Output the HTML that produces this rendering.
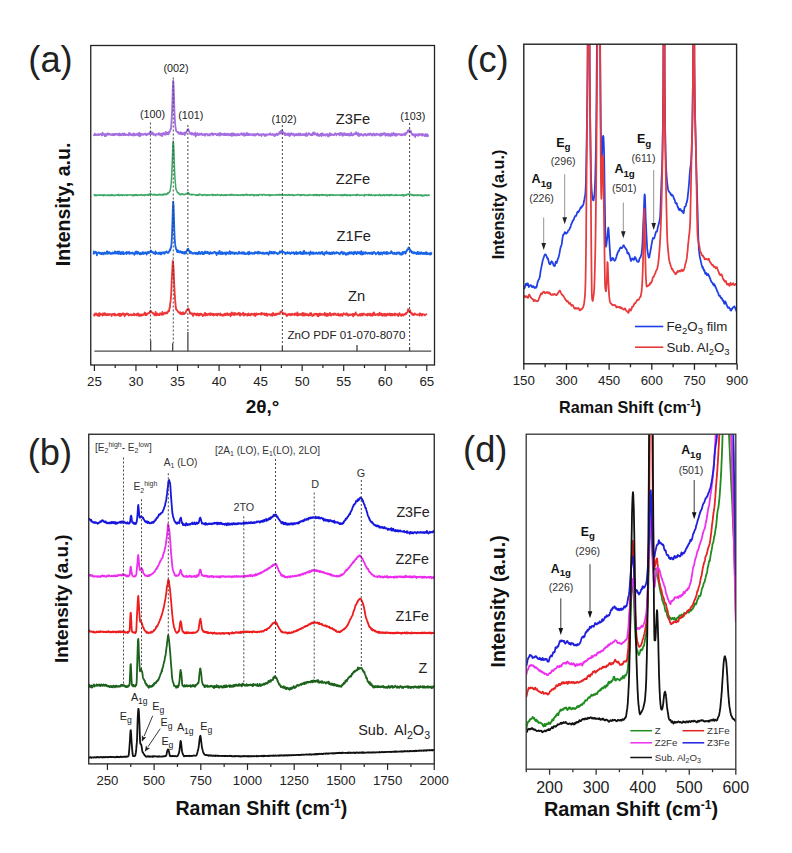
<!DOCTYPE html><html><head><meta charset="utf-8"><style>html,body{margin:0;padding:0;background:#fff;}svg{display:block;}text{font-family:"Liberation Sans", sans-serif;}</style></head><body>
<svg width="792" height="853" viewBox="0 0 792 853">
<rect width="792" height="853" fill="#fff"/>
<defs><clipPath id="ca"><rect x="90.75" y="45.5" width="343.75" height="319.5"/></clipPath></defs>
<line x1="94.40" y1="351.20" x2="431.25" y2="351.20" stroke="#4a4a4a" stroke-width="1.2" />
<line x1="150.66" y1="351.20" x2="150.66" y2="340.30" stroke="#444" stroke-width="1.3" />
<line x1="172.68" y1="351.20" x2="172.68" y2="343.30" stroke="#444" stroke-width="1.3" />
<line x1="187.89" y1="351.20" x2="187.89" y2="332.00" stroke="#444" stroke-width="1.3" />
<line x1="282.37" y1="351.20" x2="282.37" y2="345.80" stroke="#444" stroke-width="1.3" />
<line x1="357.00" y1="351.20" x2="357.00" y2="345.00" stroke="#444" stroke-width="1.3" />
<line x1="409.60" y1="351.20" x2="409.60" y2="347.00" stroke="#444" stroke-width="1.3" />
<path d="M93.6,134.8 L93.9,135.2 L94.3,134.8 L94.7,133.7 L95.1,135.2 L95.4,134.9 L95.8,134.2 L96.2,135.0 L96.6,134.8 L96.9,134.8 L97.3,134.6 L97.7,135.0 L98.1,134.1 L98.4,134.5 L98.8,134.2 L99.2,135.0 L99.6,134.6 L99.9,134.4 L100.3,134.0 L100.7,134.4 L101.0,134.6 L101.4,134.4 L101.8,135.5 L102.2,135.3 L102.5,132.7 L102.9,133.3 L103.3,134.5 L103.7,134.3 L104.0,134.7 L104.4,134.7 L104.8,136.1 L105.2,133.8 L105.5,134.3 L105.9,136.0 L106.3,135.0 L106.7,135.0 L107.0,134.2 L107.4,133.4 L107.8,134.7 L108.2,134.6 L108.5,133.7 L108.9,134.1 L109.3,134.5 L109.6,133.9 L110.0,134.5 L110.4,134.6 L110.8,134.6 L111.1,134.2 L111.5,135.0 L111.9,135.2 L112.3,134.8 L112.6,134.0 L113.0,135.1 L113.4,134.2 L113.8,135.2 L114.1,133.8 L114.5,135.2 L114.9,134.5 L115.3,133.7 L115.6,134.3 L116.0,134.6 L116.4,134.7 L116.8,133.9 L117.1,133.8 L117.5,134.7 L117.9,134.2 L118.2,134.7 L118.6,135.1 L119.0,133.4 L119.4,134.7 L119.7,135.4 L120.1,134.3 L120.5,134.0 L120.9,135.1 L121.2,134.7 L121.6,135.2 L122.0,134.3 L122.4,133.5 L122.7,134.5 L123.1,134.2 L123.5,135.1 L123.9,134.7 L124.2,133.4 L124.6,133.7 L125.0,135.2 L125.4,135.0 L125.7,134.1 L126.1,134.5 L126.5,134.8 L126.9,134.9 L127.2,135.1 L127.6,134.7 L128.0,134.5 L128.3,134.3 L128.7,135.3 L129.1,132.9 L129.5,134.4 L129.8,134.5 L130.2,133.5 L130.6,134.8 L131.0,134.1 L131.3,135.1 L131.7,134.4 L132.1,135.0 L132.5,135.4 L132.8,134.8 L133.2,133.9 L133.6,133.5 L134.0,135.7 L134.3,134.4 L134.7,134.0 L135.1,134.6 L135.5,134.4 L135.8,135.1 L136.2,134.5 L136.6,134.5 L136.9,134.0 L137.3,134.8 L137.7,133.8 L138.1,135.0 L138.4,135.6 L138.8,133.4 L139.2,132.8 L139.6,134.9 L139.9,136.3 L140.3,133.8 L140.7,133.6 L141.1,134.9 L141.4,133.9 L141.8,134.1 L142.2,134.2 L142.6,134.8 L142.9,134.2 L143.3,134.7 L143.7,134.3 L144.1,133.9 L144.4,134.2 L144.8,133.8 L145.2,134.4 L145.5,133.6 L145.9,133.7 L146.3,135.4 L146.7,134.3 L147.0,134.3 L147.4,134.7 L147.8,134.0 L148.2,134.0 L148.5,134.4 L148.9,134.1 L149.3,132.8 L149.7,133.8 L150.0,132.4 L150.4,131.8 L150.8,131.8 L151.2,132.4 L151.5,134.2 L151.9,132.6 L152.3,133.9 L152.7,132.5 L153.0,134.1 L153.4,134.9 L153.8,134.1 L154.1,133.9 L154.5,134.5 L154.9,134.8 L155.3,134.8 L155.6,135.7 L156.0,134.5 L156.4,133.9 L156.8,134.3 L157.1,134.3 L157.5,134.4 L157.9,134.3 L158.3,134.4 L158.6,133.2 L159.0,134.9 L159.4,133.9 L159.8,133.5 L160.1,134.7 L160.5,135.2 L160.9,134.6 L161.3,134.4 L161.6,133.6 L162.0,136.2 L162.4,134.8 L162.7,133.4 L163.1,133.6 L163.5,134.2 L163.9,133.0 L164.2,134.2 L164.6,133.7 L165.0,134.8 L165.4,134.6 L165.7,132.0 L166.1,133.8 L166.5,132.6 L166.9,134.4 L167.2,133.6 L167.6,133.8 L168.0,132.5 L168.4,134.3 L168.7,134.2 L169.1,131.7 L169.5,132.3 L169.9,131.1 L170.2,130.8 L170.6,128.7 L171.0,129.0 L171.4,123.6 L171.7,118.4 L172.1,110.4 L172.5,98.3 L172.8,87.0 L173.2,80.7 L173.6,85.0 L174.0,95.3 L174.3,107.4 L174.7,116.8 L175.1,123.0 L175.5,127.1 L175.8,129.1 L176.2,131.1 L176.6,131.2 L177.0,131.8 L177.3,131.9 L177.7,132.3 L178.1,132.0 L178.5,133.5 L178.8,132.5 L179.2,132.9 L179.6,133.8 L180.0,133.9 L180.3,133.4 L180.7,132.3 L181.1,134.1 L181.4,134.0 L181.8,132.9 L182.2,134.5 L182.6,133.4 L182.9,133.2 L183.3,134.0 L183.7,133.8 L184.1,134.1 L184.4,132.7 L184.8,135.0 L185.2,133.2 L185.6,132.3 L185.9,133.4 L186.3,132.1 L186.7,131.7 L187.1,130.4 L187.4,129.7 L187.8,129.5 L188.2,129.0 L188.6,130.7 L188.9,130.8 L189.3,131.4 L189.7,132.8 L190.0,133.6 L190.4,133.5 L190.8,133.3 L191.2,134.4 L191.5,132.9 L191.9,133.4 L192.3,134.2 L192.7,133.3 L193.0,134.3 L193.4,134.2 L193.8,134.9 L194.2,133.7 L194.5,133.9 L194.9,134.6 L195.3,132.6 L195.7,136.5 L196.0,133.9 L196.4,133.9 L196.8,135.0 L197.2,134.4 L197.5,133.1 L197.9,134.8 L198.3,135.0 L198.6,134.1 L199.0,134.2 L199.4,134.8 L199.8,133.8 L200.1,134.7 L200.5,134.6 L200.9,134.0 L201.3,133.5 L201.6,134.3 L202.0,133.8 L202.4,135.1 L202.8,134.5 L203.1,135.0 L203.5,134.5 L203.9,134.6 L204.3,133.9 L204.6,134.9 L205.0,135.7 L205.4,134.2 L205.8,134.0 L206.1,134.3 L206.5,134.1 L206.9,134.0 L207.2,134.6 L207.6,134.3 L208.0,135.5 L208.4,134.5 L208.7,134.7 L209.1,135.1 L209.5,134.3 L209.9,135.5 L210.2,134.0 L210.6,133.9 L211.0,134.2 L211.4,134.4 L211.7,133.5 L212.1,134.4 L212.5,133.3 L212.9,135.4 L213.2,134.4 L213.6,134.0 L214.0,133.8 L214.4,134.2 L214.7,134.3 L215.1,133.7 L215.5,133.8 L215.9,134.3 L216.2,134.1 L216.6,135.1 L217.0,135.3 L217.3,134.5 L217.7,134.8 L218.1,133.5 L218.5,134.9 L218.8,134.5 L219.2,134.8 L219.6,135.6 L220.0,132.9 L220.3,134.7 L220.7,133.7 L221.1,134.9 L221.5,133.6 L221.8,134.1 L222.2,134.6 L222.6,134.9 L223.0,134.5 L223.3,133.9 L223.7,134.1 L224.1,135.1 L224.5,134.5 L224.8,133.3 L225.2,135.1 L225.6,134.8 L225.9,135.1 L226.3,134.2 L226.7,135.1 L227.1,133.7 L227.4,134.9 L227.8,134.1 L228.2,135.0 L228.6,135.2 L228.9,134.0 L229.3,134.4 L229.7,134.5 L230.1,135.3 L230.4,135.0 L230.8,133.6 L231.2,134.8 L231.6,135.0 L231.9,136.0 L232.3,133.3 L232.7,134.1 L233.1,135.4 L233.4,133.5 L233.8,133.6 L234.2,134.8 L234.5,135.2 L234.9,134.0 L235.3,134.9 L235.7,134.6 L236.0,135.5 L236.4,134.5 L236.8,135.2 L237.2,133.9 L237.5,134.4 L237.9,134.4 L238.3,135.3 L238.7,134.9 L239.0,134.0 L239.4,135.0 L239.8,135.0 L240.2,134.4 L240.5,134.3 L240.9,134.4 L241.3,133.3 L241.7,134.6 L242.0,134.7 L242.4,133.9 L242.8,135.0 L243.1,133.5 L243.5,134.1 L243.9,134.2 L244.3,135.9 L244.6,133.4 L245.0,134.9 L245.4,135.1 L245.8,134.8 L246.1,135.3 L246.5,133.8 L246.9,132.9 L247.3,135.0 L247.6,133.7 L248.0,134.3 L248.4,133.7 L248.8,135.2 L249.1,135.1 L249.5,134.0 L249.9,135.1 L250.3,134.6 L250.6,134.4 L251.0,134.5 L251.4,134.3 L251.7,134.9 L252.1,134.7 L252.5,134.2 L252.9,135.2 L253.2,134.1 L253.6,134.7 L254.0,134.8 L254.4,135.5 L254.7,134.1 L255.1,135.7 L255.5,134.6 L255.9,134.4 L256.2,134.0 L256.6,134.9 L257.0,134.5 L257.4,133.7 L257.7,133.7 L258.1,134.1 L258.5,134.0 L258.9,135.2 L259.2,135.4 L259.6,135.1 L260.0,134.7 L260.4,134.2 L260.7,134.5 L261.1,135.1 L261.5,136.0 L261.8,135.1 L262.2,134.3 L262.6,134.5 L263.0,134.1 L263.3,133.9 L263.7,134.4 L264.1,134.6 L264.5,135.8 L264.8,134.5 L265.2,135.4 L265.6,135.7 L266.0,134.5 L266.3,135.6 L266.7,135.0 L267.1,134.2 L267.5,134.7 L267.8,134.5 L268.2,134.3 L268.6,134.3 L269.0,134.6 L269.3,134.8 L269.7,133.8 L270.1,134.5 L270.4,133.4 L270.8,134.6 L271.2,134.9 L271.6,134.6 L271.9,134.7 L272.3,134.9 L272.7,134.0 L273.1,134.3 L273.4,134.8 L273.8,135.1 L274.2,134.7 L274.6,136.2 L274.9,134.3 L275.3,135.1 L275.7,135.3 L276.1,134.3 L276.4,133.8 L276.8,133.5 L277.2,134.4 L277.6,135.0 L277.9,134.4 L278.3,134.3 L278.7,133.7 L279.0,134.2 L279.4,132.1 L279.8,133.4 L280.2,132.9 L280.5,131.5 L280.9,133.5 L281.3,130.7 L281.7,130.7 L282.0,130.8 L282.4,132.7 L282.8,131.7 L283.2,133.2 L283.5,133.6 L283.9,133.7 L284.3,132.9 L284.7,133.5 L285.0,135.3 L285.4,133.3 L285.8,133.7 L286.2,134.2 L286.5,134.9 L286.9,134.5 L287.3,134.9 L287.6,133.6 L288.0,135.1 L288.4,134.8 L288.8,133.3 L289.1,135.5 L289.5,136.0 L289.9,133.9 L290.3,134.5 L290.6,135.4 L291.0,133.4 L291.4,133.1 L291.8,133.6 L292.1,134.1 L292.5,134.1 L292.9,134.9 L293.3,134.7 L293.6,133.6 L294.0,134.9 L294.4,135.8 L294.8,135.3 L295.1,135.2 L295.5,134.5 L295.9,135.2 L296.2,133.8 L296.6,135.0 L297.0,134.4 L297.4,135.3 L297.7,134.8 L298.1,133.7 L298.5,134.6 L298.9,135.4 L299.2,133.7 L299.6,134.1 L300.0,134.0 L300.4,133.5 L300.7,135.2 L301.1,135.4 L301.5,135.1 L301.9,134.7 L302.2,134.5 L302.6,134.7 L303.0,134.0 L303.4,135.1 L303.7,135.2 L304.1,135.2 L304.5,134.1 L304.9,134.6 L305.2,134.4 L305.6,135.8 L306.0,134.6 L306.3,133.2 L306.7,134.8 L307.1,135.8 L307.5,135.0 L307.8,135.1 L308.2,134.5 L308.6,133.1 L309.0,133.3 L309.3,133.6 L309.7,134.4 L310.1,134.7 L310.5,135.0 L310.8,134.3 L311.2,135.2 L311.6,134.3 L312.0,134.0 L312.3,135.1 L312.7,133.9 L313.1,132.6 L313.5,133.8 L313.8,134.6 L314.2,132.4 L314.6,134.3 L314.9,134.3 L315.3,133.5 L315.7,133.5 L316.1,134.2 L316.4,134.1 L316.8,135.4 L317.2,134.8 L317.6,133.4 L317.9,133.9 L318.3,135.0 L318.7,135.9 L319.1,134.8 L319.4,134.8 L319.8,135.8 L320.2,134.5 L320.6,134.3 L320.9,133.6 L321.3,134.2 L321.7,136.1 L322.1,133.5 L322.4,134.5 L322.8,133.6 L323.2,134.6 L323.5,135.2 L323.9,134.4 L324.3,135.1 L324.7,135.0 L325.0,134.9 L325.4,135.7 L325.8,135.1 L326.2,134.3 L326.5,134.1 L326.9,134.0 L327.3,134.9 L327.7,134.3 L328.0,136.5 L328.4,135.8 L328.8,134.4 L329.2,134.3 L329.5,135.7 L329.9,133.2 L330.3,134.2 L330.7,135.2 L331.0,133.9 L331.4,134.2 L331.8,134.3 L332.1,135.0 L332.5,134.7 L332.9,134.8 L333.3,135.0 L333.6,134.6 L334.0,135.3 L334.4,134.1 L334.8,133.6 L335.1,133.3 L335.5,133.4 L335.9,134.2 L336.3,135.3 L336.6,134.7 L337.0,134.1 L337.4,133.8 L337.8,134.2 L338.1,134.3 L338.5,134.2 L338.9,133.6 L339.3,134.2 L339.6,135.3 L340.0,133.0 L340.4,134.4 L340.7,133.1 L341.1,134.7 L341.5,134.1 L341.9,133.1 L342.2,134.6 L342.6,135.8 L343.0,134.7 L343.4,135.4 L343.7,134.5 L344.1,133.1 L344.5,134.9 L344.9,134.3 L345.2,133.6 L345.6,135.1 L346.0,134.8 L346.4,134.2 L346.7,135.2 L347.1,134.0 L347.5,135.0 L347.9,133.9 L348.2,135.0 L348.6,133.8 L349.0,135.6 L349.4,134.8 L349.7,135.6 L350.1,134.0 L350.5,134.3 L350.8,135.2 L351.2,132.7 L351.6,133.8 L352.0,135.3 L352.3,134.9 L352.7,135.3 L353.1,134.4 L353.5,135.0 L353.8,134.1 L354.2,133.6 L354.6,133.4 L355.0,134.2 L355.3,134.2 L355.7,134.2 L356.1,132.1 L356.5,133.2 L356.8,134.2 L357.2,134.8 L357.6,134.2 L358.0,134.0 L358.3,133.0 L358.7,136.0 L359.1,133.8 L359.4,135.8 L359.8,135.7 L360.2,134.8 L360.6,134.2 L360.9,134.7 L361.3,133.8 L361.7,134.8 L362.1,134.6 L362.4,135.0 L362.8,135.3 L363.2,135.8 L363.6,134.3 L363.9,135.3 L364.3,134.1 L364.7,134.0 L365.1,134.2 L365.4,133.9 L365.8,135.3 L366.2,135.3 L366.6,135.5 L366.9,134.6 L367.3,134.8 L367.7,134.2 L368.0,133.8 L368.4,134.9 L368.8,134.8 L369.2,133.9 L369.5,135.0 L369.9,133.4 L370.3,134.5 L370.7,134.2 L371.0,134.3 L371.4,133.9 L371.8,135.3 L372.2,135.0 L372.5,135.5 L372.9,134.7 L373.3,133.7 L373.7,134.4 L374.0,133.8 L374.4,135.0 L374.8,135.5 L375.2,134.9 L375.5,134.2 L375.9,134.4 L376.3,134.8 L376.6,133.6 L377.0,134.7 L377.4,134.8 L377.8,134.3 L378.1,134.3 L378.5,134.8 L378.9,134.1 L379.3,134.1 L379.6,135.2 L380.0,134.8 L380.4,135.8 L380.8,133.9 L381.1,133.4 L381.5,135.3 L381.9,135.3 L382.3,134.1 L382.6,133.6 L383.0,134.6 L383.4,133.4 L383.8,134.4 L384.1,133.1 L384.5,134.5 L384.9,133.2 L385.3,134.5 L385.6,135.7 L386.0,134.4 L386.4,135.2 L386.7,134.2 L387.1,134.0 L387.5,133.6 L387.9,135.4 L388.2,134.6 L388.6,135.8 L389.0,133.8 L389.4,134.5 L389.7,134.7 L390.1,135.6 L390.5,135.9 L390.9,134.2 L391.2,133.8 L391.6,133.4 L392.0,135.6 L392.4,134.6 L392.7,134.2 L393.1,134.6 L393.5,132.8 L393.9,133.4 L394.2,135.3 L394.6,134.9 L395.0,134.7 L395.3,133.9 L395.7,135.0 L396.1,135.9 L396.5,133.8 L396.8,134.6 L397.2,134.3 L397.6,134.9 L398.0,134.6 L398.3,134.5 L398.7,134.0 L399.1,134.6 L399.5,134.2 L399.8,134.5 L400.2,134.5 L400.6,135.0 L401.0,134.2 L401.3,134.3 L401.7,135.3 L402.1,134.4 L402.5,134.3 L402.8,135.1 L403.2,134.7 L403.6,134.5 L403.9,134.6 L404.3,133.5 L404.7,134.7 L405.1,135.2 L405.4,134.5 L405.8,132.9 L406.2,133.9 L406.6,132.7 L406.9,132.7 L407.3,132.4 L407.7,130.7 L408.1,131.8 L408.4,130.1 L408.8,130.3 L409.2,130.2 L409.6,131.1 L409.9,131.6 L410.3,130.5 L410.7,132.2 L411.1,131.3 L411.4,133.0 L411.8,134.2 L412.2,134.6 L412.5,135.1 L412.9,134.0 L413.3,134.6 L413.7,134.5 L414.0,135.4 L414.4,135.6 L414.8,134.3 L415.2,137.2 L415.5,134.6 L415.9,134.3 L416.3,135.0 L416.7,135.2 L417.0,135.0 L417.4,134.2 L417.8,135.7 L418.2,134.7 L418.5,135.7 L418.9,135.6 L419.3,133.8 L419.7,134.0 L420.0,134.0 L420.4,134.9 L420.8,134.7 L421.1,134.9 L421.5,134.1 L421.9,135.0 L422.3,135.7 L422.6,133.8 L423.0,134.6 L423.4,134.9 L423.8,134.6 L424.1,134.6 L424.5,136.0 L424.9,135.6 L425.3,135.3 L425.6,134.2 L426.0,136.3 L426.4,135.0 L426.8,134.3 L427.1,134.5 L427.5,134.4 L427.9,136.2 L428.3,134.9" fill="none" stroke="#a46ee0" stroke-width="1.8" stroke-linejoin="round" clip-path="url(#ca)"/>
<path d="M93.6,195.2 L93.9,195.0 L94.3,195.1 L94.7,194.5 L95.1,195.7 L95.4,195.5 L95.8,195.1 L96.2,195.4 L96.6,195.3 L96.9,195.0 L97.3,195.5 L97.7,195.1 L98.1,195.1 L98.4,194.9 L98.8,195.3 L99.2,195.1 L99.6,195.3 L99.9,195.0 L100.3,195.2 L100.7,194.9 L101.0,195.4 L101.4,195.2 L101.8,195.3 L102.2,195.3 L102.5,194.9 L102.9,195.4 L103.3,195.8 L103.7,194.7 L104.0,194.6 L104.4,194.7 L104.8,195.4 L105.2,195.2 L105.5,195.5 L105.9,195.4 L106.3,195.2 L106.7,195.2 L107.0,195.1 L107.4,195.4 L107.8,194.8 L108.2,195.0 L108.5,195.2 L108.9,195.7 L109.3,194.9 L109.6,194.8 L110.0,195.0 L110.4,195.4 L110.8,195.1 L111.1,195.5 L111.5,194.6 L111.9,195.5 L112.3,195.5 L112.6,194.7 L113.0,195.2 L113.4,195.5 L113.8,195.2 L114.1,195.4 L114.5,195.8 L114.9,195.2 L115.3,195.0 L115.6,194.9 L116.0,195.3 L116.4,195.1 L116.8,195.1 L117.1,195.1 L117.5,195.3 L117.9,194.8 L118.2,194.7 L118.6,194.4 L119.0,195.5 L119.4,195.1 L119.7,195.6 L120.1,195.1 L120.5,194.9 L120.9,195.3 L121.2,195.1 L121.6,194.7 L122.0,194.8 L122.4,195.6 L122.7,195.2 L123.1,195.2 L123.5,195.0 L123.9,194.9 L124.2,195.4 L124.6,195.1 L125.0,194.9 L125.4,195.1 L125.7,194.8 L126.1,195.2 L126.5,195.4 L126.9,194.8 L127.2,195.5 L127.6,194.9 L128.0,195.1 L128.3,194.8 L128.7,195.0 L129.1,195.1 L129.5,195.0 L129.8,194.9 L130.2,194.9 L130.6,194.8 L131.0,194.6 L131.3,195.0 L131.7,195.2 L132.1,195.4 L132.5,195.3 L132.8,195.8 L133.2,195.2 L133.6,194.9 L134.0,195.6 L134.3,194.8 L134.7,195.4 L135.1,194.8 L135.5,195.2 L135.8,194.5 L136.2,195.3 L136.6,195.0 L136.9,194.8 L137.3,195.6 L137.7,195.3 L138.1,195.1 L138.4,194.8 L138.8,195.0 L139.2,195.0 L139.6,195.3 L139.9,195.3 L140.3,194.8 L140.7,194.9 L141.1,194.9 L141.4,194.6 L141.8,194.9 L142.2,195.0 L142.6,195.2 L142.9,195.4 L143.3,194.8 L143.7,195.2 L144.1,194.9 L144.4,195.6 L144.8,195.0 L145.2,195.2 L145.5,194.7 L145.9,194.7 L146.3,195.0 L146.7,194.9 L147.0,195.1 L147.4,194.5 L147.8,195.1 L148.2,194.6 L148.5,195.3 L148.9,194.6 L149.3,194.9 L149.7,193.9 L150.0,194.3 L150.4,193.7 L150.8,193.8 L151.2,194.1 L151.5,194.2 L151.9,194.5 L152.3,194.8 L152.7,194.9 L153.0,194.8 L153.4,194.4 L153.8,194.6 L154.1,194.8 L154.5,194.2 L154.9,195.1 L155.3,194.8 L155.6,194.8 L156.0,195.2 L156.4,195.1 L156.8,194.9 L157.1,194.6 L157.5,194.9 L157.9,194.9 L158.3,194.6 L158.6,195.1 L159.0,195.0 L159.4,194.2 L159.8,194.8 L160.1,194.4 L160.5,195.1 L160.9,195.0 L161.3,194.4 L161.6,194.4 L162.0,194.7 L162.4,194.6 L162.7,195.1 L163.1,194.8 L163.5,194.4 L163.9,194.7 L164.2,193.8 L164.6,194.5 L165.0,194.6 L165.4,194.2 L165.7,194.0 L166.1,194.3 L166.5,194.6 L166.9,193.9 L167.2,193.4 L167.6,194.0 L168.0,192.8 L168.4,193.2 L168.7,192.6 L169.1,192.6 L169.5,191.6 L169.9,191.5 L170.2,190.1 L170.6,187.8 L171.0,184.9 L171.4,181.0 L171.7,175.1 L172.1,166.0 L172.5,155.6 L172.8,145.8 L173.2,141.3 L173.6,144.3 L174.0,153.3 L174.3,163.4 L174.7,173.3 L175.1,180.3 L175.5,184.3 L175.8,188.5 L176.2,189.9 L176.6,190.7 L177.0,191.1 L177.3,192.4 L177.7,192.8 L178.1,192.8 L178.5,192.7 L178.8,193.8 L179.2,193.5 L179.6,193.7 L180.0,194.8 L180.3,194.7 L180.7,194.4 L181.1,194.1 L181.4,194.5 L181.8,193.6 L182.2,194.4 L182.6,194.2 L182.9,194.1 L183.3,194.0 L183.7,194.7 L184.1,194.5 L184.4,194.6 L184.8,194.8 L185.2,194.2 L185.6,194.0 L185.9,193.7 L186.3,193.9 L186.7,193.9 L187.1,193.3 L187.4,193.2 L187.8,192.4 L188.2,192.8 L188.6,193.0 L188.9,193.2 L189.3,194.5 L189.7,194.5 L190.0,194.3 L190.4,194.4 L190.8,194.7 L191.2,194.3 L191.5,194.9 L191.9,194.4 L192.3,194.7 L192.7,194.5 L193.0,194.7 L193.4,194.5 L193.8,194.4 L194.2,194.6 L194.5,194.7 L194.9,194.8 L195.3,194.9 L195.7,195.4 L196.0,195.1 L196.4,194.8 L196.8,195.1 L197.2,194.7 L197.5,195.4 L197.9,195.1 L198.3,194.5 L198.6,195.2 L199.0,195.2 L199.4,194.1 L199.8,194.7 L200.1,194.8 L200.5,194.4 L200.9,194.6 L201.3,194.7 L201.6,195.1 L202.0,195.0 L202.4,195.7 L202.8,194.8 L203.1,195.3 L203.5,195.0 L203.9,195.0 L204.3,194.6 L204.6,194.4 L205.0,194.7 L205.4,195.2 L205.8,195.4 L206.1,195.1 L206.5,195.1 L206.9,194.7 L207.2,195.4 L207.6,195.4 L208.0,194.8 L208.4,195.0 L208.7,194.7 L209.1,195.4 L209.5,195.1 L209.9,194.9 L210.2,195.1 L210.6,195.1 L211.0,194.9 L211.4,194.6 L211.7,194.6 L212.1,194.5 L212.5,195.1 L212.9,195.6 L213.2,194.5 L213.6,195.0 L214.0,195.1 L214.4,194.7 L214.7,195.0 L215.1,194.7 L215.5,195.3 L215.9,194.8 L216.2,195.0 L216.6,195.2 L217.0,194.9 L217.3,194.4 L217.7,194.8 L218.1,195.2 L218.5,195.0 L218.8,195.1 L219.2,194.7 L219.6,195.0 L220.0,195.2 L220.3,195.0 L220.7,195.6 L221.1,194.9 L221.5,194.7 L221.8,194.5 L222.2,195.3 L222.6,195.0 L223.0,195.3 L223.3,195.1 L223.7,195.5 L224.1,195.4 L224.5,194.9 L224.8,195.1 L225.2,195.3 L225.6,194.6 L225.9,195.4 L226.3,195.4 L226.7,195.3 L227.1,194.9 L227.4,195.1 L227.8,194.7 L228.2,195.0 L228.6,194.8 L228.9,195.0 L229.3,194.8 L229.7,195.1 L230.1,195.3 L230.4,194.6 L230.8,195.3 L231.2,194.4 L231.6,194.3 L231.9,195.0 L232.3,195.0 L232.7,195.1 L233.1,194.5 L233.4,195.0 L233.8,195.0 L234.2,195.4 L234.5,195.0 L234.9,195.1 L235.3,194.7 L235.7,194.9 L236.0,194.9 L236.4,195.2 L236.8,194.7 L237.2,194.7 L237.5,195.2 L237.9,195.5 L238.3,195.1 L238.7,195.1 L239.0,194.9 L239.4,195.3 L239.8,195.2 L240.2,195.5 L240.5,195.1 L240.9,194.7 L241.3,194.8 L241.7,194.7 L242.0,194.6 L242.4,195.4 L242.8,195.2 L243.1,194.6 L243.5,195.5 L243.9,195.1 L244.3,194.7 L244.6,195.1 L245.0,195.0 L245.4,194.8 L245.8,194.4 L246.1,195.0 L246.5,195.1 L246.9,194.2 L247.3,195.2 L247.6,195.2 L248.0,194.9 L248.4,195.0 L248.8,194.9 L249.1,194.7 L249.5,194.9 L249.9,195.4 L250.3,194.6 L250.6,195.1 L251.0,195.0 L251.4,194.8 L251.7,194.9 L252.1,194.6 L252.5,194.7 L252.9,195.0 L253.2,195.1 L253.6,194.7 L254.0,195.9 L254.4,194.8 L254.7,195.0 L255.1,194.9 L255.5,194.9 L255.9,195.4 L256.2,194.8 L256.6,195.4 L257.0,195.3 L257.4,194.7 L257.7,195.3 L258.1,194.8 L258.5,195.8 L258.9,194.9 L259.2,194.7 L259.6,194.4 L260.0,194.6 L260.4,194.8 L260.7,194.7 L261.1,194.6 L261.5,194.8 L261.8,194.9 L262.2,195.4 L262.6,194.5 L263.0,194.8 L263.3,194.7 L263.7,194.5 L264.1,194.6 L264.5,194.7 L264.8,195.2 L265.2,194.9 L265.6,194.8 L266.0,195.2 L266.3,195.1 L266.7,194.9 L267.1,195.1 L267.5,194.7 L267.8,195.2 L268.2,195.1 L268.6,194.9 L269.0,194.6 L269.3,195.5 L269.7,195.0 L270.1,195.9 L270.4,194.8 L270.8,195.3 L271.2,194.9 L271.6,195.1 L271.9,195.2 L272.3,194.8 L272.7,195.0 L273.1,195.0 L273.4,195.0 L273.8,195.2 L274.2,195.3 L274.6,195.2 L274.9,195.1 L275.3,194.9 L275.7,194.7 L276.1,194.8 L276.4,194.8 L276.8,195.2 L277.2,194.9 L277.6,194.6 L277.9,195.2 L278.3,194.8 L278.7,194.8 L279.0,194.9 L279.4,195.1 L279.8,194.3 L280.2,194.7 L280.5,195.1 L280.9,194.9 L281.3,194.7 L281.7,194.8 L282.0,195.4 L282.4,194.9 L282.8,195.2 L283.2,195.2 L283.5,194.9 L283.9,195.1 L284.3,194.9 L284.7,194.8 L285.0,194.7 L285.4,195.3 L285.8,194.9 L286.2,194.8 L286.5,194.7 L286.9,195.5 L287.3,195.2 L287.6,195.0 L288.0,194.8 L288.4,194.5 L288.8,195.1 L289.1,195.1 L289.5,194.6 L289.9,195.4 L290.3,195.2 L290.6,194.7 L291.0,194.8 L291.4,194.9 L291.8,195.1 L292.1,195.0 L292.5,194.5 L292.9,195.5 L293.3,195.1 L293.6,195.4 L294.0,195.4 L294.4,194.9 L294.8,195.1 L295.1,195.2 L295.5,195.2 L295.9,195.0 L296.2,194.8 L296.6,195.0 L297.0,194.8 L297.4,194.8 L297.7,194.4 L298.1,195.0 L298.5,194.7 L298.9,194.8 L299.2,195.0 L299.6,195.1 L300.0,195.6 L300.4,195.1 L300.7,194.6 L301.1,195.1 L301.5,194.8 L301.9,195.1 L302.2,194.8 L302.6,194.8 L303.0,194.9 L303.4,194.8 L303.7,194.5 L304.1,194.8 L304.5,195.0 L304.9,195.4 L305.2,194.9 L305.6,194.9 L306.0,195.2 L306.3,195.2 L306.7,195.5 L307.1,195.2 L307.5,195.0 L307.8,195.4 L308.2,195.5 L308.6,194.9 L309.0,195.1 L309.3,194.5 L309.7,194.9 L310.1,194.8 L310.5,195.0 L310.8,194.9 L311.2,195.0 L311.6,195.0 L312.0,195.2 L312.3,195.1 L312.7,194.9 L313.1,194.6 L313.5,195.4 L313.8,195.5 L314.2,194.9 L314.6,195.2 L314.9,194.6 L315.3,194.6 L315.7,195.0 L316.1,195.5 L316.4,194.7 L316.8,194.8 L317.2,195.5 L317.6,194.5 L317.9,195.2 L318.3,195.2 L318.7,195.0 L319.1,195.1 L319.4,195.8 L319.8,194.7 L320.2,194.9 L320.6,195.0 L320.9,194.8 L321.3,194.6 L321.7,195.5 L322.1,195.1 L322.4,194.5 L322.8,194.8 L323.2,195.2 L323.5,195.2 L323.9,194.6 L324.3,195.0 L324.7,195.1 L325.0,195.2 L325.4,195.2 L325.8,194.5 L326.2,195.6 L326.5,195.1 L326.9,195.6 L327.3,195.9 L327.7,195.0 L328.0,194.7 L328.4,195.3 L328.8,195.0 L329.2,194.9 L329.5,194.7 L329.9,195.6 L330.3,194.9 L330.7,194.6 L331.0,194.9 L331.4,194.7 L331.8,195.1 L332.1,194.9 L332.5,194.7 L332.9,195.2 L333.3,194.9 L333.6,195.3 L334.0,195.4 L334.4,194.9 L334.8,194.9 L335.1,195.1 L335.5,195.3 L335.9,195.1 L336.3,195.1 L336.6,195.1 L337.0,195.2 L337.4,195.3 L337.8,194.9 L338.1,194.9 L338.5,195.1 L338.9,194.9 L339.3,195.1 L339.6,195.2 L340.0,195.1 L340.4,194.9 L340.7,194.8 L341.1,195.6 L341.5,195.3 L341.9,194.7 L342.2,194.8 L342.6,195.6 L343.0,195.5 L343.4,195.1 L343.7,195.4 L344.1,194.6 L344.5,195.1 L344.9,195.3 L345.2,194.5 L345.6,194.8 L346.0,195.3 L346.4,195.4 L346.7,194.9 L347.1,195.2 L347.5,195.6 L347.9,195.0 L348.2,194.7 L348.6,195.1 L349.0,195.0 L349.4,195.5 L349.7,195.1 L350.1,194.8 L350.5,195.8 L350.8,194.9 L351.2,195.2 L351.6,195.3 L352.0,195.3 L352.3,195.1 L352.7,195.3 L353.1,195.1 L353.5,194.7 L353.8,195.0 L354.2,195.0 L354.6,195.0 L355.0,195.1 L355.3,194.9 L355.7,195.5 L356.1,195.6 L356.5,194.4 L356.8,195.1 L357.2,194.9 L357.6,194.3 L358.0,195.2 L358.3,194.9 L358.7,195.0 L359.1,194.9 L359.4,195.4 L359.8,195.5 L360.2,195.2 L360.6,195.3 L360.9,195.1 L361.3,195.2 L361.7,194.9 L362.1,195.1 L362.4,194.9 L362.8,195.2 L363.2,195.4 L363.6,195.2 L363.9,195.5 L364.3,195.9 L364.7,194.5 L365.1,195.1 L365.4,194.9 L365.8,195.0 L366.2,194.7 L366.6,195.1 L366.9,195.0 L367.3,194.9 L367.7,195.0 L368.0,194.9 L368.4,194.4 L368.8,195.4 L369.2,195.0 L369.5,194.8 L369.9,195.2 L370.3,194.9 L370.7,194.5 L371.0,195.4 L371.4,194.6 L371.8,195.1 L372.2,195.2 L372.5,195.5 L372.9,195.5 L373.3,195.2 L373.7,194.9 L374.0,195.0 L374.4,195.5 L374.8,195.7 L375.2,195.3 L375.5,194.9 L375.9,195.4 L376.3,195.0 L376.6,195.0 L377.0,195.1 L377.4,195.3 L377.8,195.2 L378.1,195.4 L378.5,195.5 L378.9,195.3 L379.3,194.4 L379.6,194.6 L380.0,195.2 L380.4,195.1 L380.8,195.8 L381.1,195.1 L381.5,195.1 L381.9,195.4 L382.3,195.5 L382.6,195.1 L383.0,195.3 L383.4,194.8 L383.8,194.9 L384.1,195.5 L384.5,194.7 L384.9,195.4 L385.3,195.4 L385.6,195.4 L386.0,195.4 L386.4,195.3 L386.7,194.5 L387.1,194.9 L387.5,195.0 L387.9,195.4 L388.2,194.8 L388.6,195.0 L389.0,195.1 L389.4,195.6 L389.7,194.7 L390.1,194.8 L390.5,195.4 L390.9,194.5 L391.2,195.3 L391.6,195.0 L392.0,194.7 L392.4,195.1 L392.7,194.9 L393.1,195.2 L393.5,195.3 L393.9,195.6 L394.2,195.2 L394.6,195.2 L395.0,195.0 L395.3,195.2 L395.7,195.5 L396.1,194.6 L396.5,195.4 L396.8,195.0 L397.2,195.2 L397.6,195.3 L398.0,195.4 L398.3,195.3 L398.7,195.1 L399.1,195.3 L399.5,195.2 L399.8,195.1 L400.2,195.2 L400.6,195.4 L401.0,195.2 L401.3,195.2 L401.7,194.8 L402.1,195.1 L402.5,194.6 L402.8,195.4 L403.2,194.9 L403.6,195.6 L403.9,196.1 L404.3,195.0 L404.7,195.5 L405.1,195.2 L405.4,194.9 L405.8,194.8 L406.2,195.2 L406.6,195.3 L406.9,194.9 L407.3,194.2 L407.7,194.2 L408.1,194.2 L408.4,194.5 L408.8,194.1 L409.2,194.1 L409.6,194.5 L409.9,194.2 L410.3,194.4 L410.7,194.6 L411.1,194.2 L411.4,195.0 L411.8,195.1 L412.2,195.4 L412.5,194.7 L412.9,194.9 L413.3,195.4 L413.7,195.3 L414.0,195.6 L414.4,194.9 L414.8,195.3 L415.2,195.0 L415.5,195.3 L415.9,195.1 L416.3,195.4 L416.7,195.5 L417.0,195.4 L417.4,194.7 L417.8,195.5 L418.2,195.4 L418.5,194.9 L418.9,195.0 L419.3,195.2 L419.7,195.4 L420.0,195.1 L420.4,194.8 L420.8,195.3 L421.1,195.3 L421.5,196.0 L421.9,194.9 L422.3,196.0 L422.6,195.8 L423.0,195.4 L423.4,195.8 L423.8,195.3 L424.1,195.6 L424.5,195.0 L424.9,195.3 L425.3,195.0 L425.6,194.8 L426.0,195.2 L426.4,195.1 L426.8,195.4 L427.1,195.7 L427.5,195.2 L427.9,195.3 L428.3,195.3 L428.6,194.8 L429.0,195.4 L429.4,195.3 L429.8,195.3" fill="none" stroke="#3ca866" stroke-width="1.5" stroke-linejoin="round" clip-path="url(#ca)"/>
<path d="M93.6,254.5 L93.9,251.3 L94.3,253.4 L94.7,252.7 L95.1,252.8 L95.4,252.9 L95.8,251.7 L96.2,252.9 L96.6,252.5 L96.9,255.4 L97.3,253.2 L97.7,252.8 L98.1,252.9 L98.4,252.6 L98.8,252.3 L99.2,252.8 L99.6,253.4 L99.9,252.9 L100.3,253.8 L100.7,252.9 L101.0,253.1 L101.4,254.2 L101.8,253.5 L102.2,252.7 L102.5,252.9 L102.9,253.5 L103.3,254.4 L103.7,252.9 L104.0,252.9 L104.4,253.8 L104.8,252.5 L105.2,252.9 L105.5,253.7 L105.9,253.5 L106.3,253.1 L106.7,253.5 L107.0,251.1 L107.4,253.8 L107.8,252.4 L108.2,251.9 L108.5,253.3 L108.9,253.6 L109.3,252.8 L109.6,252.3 L110.0,253.1 L110.4,253.0 L110.8,254.0 L111.1,253.6 L111.5,253.2 L111.9,253.8 L112.3,252.9 L112.6,252.4 L113.0,253.5 L113.4,253.5 L113.8,252.9 L114.1,252.5 L114.5,253.2 L114.9,251.3 L115.3,253.5 L115.6,253.4 L116.0,251.9 L116.4,253.1 L116.8,252.4 L117.1,253.6 L117.5,251.6 L117.9,252.4 L118.2,253.5 L118.6,253.9 L119.0,251.5 L119.4,252.7 L119.7,253.3 L120.1,252.6 L120.5,254.2 L120.9,252.2 L121.2,253.3 L121.6,252.3 L122.0,254.0 L122.4,253.0 L122.7,252.8 L123.1,251.8 L123.5,254.2 L123.9,253.6 L124.2,253.6 L124.6,253.8 L125.0,253.3 L125.4,252.6 L125.7,252.5 L126.1,252.5 L126.5,254.0 L126.9,252.0 L127.2,252.6 L127.6,252.8 L128.0,253.2 L128.3,253.4 L128.7,252.2 L129.1,251.8 L129.5,253.0 L129.8,253.9 L130.2,253.6 L130.6,253.2 L131.0,252.8 L131.3,253.2 L131.7,252.9 L132.1,253.6 L132.5,252.5 L132.8,253.1 L133.2,252.9 L133.6,253.4 L134.0,253.2 L134.3,254.8 L134.7,254.1 L135.1,254.1 L135.5,251.6 L135.8,252.8 L136.2,252.6 L136.6,253.4 L136.9,251.4 L137.3,253.8 L137.7,253.8 L138.1,252.1 L138.4,252.3 L138.8,252.4 L139.2,253.0 L139.6,253.4 L139.9,254.4 L140.3,252.9 L140.7,253.5 L141.1,253.1 L141.4,254.2 L141.8,253.5 L142.2,253.9 L142.6,252.2 L142.9,252.8 L143.3,252.4 L143.7,254.0 L144.1,253.4 L144.4,252.8 L144.8,252.6 L145.2,253.3 L145.5,252.5 L145.9,252.3 L146.3,253.3 L146.7,254.6 L147.0,252.7 L147.4,252.5 L147.8,252.0 L148.2,251.8 L148.5,253.1 L148.9,253.1 L149.3,252.3 L149.7,252.3 L150.0,251.8 L150.4,251.6 L150.8,250.4 L151.2,251.3 L151.5,252.0 L151.9,251.7 L152.3,252.1 L152.7,252.0 L153.0,252.5 L153.4,253.4 L153.8,252.5 L154.1,252.7 L154.5,253.4 L154.9,253.3 L155.3,254.1 L155.6,251.4 L156.0,253.5 L156.4,252.5 L156.8,253.0 L157.1,253.5 L157.5,253.6 L157.9,253.6 L158.3,253.0 L158.6,254.0 L159.0,252.7 L159.4,252.7 L159.8,253.4 L160.1,252.4 L160.5,254.3 L160.9,253.5 L161.3,254.3 L161.6,252.8 L162.0,252.5 L162.4,252.9 L162.7,253.2 L163.1,252.3 L163.5,253.0 L163.9,252.7 L164.2,253.8 L164.6,252.1 L165.0,253.3 L165.4,252.1 L165.7,251.8 L166.1,251.9 L166.5,251.5 L166.9,252.4 L167.2,252.9 L167.6,252.2 L168.0,252.4 L168.4,252.9 L168.7,251.8 L169.1,251.5 L169.5,250.8 L169.9,249.5 L170.2,250.5 L170.6,247.9 L171.0,248.0 L171.4,244.8 L171.7,240.8 L172.1,232.1 L172.5,220.4 L172.8,209.1 L173.2,201.7 L173.6,206.4 L174.0,218.2 L174.3,229.8 L174.7,238.4 L175.1,243.4 L175.5,247.0 L175.8,247.3 L176.2,249.7 L176.6,249.6 L177.0,251.7 L177.3,252.1 L177.7,250.1 L178.1,251.8 L178.5,251.8 L178.8,251.3 L179.2,252.5 L179.6,251.9 L180.0,251.1 L180.3,252.2 L180.7,252.3 L181.1,252.5 L181.4,251.6 L181.8,252.9 L182.2,253.1 L182.6,251.8 L182.9,252.1 L183.3,252.5 L183.7,252.2 L184.1,253.8 L184.4,252.7 L184.8,251.8 L185.2,251.8 L185.6,252.1 L185.9,253.5 L186.3,251.3 L186.7,250.8 L187.1,250.4 L187.4,249.2 L187.8,250.5 L188.2,248.7 L188.6,250.2 L188.9,250.6 L189.3,251.6 L189.7,250.9 L190.0,253.4 L190.4,252.3 L190.8,252.6 L191.2,252.0 L191.5,252.2 L191.9,253.1 L192.3,253.5 L192.7,253.3 L193.0,253.7 L193.4,253.3 L193.8,252.9 L194.2,253.4 L194.5,253.3 L194.9,252.8 L195.3,253.4 L195.7,253.8 L196.0,253.1 L196.4,252.7 L196.8,253.4 L197.2,254.2 L197.5,252.8 L197.9,252.9 L198.3,252.8 L198.6,253.8 L199.0,251.6 L199.4,253.2 L199.8,253.8 L200.1,252.4 L200.5,254.0 L200.9,253.3 L201.3,252.6 L201.6,253.1 L202.0,251.9 L202.4,252.6 L202.8,254.2 L203.1,252.3 L203.5,254.2 L203.9,252.9 L204.3,253.7 L204.6,253.0 L205.0,251.4 L205.4,252.6 L205.8,253.1 L206.1,252.2 L206.5,252.0 L206.9,253.2 L207.2,252.5 L207.6,251.8 L208.0,252.5 L208.4,253.6 L208.7,252.6 L209.1,253.6 L209.5,254.0 L209.9,253.0 L210.2,252.2 L210.6,252.1 L211.0,253.0 L211.4,253.6 L211.7,253.2 L212.1,253.4 L212.5,252.7 L212.9,253.2 L213.2,252.6 L213.6,252.7 L214.0,252.1 L214.4,251.9 L214.7,252.6 L215.1,252.2 L215.5,252.3 L215.9,253.4 L216.2,252.9 L216.6,255.0 L217.0,253.6 L217.3,252.5 L217.7,253.5 L218.1,253.2 L218.5,252.5 L218.8,253.8 L219.2,252.4 L219.6,250.8 L220.0,253.5 L220.3,252.6 L220.7,254.0 L221.1,252.5 L221.5,252.2 L221.8,254.1 L222.2,252.2 L222.6,253.1 L223.0,254.0 L223.3,253.1 L223.7,252.9 L224.1,253.1 L224.5,253.6 L224.8,252.4 L225.2,253.4 L225.6,253.4 L225.9,254.6 L226.3,252.8 L226.7,252.3 L227.1,253.5 L227.4,252.7 L227.8,253.2 L228.2,253.1 L228.6,253.8 L228.9,252.5 L229.3,252.9 L229.7,251.2 L230.1,252.4 L230.4,254.1 L230.8,252.5 L231.2,252.5 L231.6,252.1 L231.9,253.4 L232.3,253.1 L232.7,252.2 L233.1,253.5 L233.4,253.2 L233.8,253.5 L234.2,252.5 L234.5,254.2 L234.9,253.3 L235.3,252.9 L235.7,252.6 L236.0,252.8 L236.4,253.6 L236.8,252.8 L237.2,253.7 L237.5,253.4 L237.9,253.9 L238.3,253.6 L238.7,252.9 L239.0,251.7 L239.4,253.2 L239.8,253.5 L240.2,253.1 L240.5,253.4 L240.9,252.7 L241.3,252.7 L241.7,252.3 L242.0,253.9 L242.4,253.1 L242.8,252.6 L243.1,252.1 L243.5,252.9 L243.9,254.0 L244.3,253.3 L244.6,252.5 L245.0,254.0 L245.4,254.0 L245.8,253.7 L246.1,253.5 L246.5,253.8 L246.9,253.4 L247.3,253.5 L247.6,252.4 L248.0,254.0 L248.4,253.2 L248.8,254.4 L249.1,251.6 L249.5,253.5 L249.9,253.7 L250.3,252.8 L250.6,253.3 L251.0,253.5 L251.4,253.4 L251.7,252.6 L252.1,252.9 L252.5,253.7 L252.9,253.9 L253.2,253.1 L253.6,253.0 L254.0,253.1 L254.4,253.7 L254.7,252.3 L255.1,252.1 L255.5,253.1 L255.9,252.2 L256.2,252.6 L256.6,253.1 L257.0,253.3 L257.4,252.2 L257.7,253.6 L258.1,251.7 L258.5,253.4 L258.9,251.9 L259.2,252.1 L259.6,253.4 L260.0,252.7 L260.4,252.4 L260.7,252.7 L261.1,253.3 L261.5,253.0 L261.8,253.0 L262.2,253.7 L262.6,252.5 L263.0,252.7 L263.3,252.6 L263.7,253.8 L264.1,253.7 L264.5,253.9 L264.8,253.0 L265.2,252.9 L265.6,253.6 L266.0,252.7 L266.3,253.6 L266.7,253.5 L267.1,252.5 L267.5,252.9 L267.8,252.9 L268.2,254.2 L268.6,254.8 L269.0,252.9 L269.3,253.0 L269.7,251.4 L270.1,253.1 L270.4,253.0 L270.8,252.2 L271.2,253.5 L271.6,251.9 L271.9,252.8 L272.3,253.1 L272.7,252.1 L273.1,253.6 L273.4,253.7 L273.8,252.0 L274.2,252.0 L274.6,253.4 L274.9,252.9 L275.3,252.1 L275.7,252.7 L276.1,252.8 L276.4,252.8 L276.8,253.5 L277.2,253.1 L277.6,254.1 L277.9,253.8 L278.3,253.2 L278.7,253.4 L279.0,253.5 L279.4,252.9 L279.8,251.3 L280.2,252.5 L280.5,251.7 L280.9,252.5 L281.3,251.2 L281.7,251.4 L282.0,251.3 L282.4,252.5 L282.8,251.7 L283.2,251.7 L283.5,252.3 L283.9,252.0 L284.3,252.6 L284.7,252.6 L285.0,252.9 L285.4,254.2 L285.8,252.6 L286.2,252.9 L286.5,252.8 L286.9,253.4 L287.3,252.1 L287.6,252.5 L288.0,252.9 L288.4,253.3 L288.8,252.9 L289.1,252.6 L289.5,252.4 L289.9,253.3 L290.3,254.0 L290.6,253.2 L291.0,253.1 L291.4,253.3 L291.8,252.3 L292.1,252.8 L292.5,252.8 L292.9,253.2 L293.3,253.0 L293.6,252.1 L294.0,253.8 L294.4,254.2 L294.8,252.8 L295.1,253.3 L295.5,253.2 L295.9,253.6 L296.2,252.0 L296.6,254.1 L297.0,252.7 L297.4,253.9 L297.7,253.1 L298.1,252.7 L298.5,252.9 L298.9,253.6 L299.2,252.4 L299.6,252.8 L300.0,252.7 L300.4,251.8 L300.7,253.9 L301.1,253.4 L301.5,253.0 L301.9,253.8 L302.2,252.4 L302.6,253.0 L303.0,254.2 L303.4,253.7 L303.7,251.5 L304.1,250.7 L304.5,252.3 L304.9,253.8 L305.2,252.7 L305.6,252.9 L306.0,253.5 L306.3,252.4 L306.7,253.2 L307.1,253.6 L307.5,253.4 L307.8,253.3 L308.2,252.6 L308.6,253.4 L309.0,252.7 L309.3,253.9 L309.7,254.8 L310.1,252.5 L310.5,251.5 L310.8,252.7 L311.2,253.3 L311.6,253.8 L312.0,253.8 L312.3,252.5 L312.7,252.5 L313.1,253.9 L313.5,252.3 L313.8,253.8 L314.2,252.9 L314.6,253.6 L314.9,253.5 L315.3,253.6 L315.7,253.6 L316.1,252.4 L316.4,253.3 L316.8,253.1 L317.2,253.3 L317.6,253.9 L317.9,252.9 L318.3,252.6 L318.7,252.5 L319.1,252.8 L319.4,253.6 L319.8,252.5 L320.2,253.9 L320.6,253.3 L320.9,252.9 L321.3,252.1 L321.7,253.2 L322.1,253.5 L322.4,251.8 L322.8,253.9 L323.2,254.2 L323.5,253.3 L323.9,253.4 L324.3,254.8 L324.7,253.9 L325.0,252.4 L325.4,253.1 L325.8,253.0 L326.2,253.0 L326.5,251.4 L326.9,253.6 L327.3,252.6 L327.7,253.2 L328.0,253.0 L328.4,253.7 L328.8,252.9 L329.2,252.5 L329.5,253.4 L329.9,254.1 L330.3,252.9 L330.7,254.0 L331.0,253.3 L331.4,252.7 L331.8,254.1 L332.1,252.5 L332.5,253.8 L332.9,252.7 L333.3,253.4 L333.6,252.2 L334.0,252.5 L334.4,253.8 L334.8,253.2 L335.1,253.1 L335.5,252.8 L335.9,253.4 L336.3,252.1 L336.6,252.3 L337.0,253.0 L337.4,252.5 L337.8,252.6 L338.1,253.0 L338.5,253.0 L338.9,252.9 L339.3,254.3 L339.6,253.8 L340.0,254.0 L340.4,253.1 L340.7,252.7 L341.1,252.1 L341.5,252.9 L341.9,251.6 L342.2,252.7 L342.6,253.6 L343.0,254.2 L343.4,253.8 L343.7,252.5 L344.1,253.5 L344.5,252.6 L344.9,253.7 L345.2,253.0 L345.6,253.7 L346.0,254.9 L346.4,253.8 L346.7,254.7 L347.1,253.2 L347.5,252.9 L347.9,254.1 L348.2,254.3 L348.6,252.7 L349.0,253.2 L349.4,252.1 L349.7,253.0 L350.1,253.7 L350.5,253.1 L350.8,252.7 L351.2,252.1 L351.6,253.4 L352.0,253.7 L352.3,253.5 L352.7,253.3 L353.1,252.2 L353.5,254.4 L353.8,253.1 L354.2,253.0 L354.6,253.6 L355.0,251.6 L355.3,253.1 L355.7,253.0 L356.1,253.4 L356.5,254.1 L356.8,253.5 L357.2,251.9 L357.6,252.9 L358.0,253.3 L358.3,253.2 L358.7,252.3 L359.1,252.0 L359.4,253.5 L359.8,253.4 L360.2,253.1 L360.6,251.9 L360.9,254.4 L361.3,251.1 L361.7,252.9 L362.1,254.6 L362.4,253.0 L362.8,253.3 L363.2,252.3 L363.6,254.1 L363.9,252.3 L364.3,253.3 L364.7,253.3 L365.1,252.4 L365.4,253.8 L365.8,252.2 L366.2,252.7 L366.6,253.1 L366.9,252.9 L367.3,253.5 L367.7,253.8 L368.0,253.0 L368.4,252.8 L368.8,252.8 L369.2,252.9 L369.5,253.7 L369.9,253.0 L370.3,253.5 L370.7,253.1 L371.0,252.6 L371.4,253.8 L371.8,252.5 L372.2,253.2 L372.5,254.2 L372.9,252.4 L373.3,253.1 L373.7,252.1 L374.0,252.8 L374.4,252.1 L374.8,252.9 L375.2,252.8 L375.5,253.3 L375.9,254.3 L376.3,253.4 L376.6,253.7 L377.0,253.2 L377.4,253.0 L377.8,252.6 L378.1,251.9 L378.5,253.3 L378.9,254.3 L379.3,253.5 L379.6,252.8 L380.0,254.4 L380.4,252.9 L380.8,252.8 L381.1,252.4 L381.5,252.5 L381.9,253.0 L382.3,254.6 L382.6,253.1 L383.0,252.5 L383.4,252.8 L383.8,253.1 L384.1,252.0 L384.5,253.3 L384.9,253.7 L385.3,253.4 L385.6,253.6 L386.0,252.3 L386.4,252.0 L386.7,254.1 L387.1,254.0 L387.5,252.1 L387.9,253.4 L388.2,253.2 L388.6,253.6 L389.0,253.4 L389.4,252.9 L389.7,253.4 L390.1,253.3 L390.5,253.2 L390.9,251.9 L391.2,251.1 L391.6,252.7 L392.0,252.1 L392.4,253.4 L392.7,253.7 L393.1,253.4 L393.5,253.0 L393.9,253.3 L394.2,254.0 L394.6,252.7 L395.0,253.9 L395.3,253.7 L395.7,253.4 L396.1,254.2 L396.5,252.7 L396.8,253.9 L397.2,252.6 L397.6,252.7 L398.0,252.5 L398.3,253.5 L398.7,252.6 L399.1,253.2 L399.5,252.4 L399.8,253.9 L400.2,254.5 L400.6,253.3 L401.0,254.3 L401.3,253.6 L401.7,254.7 L402.1,253.2 L402.5,252.0 L402.8,254.2 L403.2,253.0 L403.6,252.3 L403.9,252.6 L404.3,251.8 L404.7,252.8 L405.1,252.1 L405.4,253.7 L405.8,253.0 L406.2,251.1 L406.6,250.8 L406.9,250.9 L407.3,249.3 L407.7,249.8 L408.1,249.0 L408.4,247.8 L408.8,247.5 L409.2,248.2 L409.6,249.3 L409.9,250.0 L410.3,249.8 L410.7,251.2 L411.1,250.7 L411.4,252.1 L411.8,251.5 L412.2,253.0 L412.5,251.8 L412.9,252.2 L413.3,252.9 L413.7,253.4 L414.0,252.1 L414.4,252.7 L414.8,253.2 L415.2,253.3 L415.5,252.6 L415.9,253.3 L416.3,253.0 L416.7,254.2 L417.0,253.6 L417.4,252.3 L417.8,251.7 L418.2,253.3 L418.5,254.1 L418.9,253.4 L419.3,253.9 L419.7,252.9 L420.0,252.3 L420.4,253.8 L420.8,253.4 L421.1,253.8 L421.5,252.3 L421.9,253.4 L422.3,252.9 L422.6,253.9 L423.0,252.9 L423.4,252.9 L423.8,252.9 L424.1,254.2 L424.5,253.4 L424.9,252.8 L425.3,252.6 L425.6,252.6 L426.0,254.4 L426.4,252.1 L426.8,252.8 L427.1,253.8 L427.5,254.2 L427.9,253.3 L428.3,253.9 L428.6,253.9 L429.0,254.1 L429.4,253.4 L429.8,254.5 L430.1,253.5 L430.5,254.5 L430.9,252.6 L431.2,254.1 L431.6,252.5" fill="none" stroke="#1a64e8" stroke-width="1.8" stroke-linejoin="round" clip-path="url(#ca)"/>
<path d="M93.6,314.1 L93.9,314.5 L94.3,315.7 L94.7,315.0 L95.1,313.4 L95.4,314.6 L95.8,314.1 L96.2,314.7 L96.6,313.5 L96.9,314.7 L97.3,314.7 L97.7,315.7 L98.1,314.8 L98.4,314.9 L98.8,313.5 L99.2,316.2 L99.6,313.2 L99.9,315.3 L100.3,314.3 L100.7,314.0 L101.0,314.1 L101.4,314.1 L101.8,314.8 L102.2,314.5 L102.5,315.6 L102.9,313.3 L103.3,314.6 L103.7,313.9 L104.0,315.1 L104.4,313.1 L104.8,314.3 L105.2,314.7 L105.5,313.5 L105.9,315.2 L106.3,314.7 L106.7,315.3 L107.0,315.2 L107.4,313.9 L107.8,314.0 L108.2,314.4 L108.5,315.1 L108.9,315.1 L109.3,314.1 L109.6,314.1 L110.0,314.0 L110.4,314.1 L110.8,314.4 L111.1,314.5 L111.5,316.0 L111.9,314.2 L112.3,314.3 L112.6,314.9 L113.0,313.9 L113.4,314.3 L113.8,314.6 L114.1,315.1 L114.5,313.6 L114.9,315.5 L115.3,314.3 L115.6,314.7 L116.0,315.1 L116.4,315.0 L116.8,315.3 L117.1,314.7 L117.5,314.5 L117.9,314.8 L118.2,313.8 L118.6,315.4 L119.0,314.0 L119.4,313.6 L119.7,316.0 L120.1,314.4 L120.5,313.7 L120.9,315.8 L121.2,314.3 L121.6,315.3 L122.0,313.9 L122.4,314.3 L122.7,313.3 L123.1,313.2 L123.5,313.8 L123.9,314.5 L124.2,315.1 L124.6,316.2 L125.0,313.8 L125.4,315.2 L125.7,314.1 L126.1,314.4 L126.5,313.5 L126.9,313.5 L127.2,314.0 L127.6,313.7 L128.0,314.5 L128.3,314.0 L128.7,315.4 L129.1,314.6 L129.5,314.6 L129.8,315.3 L130.2,314.9 L130.6,314.5 L131.0,314.4 L131.3,314.4 L131.7,315.2 L132.1,315.0 L132.5,314.7 L132.8,315.0 L133.2,314.1 L133.6,314.8 L134.0,313.5 L134.3,315.4 L134.7,314.5 L135.1,314.6 L135.5,314.9 L135.8,314.5 L136.2,314.3 L136.6,315.3 L136.9,314.5 L137.3,313.8 L137.7,314.8 L138.1,313.3 L138.4,315.6 L138.8,314.3 L139.2,314.5 L139.6,316.0 L139.9,315.9 L140.3,314.5 L140.7,314.9 L141.1,315.2 L141.4,315.6 L141.8,314.3 L142.2,314.5 L142.6,315.3 L142.9,314.6 L143.3,314.9 L143.7,314.8 L144.1,313.6 L144.4,313.7 L144.8,312.5 L145.2,314.1 L145.5,315.2 L145.9,313.5 L146.3,315.1 L146.7,314.9 L147.0,314.1 L147.4,314.0 L147.8,313.9 L148.2,313.0 L148.5,313.2 L148.9,313.0 L149.3,313.0 L149.7,312.7 L150.0,311.2 L150.4,312.0 L150.8,310.8 L151.2,311.5 L151.5,312.2 L151.9,312.4 L152.3,312.7 L152.7,313.4 L153.0,313.1 L153.4,313.2 L153.8,313.7 L154.1,314.6 L154.5,314.0 L154.9,315.4 L155.3,314.3 L155.6,312.0 L156.0,313.8 L156.4,315.3 L156.8,314.1 L157.1,313.8 L157.5,313.5 L157.9,315.1 L158.3,314.8 L158.6,314.6 L159.0,314.4 L159.4,315.1 L159.8,314.6 L160.1,313.2 L160.5,314.5 L160.9,314.1 L161.3,313.9 L161.6,314.5 L162.0,313.9 L162.4,311.8 L162.7,314.9 L163.1,314.5 L163.5,313.6 L163.9,313.4 L164.2,313.7 L164.6,312.6 L165.0,313.6 L165.4,313.1 L165.7,312.9 L166.1,312.4 L166.5,312.4 L166.9,313.4 L167.2,313.3 L167.6,312.5 L168.0,311.7 L168.4,310.7 L168.7,311.3 L169.1,311.1 L169.5,307.7 L169.9,308.0 L170.2,303.2 L170.6,300.9 L171.0,296.3 L171.4,288.5 L171.7,280.3 L172.1,272.8 L172.5,265.7 L172.8,260.8 L173.2,263.6 L173.6,268.5 L174.0,278.7 L174.3,286.0 L174.7,293.4 L175.1,299.4 L175.5,303.5 L175.8,307.5 L176.2,309.7 L176.6,309.9 L177.0,310.3 L177.3,310.2 L177.7,311.0 L178.1,311.9 L178.5,312.2 L178.8,312.4 L179.2,312.7 L179.6,313.2 L180.0,312.0 L180.3,312.4 L180.7,314.0 L181.1,313.9 L181.4,313.0 L181.8,314.3 L182.2,313.0 L182.6,313.3 L182.9,312.2 L183.3,314.1 L183.7,313.4 L184.1,314.1 L184.4,313.8 L184.8,313.1 L185.2,312.8 L185.6,313.1 L185.9,311.6 L186.3,310.8 L186.7,310.1 L187.1,309.8 L187.4,309.2 L187.8,309.6 L188.2,308.3 L188.6,309.8 L188.9,309.3 L189.3,311.1 L189.7,311.6 L190.0,313.5 L190.4,313.2 L190.8,312.9 L191.2,313.9 L191.5,314.0 L191.9,313.6 L192.3,313.7 L192.7,313.4 L193.0,316.0 L193.4,314.2 L193.8,314.8 L194.2,313.4 L194.5,313.4 L194.9,314.1 L195.3,314.1 L195.7,314.8 L196.0,313.6 L196.4,314.7 L196.8,315.4 L197.2,313.7 L197.5,315.0 L197.9,313.7 L198.3,314.6 L198.6,314.6 L199.0,315.6 L199.4,313.9 L199.8,314.5 L200.1,315.1 L200.5,313.6 L200.9,314.4 L201.3,313.8 L201.6,313.9 L202.0,314.9 L202.4,314.9 L202.8,316.2 L203.1,315.4 L203.5,315.3 L203.9,314.3 L204.3,314.2 L204.6,314.5 L205.0,312.8 L205.4,315.6 L205.8,314.0 L206.1,313.7 L206.5,314.1 L206.9,315.1 L207.2,315.3 L207.6,314.2 L208.0,314.8 L208.4,314.4 L208.7,313.8 L209.1,314.6 L209.5,314.5 L209.9,313.4 L210.2,315.2 L210.6,313.4 L211.0,314.6 L211.4,313.7 L211.7,313.9 L212.1,314.0 L212.5,315.0 L212.9,313.6 L213.2,314.3 L213.6,315.5 L214.0,314.0 L214.4,314.4 L214.7,314.9 L215.1,314.1 L215.5,314.8 L215.9,314.0 L216.2,315.0 L216.6,314.5 L217.0,313.8 L217.3,315.5 L217.7,314.4 L218.1,314.3 L218.5,313.8 L218.8,314.1 L219.2,314.4 L219.6,314.6 L220.0,315.2 L220.3,313.5 L220.7,314.2 L221.1,315.3 L221.5,314.6 L221.8,314.8 L222.2,315.6 L222.6,314.7 L223.0,314.8 L223.3,314.4 L223.7,315.7 L224.1,315.2 L224.5,314.0 L224.8,314.9 L225.2,313.7 L225.6,315.2 L225.9,314.9 L226.3,314.4 L226.7,314.2 L227.1,313.2 L227.4,315.0 L227.8,314.4 L228.2,314.3 L228.6,315.0 L228.9,314.0 L229.3,314.1 L229.7,314.0 L230.1,313.5 L230.4,316.2 L230.8,314.3 L231.2,314.2 L231.6,315.1 L231.9,312.3 L232.3,314.5 L232.7,314.5 L233.1,313.8 L233.4,314.8 L233.8,313.1 L234.2,314.5 L234.5,315.1 L234.9,312.9 L235.3,313.4 L235.7,314.3 L236.0,314.4 L236.4,314.0 L236.8,314.7 L237.2,314.6 L237.5,313.5 L237.9,314.3 L238.3,313.5 L238.7,312.9 L239.0,312.7 L239.4,315.1 L239.8,314.3 L240.2,315.7 L240.5,313.3 L240.9,314.1 L241.3,314.6 L241.7,314.3 L242.0,314.7 L242.4,314.5 L242.8,313.9 L243.1,312.7 L243.5,313.7 L243.9,315.6 L244.3,314.9 L244.6,315.3 L245.0,314.0 L245.4,314.2 L245.8,313.8 L246.1,314.7 L246.5,314.4 L246.9,314.7 L247.3,315.6 L247.6,313.8 L248.0,314.9 L248.4,313.4 L248.8,315.2 L249.1,314.1 L249.5,314.3 L249.9,314.5 L250.3,315.5 L250.6,314.4 L251.0,314.0 L251.4,313.6 L251.7,314.6 L252.1,313.8 L252.5,314.0 L252.9,314.4 L253.2,314.9 L253.6,313.9 L254.0,314.9 L254.4,315.6 L254.7,313.4 L255.1,315.3 L255.5,315.9 L255.9,314.0 L256.2,314.8 L256.6,313.4 L257.0,314.6 L257.4,314.2 L257.7,314.6 L258.1,313.8 L258.5,313.8 L258.9,314.1 L259.2,313.9 L259.6,314.0 L260.0,314.2 L260.4,313.6 L260.7,314.3 L261.1,314.7 L261.5,312.8 L261.8,314.5 L262.2,313.9 L262.6,313.6 L263.0,313.4 L263.3,313.8 L263.7,313.8 L264.1,314.6 L264.5,313.5 L264.8,315.1 L265.2,313.8 L265.6,314.8 L266.0,315.1 L266.3,313.5 L266.7,315.1 L267.1,315.9 L267.5,314.1 L267.8,314.8 L268.2,314.3 L268.6,314.5 L269.0,314.3 L269.3,314.1 L269.7,314.9 L270.1,315.0 L270.4,314.4 L270.8,315.5 L271.2,315.2 L271.6,314.9 L271.9,313.9 L272.3,315.8 L272.7,315.3 L273.1,312.9 L273.4,313.6 L273.8,314.1 L274.2,315.1 L274.6,315.3 L274.9,314.2 L275.3,314.6 L275.7,314.9 L276.1,313.5 L276.4,314.8 L276.8,314.1 L277.2,314.4 L277.6,314.2 L277.9,313.4 L278.3,313.4 L278.7,314.0 L279.0,313.9 L279.4,313.4 L279.8,314.0 L280.2,312.6 L280.5,311.6 L280.9,311.7 L281.3,311.5 L281.7,311.4 L282.0,312.4 L282.4,312.3 L282.8,313.1 L283.2,313.2 L283.5,313.1 L283.9,314.2 L284.3,313.6 L284.7,314.1 L285.0,313.4 L285.4,314.3 L285.8,314.0 L286.2,314.6 L286.5,315.6 L286.9,316.0 L287.3,315.1 L287.6,314.4 L288.0,315.0 L288.4,314.6 L288.8,314.0 L289.1,314.4 L289.5,314.3 L289.9,314.0 L290.3,315.4 L290.6,314.1 L291.0,314.1 L291.4,315.0 L291.8,314.0 L292.1,313.7 L292.5,313.9 L292.9,314.8 L293.3,314.7 L293.6,314.7 L294.0,314.2 L294.4,313.9 L294.8,315.1 L295.1,313.5 L295.5,314.3 L295.9,313.6 L296.2,314.2 L296.6,314.4 L297.0,315.4 L297.4,312.5 L297.7,315.5 L298.1,313.9 L298.5,314.7 L298.9,315.1 L299.2,314.0 L299.6,314.5 L300.0,314.9 L300.4,314.4 L300.7,314.0 L301.1,314.7 L301.5,314.6 L301.9,313.5 L302.2,315.5 L302.6,314.7 L303.0,312.8 L303.4,313.9 L303.7,315.7 L304.1,315.6 L304.5,314.7 L304.9,313.4 L305.2,314.4 L305.6,315.3 L306.0,314.8 L306.3,314.3 L306.7,314.0 L307.1,315.1 L307.5,314.4 L307.8,314.8 L308.2,314.9 L308.6,315.7 L309.0,314.7 L309.3,314.7 L309.7,313.3 L310.1,315.3 L310.5,315.2 L310.8,314.5 L311.2,313.0 L311.6,314.2 L312.0,314.6 L312.3,316.0 L312.7,315.0 L313.1,315.1 L313.5,315.1 L313.8,315.5 L314.2,313.8 L314.6,314.0 L314.9,313.7 L315.3,314.4 L315.7,314.3 L316.1,314.6 L316.4,313.8 L316.8,314.6 L317.2,314.0 L317.6,316.0 L317.9,314.2 L318.3,316.3 L318.7,315.7 L319.1,313.7 L319.4,315.2 L319.8,315.0 L320.2,313.5 L320.6,315.0 L320.9,314.5 L321.3,314.8 L321.7,314.0 L322.1,314.5 L322.4,314.8 L322.8,314.4 L323.2,314.1 L323.5,314.5 L323.9,313.9 L324.3,314.8 L324.7,312.8 L325.0,315.6 L325.4,314.6 L325.8,314.9 L326.2,315.2 L326.5,313.7 L326.9,316.2 L327.3,313.8 L327.7,314.9 L328.0,314.8 L328.4,315.5 L328.8,314.6 L329.2,313.6 L329.5,314.8 L329.9,312.8 L330.3,314.4 L330.7,314.2 L331.0,315.7 L331.4,314.4 L331.8,314.3 L332.1,314.0 L332.5,314.0 L332.9,314.2 L333.3,315.0 L333.6,313.6 L334.0,314.4 L334.4,313.5 L334.8,314.5 L335.1,314.7 L335.5,313.7 L335.9,314.2 L336.3,314.6 L336.6,315.1 L337.0,315.2 L337.4,314.5 L337.8,313.9 L338.1,313.4 L338.5,315.1 L338.9,315.5 L339.3,314.8 L339.6,315.7 L340.0,314.3 L340.4,314.3 L340.7,315.7 L341.1,313.9 L341.5,315.0 L341.9,314.8 L342.2,314.7 L342.6,315.8 L343.0,314.0 L343.4,314.3 L343.7,313.1 L344.1,313.8 L344.5,314.2 L344.9,314.3 L345.2,314.4 L345.6,314.8 L346.0,314.1 L346.4,313.2 L346.7,314.7 L347.1,314.9 L347.5,313.8 L347.9,314.0 L348.2,315.8 L348.6,315.3 L349.0,315.4 L349.4,315.1 L349.7,314.7 L350.1,314.2 L350.5,315.0 L350.8,314.4 L351.2,314.3 L351.6,314.6 L352.0,314.5 L352.3,315.2 L352.7,313.9 L353.1,316.3 L353.5,313.9 L353.8,314.3 L354.2,315.3 L354.6,314.0 L355.0,314.3 L355.3,314.6 L355.7,312.5 L356.1,314.2 L356.5,313.9 L356.8,314.4 L357.2,315.0 L357.6,315.1 L358.0,315.7 L358.3,315.6 L358.7,315.3 L359.1,314.6 L359.4,315.3 L359.8,313.9 L360.2,314.5 L360.6,315.6 L360.9,315.2 L361.3,313.6 L361.7,314.2 L362.1,315.3 L362.4,315.1 L362.8,315.4 L363.2,313.4 L363.6,313.7 L363.9,314.4 L364.3,313.9 L364.7,314.6 L365.1,314.6 L365.4,314.9 L365.8,314.5 L366.2,315.0 L366.6,315.2 L366.9,314.7 L367.3,313.8 L367.7,315.5 L368.0,314.8 L368.4,314.9 L368.8,314.8 L369.2,313.5 L369.5,315.1 L369.9,314.2 L370.3,313.8 L370.7,315.6 L371.0,314.4 L371.4,314.8 L371.8,315.3 L372.2,315.8 L372.5,313.4 L372.9,314.1 L373.3,315.1 L373.7,314.2 L374.0,312.4 L374.4,314.8 L374.8,314.8 L375.2,315.2 L375.5,314.8 L375.9,314.3 L376.3,314.8 L376.6,314.6 L377.0,314.3 L377.4,314.8 L377.8,314.9 L378.1,313.9 L378.5,315.4 L378.9,315.2 L379.3,315.2 L379.6,312.7 L380.0,314.7 L380.4,314.6 L380.8,314.0 L381.1,315.1 L381.5,313.6 L381.9,315.5 L382.3,314.9 L382.6,314.3 L383.0,315.7 L383.4,315.0 L383.8,314.9 L384.1,313.7 L384.5,315.0 L384.9,315.7 L385.3,315.4 L385.6,313.8 L386.0,315.6 L386.4,315.8 L386.7,315.3 L387.1,314.4 L387.5,313.6 L387.9,314.0 L388.2,314.3 L388.6,314.9 L389.0,315.1 L389.4,314.1 L389.7,313.5 L390.1,314.4 L390.5,313.7 L390.9,315.6 L391.2,313.8 L391.6,315.0 L392.0,315.2 L392.4,314.0 L392.7,315.4 L393.1,314.5 L393.5,314.1 L393.9,314.0 L394.2,314.7 L394.6,315.4 L395.0,313.3 L395.3,315.1 L395.7,314.5 L396.1,314.1 L396.5,314.5 L396.8,314.6 L397.2,314.6 L397.6,315.2 L398.0,314.0 L398.3,316.0 L398.7,315.2 L399.1,314.2 L399.5,313.2 L399.8,314.6 L400.2,314.3 L400.6,315.1 L401.0,315.1 L401.3,315.9 L401.7,314.5 L402.1,315.1 L402.5,314.2 L402.8,314.3 L403.2,315.6 L403.6,314.4 L403.9,314.4 L404.3,314.2 L404.7,314.6 L405.1,314.7 L405.4,314.1 L405.8,313.2 L406.2,314.0 L406.6,312.8 L406.9,312.7 L407.3,312.5 L407.7,311.8 L408.1,309.2 L408.4,311.4 L408.8,310.4 L409.2,311.1 L409.6,311.9 L409.9,310.1 L410.3,311.1 L410.7,312.4 L411.1,313.5 L411.4,313.0 L411.8,313.5 L412.2,314.7 L412.5,313.5 L412.9,314.4 L413.3,315.1 L413.7,314.2 L414.0,315.0 L414.4,314.4 L414.8,313.4 L415.2,314.2 L415.5,314.4 L415.9,314.3 L416.3,314.6 L416.7,314.9 L417.0,314.8 L417.4,314.7 L417.8,314.3 L418.2,314.5 L418.5,314.4 L418.9,314.2 L419.3,315.6 L419.7,313.3 L420.0,314.8 L420.4,313.5 L420.8,314.2 L421.1,315.2 L421.5,314.4 L421.9,315.6 L422.3,314.0 L422.6,314.4 L423.0,314.2 L423.4,314.6 L423.8,314.4 L424.1,314.4 L424.5,314.7 L424.9,315.4 L425.3,314.7 L425.6,314.7 L426.0,314.4 L426.4,314.1 L426.8,313.6" fill="none" stroke="#ee3636" stroke-width="1.8" stroke-linejoin="round" clip-path="url(#ca)"/>
<line x1="150.41" y1="122.50" x2="150.41" y2="340.30" stroke="#333" stroke-width="0.9" stroke-dasharray="2,2"/>
<line x1="173.26" y1="77.50" x2="173.26" y2="343.30" stroke="#333" stroke-width="0.9" stroke-dasharray="2,2"/>
<line x1="187.89" y1="125.00" x2="187.89" y2="332.00" stroke="#333" stroke-width="0.9" stroke-dasharray="2,2"/>
<line x1="282.37" y1="125.00" x2="282.37" y2="345.80" stroke="#333" stroke-width="0.9" stroke-dasharray="2,2"/>
<line x1="409.60" y1="123.00" x2="409.60" y2="347.00" stroke="#333" stroke-width="0.9" stroke-dasharray="2,2"/>
<rect x="90.75" y="45.50" width="343.75" height="319.50" fill="none" stroke="#222" stroke-width="1.3"/>
<line x1="94.40" y1="365.00" x2="94.40" y2="371.00" stroke="#222" stroke-width="1.2" />
<text x="94.40" y="386.00" font-size="13.3" text-anchor="middle" font-weight="normal" fill="#222" >25</text>
<line x1="135.95" y1="365.00" x2="135.95" y2="371.00" stroke="#222" stroke-width="1.2" />
<text x="135.95" y="386.00" font-size="13.3" text-anchor="middle" font-weight="normal" fill="#222" >30</text>
<line x1="177.50" y1="365.00" x2="177.50" y2="371.00" stroke="#222" stroke-width="1.2" />
<text x="177.50" y="386.00" font-size="13.3" text-anchor="middle" font-weight="normal" fill="#222" >35</text>
<line x1="219.05" y1="365.00" x2="219.05" y2="371.00" stroke="#222" stroke-width="1.2" />
<text x="219.05" y="386.00" font-size="13.3" text-anchor="middle" font-weight="normal" fill="#222" >40</text>
<line x1="260.60" y1="365.00" x2="260.60" y2="371.00" stroke="#222" stroke-width="1.2" />
<text x="260.60" y="386.00" font-size="13.3" text-anchor="middle" font-weight="normal" fill="#222" >45</text>
<line x1="302.15" y1="365.00" x2="302.15" y2="371.00" stroke="#222" stroke-width="1.2" />
<text x="302.15" y="386.00" font-size="13.3" text-anchor="middle" font-weight="normal" fill="#222" >50</text>
<line x1="343.70" y1="365.00" x2="343.70" y2="371.00" stroke="#222" stroke-width="1.2" />
<text x="343.70" y="386.00" font-size="13.3" text-anchor="middle" font-weight="normal" fill="#222" >55</text>
<line x1="385.25" y1="365.00" x2="385.25" y2="371.00" stroke="#222" stroke-width="1.2" />
<text x="385.25" y="386.00" font-size="13.3" text-anchor="middle" font-weight="normal" fill="#222" >60</text>
<line x1="426.80" y1="365.00" x2="426.80" y2="371.00" stroke="#222" stroke-width="1.2" />
<text x="426.80" y="386.00" font-size="13.3" text-anchor="middle" font-weight="normal" fill="#222" >65</text>
<line x1="115.18" y1="365.00" x2="115.18" y2="368.00" stroke="#222" stroke-width="1.2" />
<line x1="156.73" y1="365.00" x2="156.73" y2="368.00" stroke="#222" stroke-width="1.2" />
<line x1="198.28" y1="365.00" x2="198.28" y2="368.00" stroke="#222" stroke-width="1.2" />
<line x1="239.83" y1="365.00" x2="239.83" y2="368.00" stroke="#222" stroke-width="1.2" />
<line x1="281.38" y1="365.00" x2="281.38" y2="368.00" stroke="#222" stroke-width="1.2" />
<line x1="322.93" y1="365.00" x2="322.93" y2="368.00" stroke="#222" stroke-width="1.2" />
<line x1="364.48" y1="365.00" x2="364.48" y2="368.00" stroke="#222" stroke-width="1.2" />
<line x1="406.02" y1="365.00" x2="406.02" y2="368.00" stroke="#222" stroke-width="1.2" />
<text x="176.00" y="72.40" font-size="10.8" text-anchor="middle" font-weight="normal" fill="#222" >(002)</text>
<text x="152.50" y="118.40" font-size="10.8" text-anchor="middle" font-weight="normal" fill="#222" >(100)</text>
<text x="190.75" y="119.20" font-size="10.8" text-anchor="middle" font-weight="normal" fill="#222" >(101)</text>
<text x="284.00" y="123.00" font-size="10.8" text-anchor="middle" font-weight="normal" fill="#222" >(102)</text>
<text x="412.75" y="120.40" font-size="10.8" text-anchor="middle" font-weight="normal" fill="#222" >(103)</text>
<text x="353.00" y="124.10" font-size="14.7" text-anchor="middle" font-weight="normal" fill="#222" >Z3Fe</text>
<text x="353.00" y="184.10" font-size="14.7" text-anchor="middle" font-weight="normal" fill="#222" >Z2Fe</text>
<text x="353.75" y="240.60" font-size="14.7" text-anchor="middle" font-weight="normal" fill="#222" >Z1Fe</text>
<text x="356.50" y="300.80" font-size="14.7" text-anchor="middle" font-weight="normal" fill="#222" >Zn</text>
<text x="346.50" y="339.00" font-size="11.6" text-anchor="middle" font-weight="normal" fill="#222" >ZnO PDF 01-070-8070</text>
<text x="28.35" y="72.30" font-size="36.3" text-anchor="start" font-weight="normal" fill="#222" >(a)</text>
<text transform="translate(70,204.4) rotate(-90)" font-size="19.6" font-weight="bold" text-anchor="middle" fill="#111">Intensity, a.u.</text>
<text x="262.60" y="413.30" font-size="19" text-anchor="middle" font-weight="bold" fill="#111" >2θ,°</text>
<defs><clipPath id="cb"><rect x="88.75" y="434.25" width="345.5" height="329.65"/></clipPath></defs>
<path d="M88.5,518.3 L88.8,519.2 L89.1,519.4 L89.4,518.9 L89.7,519.3 L90.0,519.4 L90.3,520.2 L90.6,520.2 L90.9,520.8 L91.2,519.8 L91.5,521.6 L91.8,521.1 L92.1,521.7 L92.4,521.5 L92.7,521.6 L93.0,522.2 L93.3,522.6 L93.6,522.2 L93.9,522.4 L94.2,522.9 L94.5,522.3 L94.8,522.1 L95.1,523.0 L95.4,522.6 L95.7,522.2 L96.0,522.7 L96.3,522.9 L96.6,522.7 L96.9,522.6 L97.2,523.3 L97.5,523.7 L97.8,523.2 L98.1,522.9 L98.4,523.3 L98.7,523.2 L99.0,522.5 L99.3,522.7 L99.6,522.7 L99.9,522.0 L100.2,521.5 L100.5,521.9 L100.8,521.7 L101.1,521.9 L101.4,520.6 L101.7,520.8 L102.0,520.6 L102.3,520.1 L102.6,520.9 L102.9,521.1 L103.2,520.6 L103.5,521.7 L103.8,521.6 L104.1,521.7 L104.4,521.8 L104.7,522.3 L105.0,521.4 L105.3,522.4 L105.6,522.6 L105.9,521.6 L106.2,522.7 L106.5,522.6 L106.8,523.2 L107.1,522.7 L107.4,523.0 L107.7,523.2 L108.0,522.6 L108.3,523.2 L108.6,522.9 L108.9,523.1 L109.2,522.6 L109.5,523.3 L109.8,523.0 L110.1,522.6 L110.4,522.9 L110.7,523.2 L111.0,523.4 L111.3,521.8 L111.6,522.9 L111.9,522.7 L112.2,522.5 L112.5,522.1 L112.8,523.1 L113.1,522.0 L113.4,522.9 L113.7,523.2 L114.0,522.0 L114.3,522.6 L114.6,522.2 L114.9,522.9 L115.2,523.5 L115.5,523.8 L115.8,522.1 L116.1,522.7 L116.4,523.3 L116.7,523.7 L117.0,523.2 L117.3,522.6 L117.6,523.1 L117.9,522.9 L118.2,522.7 L118.5,522.4 L118.8,522.8 L119.1,522.7 L119.4,522.4 L119.7,522.3 L120.0,521.7 L120.3,522.0 L120.6,522.7 L120.9,522.0 L121.2,521.4 L121.5,522.6 L121.8,522.2 L122.1,522.8 L122.4,521.9 L122.7,521.6 L123.0,521.2 L123.3,522.4 L123.6,523.0 L123.9,521.6 L124.2,521.8 L124.5,522.5 L124.8,522.1 L125.1,522.5 L125.4,522.6 L125.7,523.0 L126.0,523.4 L126.3,523.0 L126.6,523.5 L126.9,522.9 L127.2,523.3 L127.5,522.2 L127.8,522.6 L128.1,523.6 L128.4,523.0 L128.7,523.6 L129.0,523.5 L129.3,523.6 L129.6,523.1 L129.9,522.7 L130.2,520.7 L130.5,518.3 L130.8,516.3 L131.1,515.6 L131.4,516.3 L131.7,518.7 L132.0,521.2 L132.3,522.6 L132.6,522.6 L132.9,522.1 L133.2,523.1 L133.5,523.4 L133.8,523.8 L134.1,523.6 L134.4,523.0 L134.7,522.9 L135.0,524.1 L135.3,523.5 L135.6,523.9 L135.9,524.0 L136.2,522.5 L136.5,522.5 L136.8,521.0 L137.1,518.8 L137.4,516.2 L137.7,511.7 L138.0,506.8 L138.3,504.9 L138.6,507.8 L138.9,510.7 L139.2,514.3 L139.5,517.0 L139.8,517.7 L140.1,517.6 L140.4,517.2 L140.7,516.9 L141.0,516.6 L141.3,516.3 L141.6,516.5 L141.9,516.6 L142.2,517.3 L142.5,517.4 L142.8,518.1 L143.1,517.6 L143.4,519.0 L143.7,518.9 L144.0,519.5 L144.3,520.3 L144.6,520.6 L144.9,521.3 L145.2,521.1 L145.5,521.1 L145.8,521.3 L146.1,522.4 L146.4,522.0 L146.7,521.5 L147.0,522.2 L147.3,521.6 L147.6,523.1 L147.9,521.7 L148.2,522.7 L148.5,522.8 L148.8,522.0 L149.1,522.8 L149.4,523.2 L149.7,523.0 L150.0,523.0 L150.3,523.3 L150.6,523.0 L150.9,523.0 L151.2,522.8 L151.5,523.1 L151.8,522.3 L152.1,523.0 L152.4,522.3 L152.7,521.9 L153.0,522.4 L153.3,522.9 L153.6,522.4 L153.9,521.5 L154.2,521.8 L154.5,521.1 L154.8,521.0 L155.1,520.8 L155.4,519.4 L155.7,520.2 L156.0,519.3 L156.3,519.0 L156.6,518.2 L156.9,517.7 L157.2,517.4 L157.5,517.7 L157.8,517.5 L158.1,516.3 L158.4,516.3 L158.7,515.3 L159.0,514.3 L159.3,514.9 L159.6,514.8 L159.9,514.2 L160.2,514.4 L160.5,514.3 L160.8,513.4 L161.1,512.9 L161.4,513.1 L161.7,512.8 L162.0,512.3 L162.3,512.4 L162.6,512.2 L162.9,510.6 L163.2,510.4 L163.5,509.8 L163.8,508.9 L164.1,508.3 L164.4,506.7 L164.7,506.3 L165.0,505.8 L165.3,504.0 L165.6,502.1 L165.9,501.3 L166.2,500.0 L166.5,497.9 L166.8,495.3 L167.1,493.9 L167.4,490.2 L167.7,488.5 L168.0,485.8 L168.3,482.2 L168.6,480.9 L168.9,480.2 L169.2,480.0 L169.5,481.6 L169.8,482.3 L170.1,483.0 L170.4,486.6 L170.7,491.3 L171.0,496.1 L171.3,499.9 L171.6,503.7 L171.9,507.7 L172.2,510.8 L172.5,513.8 L172.8,515.0 L173.1,516.6 L173.4,517.9 L173.7,518.2 L174.0,519.2 L174.3,520.9 L174.6,521.0 L174.9,521.2 L175.2,522.1 L175.5,522.1 L175.8,522.9 L176.1,522.7 L176.4,523.4 L176.7,522.6 L177.0,523.9 L177.3,523.0 L177.6,522.5 L177.9,523.0 L178.2,522.9 L178.5,523.0 L178.8,522.3 L179.1,522.6 L179.4,523.2 L179.7,520.0 L180.0,519.8 L180.3,518.6 L180.6,518.4 L180.9,517.7 L181.2,518.8 L181.5,520.7 L181.8,521.7 L182.1,523.4 L182.4,522.8 L182.7,523.6 L183.0,525.2 L183.3,523.8 L183.6,524.0 L183.9,524.5 L184.2,524.6 L184.5,525.0 L184.8,524.6 L185.1,524.2 L185.4,524.6 L185.7,525.7 L186.0,525.1 L186.3,523.2 L186.6,524.4 L186.9,524.0 L187.2,524.6 L187.5,524.2 L187.8,525.1 L188.1,524.7 L188.4,524.6 L188.7,524.2 L189.0,524.1 L189.3,524.2 L189.6,524.6 L189.9,524.3 L190.2,523.8 L190.5,524.5 L190.8,524.0 L191.1,523.9 L191.4,523.5 L191.7,523.6 L192.0,523.5 L192.3,522.5 L192.6,524.2 L192.9,524.0 L193.2,523.6 L193.5,524.1 L193.8,523.8 L194.1,523.8 L194.4,522.5 L194.7,523.4 L195.0,523.7 L195.3,524.2 L195.6,524.3 L195.9,524.1 L196.2,522.9 L196.5,522.4 L196.8,523.6 L197.1,523.3 L197.4,523.7 L197.7,523.1 L198.0,523.2 L198.3,522.4 L198.6,523.1 L198.9,522.0 L199.2,521.1 L199.5,519.7 L199.8,518.2 L200.1,517.7 L200.4,517.7 L200.7,518.8 L201.0,519.9 L201.3,520.7 L201.6,521.9 L201.9,523.7 L202.2,523.1 L202.5,523.7 L202.8,523.6 L203.1,523.3 L203.4,523.4 L203.7,523.9 L204.0,524.0 L204.3,524.2 L204.6,523.4 L204.9,523.7 L205.2,524.0 L205.5,524.7 L205.8,522.9 L206.1,524.2 L206.4,523.7 L206.7,524.2 L207.0,523.7 L207.3,524.1 L207.6,524.6 L207.9,524.1 L208.2,524.1 L208.5,524.0 L208.8,523.5 L209.1,524.1 L209.4,523.7 L209.7,523.4 L210.0,523.7 L210.3,523.6 L210.6,524.1 L210.9,523.7 L211.2,523.4 L211.5,524.3 L211.8,524.1 L212.1,524.2 L212.4,523.8 L212.7,523.5 L213.0,523.3 L213.3,523.4 L213.6,523.9 L213.9,523.5 L214.2,522.8 L214.5,523.4 L214.8,522.8 L215.1,523.5 L215.4,522.8 L215.7,522.8 L216.0,523.4 L216.3,523.3 L216.6,522.6 L216.9,523.6 L217.2,524.3 L217.5,522.6 L217.8,524.1 L218.1,523.0 L218.4,523.1 L218.7,523.3 L219.0,522.7 L219.3,524.0 L219.6,523.6 L219.9,523.1 L220.2,523.3 L220.5,522.8 L220.8,523.4 L221.1,524.0 L221.4,522.9 L221.7,523.5 L222.0,523.8 L222.3,524.2 L222.6,524.4 L222.9,523.6 L223.2,523.6 L223.5,524.1 L223.8,523.8 L224.1,523.9 L224.4,524.5 L224.7,524.8 L225.0,524.2 L225.3,524.1 L225.6,524.4 L225.9,523.3 L226.2,524.2 L226.5,523.7 L226.8,525.3 L227.1,524.5 L227.4,524.3 L227.7,524.1 L228.0,523.1 L228.3,524.5 L228.6,524.9 L228.9,523.8 L229.2,524.5 L229.5,524.5 L229.8,523.5 L230.1,524.6 L230.4,524.7 L230.7,524.2 L231.0,524.1 L231.3,524.4 L231.6,523.4 L231.9,524.1 L232.2,524.5 L232.5,523.5 L232.8,524.5 L233.1,523.8 L233.4,523.1 L233.7,523.9 L234.0,523.5 L234.3,524.1 L234.6,523.4 L234.9,524.4 L235.2,523.5 L235.5,524.0 L235.8,523.6 L236.1,523.7 L236.4,524.3 L236.7,523.9 L237.0,523.6 L237.3,523.2 L237.6,524.2 L237.9,524.0 L238.2,523.5 L238.5,523.8 L238.8,523.2 L239.1,523.1 L239.4,523.2 L239.7,523.7 L240.0,523.7 L240.3,523.2 L240.6,523.8 L240.9,523.8 L241.2,523.5 L241.5,523.9 L241.8,523.3 L242.1,523.3 L242.4,523.6 L242.7,523.3 L243.0,523.7 L243.3,522.7 L243.6,523.9 L243.9,522.9 L244.2,523.2 L244.5,522.6 L244.8,523.5 L245.1,523.7 L245.4,523.6 L245.7,523.5 L246.0,522.4 L246.3,522.7 L246.6,522.9 L246.9,522.6 L247.2,523.5 L247.5,523.1 L247.8,523.0 L248.1,523.2 L248.4,522.5 L248.7,522.5 L249.0,522.5 L249.3,523.1 L249.6,523.0 L249.9,523.1 L250.2,523.3 L250.5,522.2 L250.8,522.5 L251.1,522.8 L251.4,522.1 L251.7,522.4 L252.0,523.1 L252.3,523.1 L252.6,523.1 L252.9,522.6 L253.2,522.4 L253.5,523.0 L253.8,522.3 L254.1,522.6 L254.4,523.0 L254.7,522.2 L255.0,522.1 L255.3,522.3 L255.6,522.5 L255.9,522.5 L256.2,522.3 L256.5,522.4 L256.8,521.4 L257.1,521.7 L257.4,522.1 L257.7,521.6 L258.0,521.4 L258.3,521.4 L258.6,521.5 L258.9,521.8 L259.2,521.4 L259.5,521.9 L259.8,522.5 L260.1,521.6 L260.4,522.2 L260.7,521.7 L261.0,521.0 L261.3,521.4 L261.6,521.0 L261.9,521.7 L262.2,520.8 L262.5,521.8 L262.8,521.4 L263.1,520.1 L263.4,521.3 L263.7,521.6 L264.0,520.4 L264.3,521.2 L264.6,519.8 L264.9,520.6 L265.2,519.7 L265.5,520.6 L265.8,519.4 L266.1,518.9 L266.4,520.2 L266.7,520.9 L267.0,519.5 L267.3,520.0 L267.6,519.6 L267.9,519.2 L268.2,519.5 L268.5,519.8 L268.8,518.4 L269.1,519.0 L269.4,518.8 L269.7,517.8 L270.0,519.0 L270.3,519.0 L270.6,517.5 L270.9,518.4 L271.2,517.4 L271.5,517.1 L271.8,517.5 L272.1,516.7 L272.4,516.5 L272.7,516.9 L273.0,516.6 L273.3,516.2 L273.6,515.0 L273.9,514.8 L274.2,515.9 L274.5,514.8 L274.8,515.2 L275.1,514.6 L275.4,514.9 L275.7,514.5 L276.0,515.9 L276.3,515.1 L276.6,515.8 L276.9,516.3 L277.2,517.4 L277.5,516.7 L277.8,517.7 L278.1,518.0 L278.4,518.8 L278.7,519.1 L279.0,519.2 L279.3,519.9 L279.6,520.1 L279.9,520.9 L280.2,521.0 L280.5,521.2 L280.8,521.8 L281.1,522.3 L281.4,523.3 L281.7,522.3 L282.0,522.8 L282.3,523.4 L282.6,522.0 L282.9,522.2 L283.2,522.6 L283.5,523.2 L283.8,524.4 L284.1,523.6 L284.4,524.1 L284.7,523.5 L285.0,522.6 L285.3,522.8 L285.6,524.3 L285.9,524.0 L286.2,523.4 L286.5,524.6 L286.8,523.4 L287.1,524.6 L287.4,524.8 L287.7,523.8 L288.0,523.7 L288.3,524.6 L288.6,523.7 L288.9,524.6 L289.2,523.6 L289.5,524.5 L289.8,524.2 L290.1,523.9 L290.4,523.7 L290.7,524.2 L291.0,523.2 L291.3,523.9 L291.6,523.8 L291.9,524.2 L292.2,523.3 L292.5,524.6 L292.8,523.6 L293.1,523.2 L293.4,524.3 L293.7,524.4 L294.0,523.5 L294.3,523.1 L294.6,523.4 L294.9,523.1 L295.2,523.2 L295.5,523.9 L295.8,523.4 L296.1,523.2 L296.4,523.2 L296.7,523.0 L297.0,523.3 L297.3,523.3 L297.6,522.6 L297.9,522.7 L298.2,523.7 L298.5,522.7 L298.8,522.3 L299.1,523.2 L299.4,522.2 L299.7,521.6 L300.0,522.2 L300.3,521.4 L300.6,521.5 L300.9,521.7 L301.2,521.4 L301.5,520.9 L301.8,520.9 L302.1,520.7 L302.4,521.4 L302.7,520.4 L303.0,520.4 L303.3,521.4 L303.6,520.1 L303.9,520.9 L304.2,520.7 L304.5,519.9 L304.8,519.2 L305.1,519.9 L305.4,519.9 L305.7,520.0 L306.0,519.4 L306.3,519.9 L306.6,519.9 L306.9,518.7 L307.2,519.7 L307.5,519.0 L307.8,518.6 L308.1,518.6 L308.4,519.5 L308.7,519.0 L309.0,517.7 L309.3,518.5 L309.6,518.3 L309.9,518.2 L310.2,517.9 L310.5,517.4 L310.8,518.4 L311.1,517.5 L311.4,517.7 L311.7,517.5 L312.0,517.4 L312.3,518.0 L312.6,517.8 L312.9,517.3 L313.2,517.1 L313.5,517.3 L313.8,517.9 L314.1,517.6 L314.4,517.6 L314.7,517.4 L315.0,517.4 L315.3,517.6 L315.6,516.7 L315.9,518.3 L316.2,517.2 L316.5,517.3 L316.8,518.2 L317.1,517.7 L317.4,517.7 L317.7,517.4 L318.0,517.0 L318.3,517.9 L318.6,518.3 L318.9,517.4 L319.2,518.5 L319.5,517.4 L319.8,517.6 L320.1,518.2 L320.4,518.1 L320.7,518.5 L321.0,517.9 L321.3,517.9 L321.6,517.7 L321.9,518.1 L322.2,518.3 L322.5,518.3 L322.8,519.2 L323.1,519.0 L323.4,518.5 L323.7,520.7 L324.0,519.3 L324.3,519.2 L324.6,520.4 L324.9,520.5 L325.2,519.5 L325.5,519.4 L325.8,519.7 L326.1,520.7 L326.4,520.1 L326.7,519.9 L327.0,520.3 L327.3,520.9 L327.6,519.8 L327.9,520.3 L328.2,519.9 L328.5,521.5 L328.8,521.4 L329.1,521.1 L329.4,520.6 L329.7,521.0 L330.0,519.9 L330.3,521.0 L330.6,520.3 L330.9,520.4 L331.2,520.7 L331.5,521.0 L331.8,521.5 L332.1,521.6 L332.4,521.5 L332.7,521.0 L333.0,521.8 L333.3,521.5 L333.6,522.2 L333.9,521.3 L334.2,520.6 L334.5,521.7 L334.8,522.9 L335.1,522.2 L335.4,522.0 L335.7,522.5 L336.0,522.4 L336.3,522.5 L336.6,522.1 L336.9,522.5 L337.2,522.6 L337.5,522.3 L337.8,522.1 L338.1,522.8 L338.4,523.2 L338.7,523.1 L339.0,523.1 L339.3,523.2 L339.6,524.2 L339.9,523.2 L340.2,523.6 L340.5,524.0 L340.8,523.2 L341.1,523.3 L341.4,523.7 L341.7,524.0 L342.0,523.4 L342.3,523.5 L342.6,523.3 L342.9,522.7 L343.2,523.5 L343.5,522.6 L343.8,521.6 L344.1,521.9 L344.4,520.7 L344.7,520.6 L345.0,520.5 L345.3,519.6 L345.6,520.1 L345.9,518.5 L346.2,518.9 L346.5,518.6 L346.8,518.6 L347.1,518.0 L347.4,517.3 L347.7,516.8 L348.0,516.3 L348.3,516.4 L348.6,515.2 L348.9,515.3 L349.2,514.5 L349.5,514.2 L349.8,513.5 L350.1,514.1 L350.4,512.3 L350.7,512.1 L351.0,511.5 L351.3,511.0 L351.6,510.3 L351.9,509.6 L352.2,509.2 L352.5,507.4 L352.8,507.4 L353.1,506.2 L353.4,506.2 L353.7,504.9 L354.0,504.5 L354.3,504.3 L354.6,504.5 L354.9,503.7 L355.2,503.2 L355.5,503.3 L355.8,501.9 L356.1,501.0 L356.4,501.3 L356.7,501.0 L357.0,501.3 L357.3,501.4 L357.6,499.5 L357.9,500.9 L358.2,500.1 L358.5,499.5 L358.8,499.1 L359.1,499.8 L359.4,498.5 L359.7,498.1 L360.0,498.2 L360.3,497.5 L360.6,498.2 L360.9,498.0 L361.2,498.3 L361.5,498.6 L361.8,498.4 L362.1,499.9 L362.4,499.5 L362.7,501.0 L363.0,500.7 L363.3,502.4 L363.6,502.6 L363.9,503.9 L364.2,504.4 L364.5,504.5 L364.8,505.7 L365.1,507.0 L365.4,508.0 L365.7,507.8 L366.0,508.4 L366.3,509.9 L366.6,511.1 L366.9,511.8 L367.2,512.7 L367.5,514.4 L367.8,515.3 L368.1,516.1 L368.4,516.2 L368.7,517.4 L369.0,518.1 L369.3,518.2 L369.6,519.8 L369.9,519.9 L370.2,520.1 L370.5,521.3 L370.8,521.4 L371.1,521.8 L371.4,522.3 L371.7,522.4 L372.0,521.8 L372.3,522.5 L372.6,523.4 L372.9,522.9 L373.2,523.5 L373.5,524.0 L373.8,524.7 L374.1,524.8 L374.4,524.9 L374.7,524.6 L375.0,525.3 L375.3,525.3 L375.6,525.2 L375.9,526.0 L376.2,525.8 L376.5,525.4 L376.8,526.4 L377.1,525.9 L377.4,526.4 L377.7,525.5 L378.0,526.3 L378.3,526.0 L378.6,526.1 L378.9,525.8 L379.2,527.7 L379.5,526.8 L379.8,527.1 L380.1,527.6 L380.4,527.1 L380.7,527.5 L381.0,526.7 L381.3,527.5 L381.6,527.3 L381.9,527.8 L382.2,527.7 L382.5,527.1 L382.8,527.0 L383.1,527.4 L383.4,528.3 L383.7,528.2 L384.0,528.3 L384.3,527.2 L384.6,527.0 L384.9,528.0 L385.2,528.2 L385.5,528.1 L385.8,528.6 L386.1,528.5 L386.4,528.1 L386.7,528.3 L387.0,528.8 L387.3,528.9 L387.6,528.9 L387.9,530.0 L388.2,528.9 L388.5,529.1 L388.8,528.7 L389.1,529.0 L389.4,529.5 L389.7,529.6 L390.0,529.3 L390.3,529.6 L390.6,529.5 L390.9,528.7 L391.2,528.1 L391.5,530.7 L391.8,530.1 L392.1,529.7 L392.4,529.0 L392.7,529.3 L393.0,530.5 L393.3,528.7 L393.6,529.9 L393.9,530.5 L394.2,530.2 L394.5,530.5 L394.8,530.2 L395.1,531.4 L395.4,529.9 L395.7,529.8 L396.0,530.6 L396.3,531.1 L396.6,530.5 L396.9,531.1 L397.2,530.4 L397.5,530.1 L397.8,531.4 L398.1,531.5 L398.4,531.5 L398.7,530.7 L399.0,530.4 L399.3,530.4 L399.6,530.9 L399.9,531.3 L400.2,531.3 L400.5,530.5 L400.8,531.3 L401.1,531.3 L401.4,531.3 L401.7,531.3 L402.0,531.3 L402.3,531.7 L402.6,531.6 L402.9,531.7 L403.2,531.3 L403.5,531.8 L403.8,531.7 L404.1,530.8 L404.4,532.0 L404.7,531.7 L405.0,532.3 L405.3,531.9 L405.6,532.0 L405.9,532.1 L406.2,532.1 L406.5,531.9 L406.8,531.3 L407.1,533.0 L407.4,531.5 L407.7,532.1 L408.0,532.6 L408.3,532.5 L408.6,532.6 L408.9,532.7 L409.2,533.0 L409.5,532.6 L409.8,533.8 L410.1,532.0 L410.4,532.6 L410.7,532.3 L411.0,532.2 L411.3,532.6 L411.6,533.2 L411.9,532.2 L412.2,532.2 L412.5,532.8 L412.8,532.7 L413.1,533.4 L413.4,533.0 L413.7,532.6 L414.0,532.4 L414.3,532.6 L414.6,532.4 L414.9,531.9 L415.2,532.5 L415.5,532.4 L415.8,532.4 L416.1,532.3 L416.4,533.3 L416.7,532.8 L417.0,532.9 L417.3,532.2 L417.6,532.0 L417.9,532.4 L418.2,532.6 L418.5,532.3 L418.8,532.4 L419.1,532.9 L419.4,532.6 L419.7,532.1 L420.0,532.3 L420.3,532.2 L420.6,532.6 L420.9,532.0 L421.2,532.4 L421.5,532.8 L421.8,532.5 L422.1,532.1 L422.4,532.2 L422.7,532.6 L423.0,532.7 L423.3,532.9 L423.6,532.4 L423.9,531.9 L424.2,533.1 L424.5,532.6 L424.8,532.6 L425.1,532.6 L425.4,532.0 L425.7,532.3 L426.0,532.5 L426.3,532.9 L426.6,532.4 L426.9,531.0 L427.2,532.3 L427.5,532.5 L427.8,532.9 L428.1,532.7 L428.4,533.5 L428.7,533.0 L429.0,532.9 L429.3,532.7 L429.6,531.7 L429.9,532.6 L430.2,532.5 L430.5,532.0 L430.8,532.5 L431.1,532.4 L431.4,532.0 L431.7,532.1 L432.0,532.0 L432.3,532.2 L432.6,531.9 L432.9,532.3 L433.2,531.2 L433.5,531.9 L433.8,531.3 L434.1,531.8 L434.4,532.2" fill="none" stroke="#1616de" stroke-width="1.8" stroke-linejoin="round" clip-path="url(#cb)" />
<path d="M88.5,574.7 L88.8,575.2 L89.1,575.2 L89.4,575.3 L89.7,575.7 L90.0,574.8 L90.3,575.1 L90.6,574.9 L90.9,575.4 L91.2,575.9 L91.5,575.6 L91.8,575.9 L92.1,575.1 L92.4,575.9 L92.7,575.6 L93.0,576.6 L93.3,576.4 L93.6,576.5 L93.9,576.2 L94.2,576.5 L94.5,576.5 L94.8,576.2 L95.1,576.2 L95.4,576.4 L95.7,576.3 L96.0,576.4 L96.3,576.5 L96.6,576.4 L96.9,576.9 L97.2,576.1 L97.5,577.0 L97.8,576.5 L98.1,576.5 L98.4,576.2 L98.7,576.6 L99.0,576.5 L99.3,576.6 L99.6,576.3 L99.9,576.4 L100.2,577.0 L100.5,576.4 L100.8,576.0 L101.1,576.5 L101.4,576.1 L101.7,576.3 L102.0,576.3 L102.3,575.9 L102.6,575.3 L102.9,575.9 L103.2,576.2 L103.5,575.9 L103.8,576.2 L104.1,576.3 L104.4,575.8 L104.7,576.4 L105.0,576.6 L105.3,576.4 L105.6,576.4 L105.9,576.4 L106.2,576.8 L106.5,576.1 L106.8,576.0 L107.1,576.2 L107.4,575.7 L107.7,575.5 L108.0,575.7 L108.3,576.1 L108.6,576.2 L108.9,575.5 L109.2,575.3 L109.5,575.9 L109.8,575.9 L110.1,576.0 L110.4,576.2 L110.7,576.4 L111.0,576.1 L111.3,576.2 L111.6,575.6 L111.9,575.6 L112.2,576.1 L112.5,576.2 L112.8,576.3 L113.1,576.2 L113.4,576.3 L113.7,576.3 L114.0,575.4 L114.3,575.7 L114.6,576.2 L114.9,576.2 L115.2,575.5 L115.5,576.4 L115.8,575.8 L116.1,575.9 L116.4,576.0 L116.7,576.1 L117.0,575.3 L117.3,576.1 L117.6,575.7 L117.9,575.4 L118.2,575.5 L118.5,574.8 L118.8,575.2 L119.1,575.4 L119.4,575.1 L119.7,575.1 L120.0,575.1 L120.3,575.1 L120.6,575.4 L120.9,575.0 L121.2,574.8 L121.5,575.1 L121.8,575.6 L122.1,574.7 L122.4,574.9 L122.7,574.2 L123.0,575.2 L123.3,574.9 L123.6,575.2 L123.9,574.7 L124.2,574.4 L124.5,575.2 L124.8,575.3 L125.1,574.9 L125.4,574.8 L125.7,575.6 L126.0,575.4 L126.3,576.5 L126.6,575.5 L126.9,575.6 L127.2,575.9 L127.5,575.4 L127.8,575.8 L128.1,576.7 L128.4,576.1 L128.7,576.0 L129.0,575.6 L129.3,575.6 L129.6,574.9 L129.9,573.6 L130.2,570.2 L130.5,567.3 L130.8,566.6 L131.1,568.1 L131.4,571.4 L131.7,572.8 L132.0,574.1 L132.3,575.3 L132.6,575.9 L132.9,575.9 L133.2,576.4 L133.5,576.7 L133.8,576.4 L134.1,576.3 L134.4,576.4 L134.7,576.2 L135.0,575.6 L135.3,575.8 L135.6,576.2 L135.9,575.2 L136.2,575.0 L136.5,572.8 L136.8,569.7 L137.1,566.6 L137.4,563.8 L137.7,559.6 L138.0,556.2 L138.3,555.0 L138.6,557.9 L138.9,561.9 L139.2,565.6 L139.5,567.5 L139.8,569.2 L140.1,570.3 L140.4,570.2 L140.7,569.5 L141.0,569.5 L141.3,569.0 L141.6,568.2 L141.9,568.4 L142.2,570.2 L142.5,569.8 L142.8,570.3 L143.1,571.9 L143.4,573.3 L143.7,573.3 L144.0,574.0 L144.3,574.2 L144.6,574.7 L144.9,575.5 L145.2,575.6 L145.5,575.5 L145.8,575.9 L146.1,576.0 L146.4,575.6 L146.7,575.8 L147.0,575.9 L147.3,575.6 L147.6,576.2 L147.9,575.7 L148.2,575.5 L148.5,575.1 L148.8,575.2 L149.1,576.1 L149.4,575.0 L149.7,575.5 L150.0,575.0 L150.3,575.2 L150.6,575.1 L150.9,574.4 L151.2,574.4 L151.5,574.3 L151.8,574.2 L152.1,573.9 L152.4,573.6 L152.7,573.7 L153.0,573.7 L153.3,573.1 L153.6,572.4 L153.9,572.4 L154.2,571.9 L154.5,571.7 L154.8,571.8 L155.1,570.7 L155.4,570.3 L155.7,569.5 L156.0,569.3 L156.3,568.7 L156.6,569.0 L156.9,568.1 L157.2,567.3 L157.5,567.7 L157.8,566.1 L158.1,566.3 L158.4,565.8 L158.7,565.0 L159.0,564.0 L159.3,563.4 L159.6,562.7 L159.9,562.5 L160.2,560.8 L160.5,560.9 L160.8,560.6 L161.1,559.8 L161.4,558.8 L161.7,558.8 L162.0,558.1 L162.3,558.0 L162.6,557.4 L162.9,556.2 L163.2,554.5 L163.5,554.0 L163.8,552.6 L164.1,551.9 L164.4,551.0 L164.7,549.3 L165.0,548.7 L165.3,547.3 L165.6,545.7 L165.9,543.6 L166.2,542.0 L166.5,539.0 L166.8,537.1 L167.1,534.0 L167.4,531.5 L167.7,527.7 L168.0,524.2 L168.3,524.5 L168.6,525.6 L168.9,527.7 L169.2,529.0 L169.5,531.5 L169.8,535.5 L170.1,539.2 L170.4,543.3 L170.7,547.2 L171.0,552.6 L171.3,555.3 L171.6,558.7 L171.9,561.8 L172.2,564.8 L172.5,567.7 L172.8,569.5 L173.1,570.6 L173.4,571.3 L173.7,572.3 L174.0,572.8 L174.3,573.2 L174.6,575.1 L174.9,574.8 L175.2,575.7 L175.5,575.5 L175.8,575.8 L176.1,575.8 L176.4,575.3 L176.7,575.8 L177.0,575.9 L177.3,575.9 L177.6,575.7 L177.9,575.8 L178.2,575.4 L178.5,575.2 L178.8,574.3 L179.1,574.4 L179.4,574.2 L179.7,572.6 L180.0,571.8 L180.3,570.5 L180.6,569.8 L180.9,570.9 L181.2,571.1 L181.5,572.7 L181.8,573.7 L182.1,574.6 L182.4,574.6 L182.7,575.7 L183.0,575.3 L183.3,575.3 L183.6,576.6 L183.9,576.6 L184.2,576.6 L184.5,576.5 L184.8,576.5 L185.1,576.7 L185.4,576.6 L185.7,576.6 L186.0,576.8 L186.3,575.7 L186.6,576.8 L186.9,576.3 L187.2,576.8 L187.5,576.9 L187.8,576.2 L188.1,576.8 L188.4,576.8 L188.7,576.3 L189.0,576.3 L189.3,576.6 L189.6,575.7 L189.9,576.4 L190.2,576.6 L190.5,576.3 L190.8,575.9 L191.1,576.4 L191.4,577.0 L191.7,577.0 L192.0,576.5 L192.3,576.2 L192.6,576.5 L192.9,576.5 L193.2,576.3 L193.5,576.4 L193.8,576.7 L194.1,576.8 L194.4,575.6 L194.7,576.8 L195.0,576.5 L195.3,576.9 L195.6,576.5 L195.9,576.6 L196.2,577.0 L196.5,575.3 L196.8,576.8 L197.1,576.2 L197.4,575.4 L197.7,575.0 L198.0,575.9 L198.3,575.3 L198.6,575.7 L198.9,574.6 L199.2,573.2 L199.5,572.1 L199.8,570.4 L200.1,569.7 L200.4,569.6 L200.7,570.2 L201.0,571.7 L201.3,573.4 L201.6,574.1 L201.9,575.3 L202.2,575.5 L202.5,575.5 L202.8,575.2 L203.1,575.6 L203.4,576.0 L203.7,575.9 L204.0,576.4 L204.3,575.7 L204.6,575.8 L204.9,575.8 L205.2,575.9 L205.5,575.8 L205.8,575.4 L206.1,576.2 L206.4,576.5 L206.7,576.5 L207.0,575.8 L207.3,576.1 L207.6,576.9 L207.9,576.2 L208.2,576.4 L208.5,576.2 L208.8,576.7 L209.1,576.7 L209.4,577.2 L209.7,576.6 L210.0,576.6 L210.3,576.0 L210.6,576.3 L210.9,576.2 L211.2,576.4 L211.5,576.0 L211.8,576.9 L212.1,576.2 L212.4,576.7 L212.7,576.1 L213.0,576.7 L213.3,577.2 L213.6,576.3 L213.9,576.8 L214.2,576.6 L214.5,576.7 L214.8,576.8 L215.1,576.4 L215.4,576.6 L215.7,576.5 L216.0,576.4 L216.3,576.3 L216.6,577.0 L216.9,576.4 L217.2,576.9 L217.5,576.9 L217.8,576.4 L218.1,577.1 L218.4,576.4 L218.7,576.9 L219.0,577.2 L219.3,576.4 L219.6,576.4 L219.9,576.4 L220.2,577.5 L220.5,576.6 L220.8,576.2 L221.1,577.0 L221.4,576.6 L221.7,576.7 L222.0,576.3 L222.3,575.9 L222.6,576.4 L222.9,576.3 L223.2,576.1 L223.5,576.3 L223.8,576.3 L224.1,576.9 L224.4,576.9 L224.7,576.8 L225.0,576.5 L225.3,576.2 L225.6,576.7 L225.9,576.8 L226.2,577.0 L226.5,576.6 L226.8,576.6 L227.1,576.7 L227.4,576.3 L227.7,576.3 L228.0,576.8 L228.3,576.2 L228.6,576.6 L228.9,576.9 L229.2,576.7 L229.5,576.7 L229.8,576.2 L230.1,576.5 L230.4,576.5 L230.7,576.8 L231.0,576.7 L231.3,576.5 L231.6,577.2 L231.9,576.7 L232.2,576.4 L232.5,576.3 L232.8,576.5 L233.1,576.3 L233.4,577.1 L233.7,576.7 L234.0,576.4 L234.3,576.2 L234.6,576.1 L234.9,576.4 L235.2,576.9 L235.5,576.7 L235.8,576.4 L236.1,576.5 L236.4,575.8 L236.7,576.7 L237.0,576.3 L237.3,576.9 L237.6,576.3 L237.9,576.2 L238.2,576.4 L238.5,576.1 L238.8,576.8 L239.1,576.4 L239.4,576.5 L239.7,576.4 L240.0,576.2 L240.3,576.5 L240.6,576.4 L240.9,576.9 L241.2,576.3 L241.5,576.4 L241.8,576.1 L242.1,576.1 L242.4,576.1 L242.7,576.7 L243.0,576.2 L243.3,576.5 L243.6,576.1 L243.9,576.0 L244.2,575.5 L244.5,576.4 L244.8,576.8 L245.1,576.0 L245.4,576.6 L245.7,576.3 L246.0,575.8 L246.3,576.3 L246.6,575.7 L246.9,575.9 L247.2,576.4 L247.5,576.0 L247.8,575.5 L248.1,576.4 L248.4,575.4 L248.7,575.7 L249.0,575.7 L249.3,575.7 L249.6,575.4 L249.9,575.1 L250.2,576.3 L250.5,575.3 L250.8,575.3 L251.1,574.7 L251.4,575.5 L251.7,575.9 L252.0,575.9 L252.3,576.4 L252.6,575.9 L252.9,575.5 L253.2,575.3 L253.5,575.8 L253.8,575.2 L254.1,575.2 L254.4,574.8 L254.7,575.1 L255.0,575.7 L255.3,575.0 L255.6,575.1 L255.9,574.0 L256.2,575.3 L256.5,574.8 L256.8,575.1 L257.1,574.6 L257.4,574.1 L257.7,573.8 L258.0,574.4 L258.3,574.1 L258.6,573.6 L258.9,573.8 L259.2,573.5 L259.5,573.8 L259.8,573.3 L260.1,572.9 L260.4,573.1 L260.7,572.8 L261.0,573.4 L261.3,572.5 L261.6,572.1 L261.9,572.4 L262.2,572.2 L262.5,572.2 L262.8,572.0 L263.1,571.4 L263.4,571.6 L263.7,571.5 L264.0,570.9 L264.3,571.0 L264.6,571.1 L264.9,570.2 L265.2,570.2 L265.5,570.3 L265.8,570.2 L266.1,570.2 L266.4,569.4 L266.7,569.7 L267.0,569.7 L267.3,569.8 L267.6,568.9 L267.9,568.5 L268.2,568.1 L268.5,568.6 L268.8,568.7 L269.1,567.8 L269.4,568.0 L269.7,568.0 L270.0,567.8 L270.3,567.1 L270.6,567.3 L270.9,566.8 L271.2,566.3 L271.5,566.5 L271.8,566.3 L272.1,565.6 L272.4,565.9 L272.7,566.2 L273.0,564.7 L273.3,565.3 L273.6,565.2 L273.9,564.7 L274.2,564.6 L274.5,564.3 L274.8,564.8 L275.1,563.9 L275.4,564.2 L275.7,563.6 L276.0,564.6 L276.3,565.1 L276.6,564.9 L276.9,565.9 L277.2,567.1 L277.5,567.5 L277.8,568.1 L278.1,568.3 L278.4,569.9 L278.7,571.0 L279.0,570.7 L279.3,571.6 L279.6,572.1 L279.9,572.5 L280.2,573.1 L280.5,573.6 L280.8,573.7 L281.1,575.3 L281.4,575.7 L281.7,575.1 L282.0,575.8 L282.3,575.1 L282.6,575.5 L282.9,576.1 L283.2,575.5 L283.5,575.6 L283.8,576.3 L284.1,575.7 L284.4,577.1 L284.7,576.9 L285.0,576.8 L285.3,577.0 L285.6,576.6 L285.9,576.6 L286.2,577.3 L286.5,577.3 L286.8,577.0 L287.1,577.0 L287.4,576.8 L287.7,577.5 L288.0,576.4 L288.3,576.6 L288.6,576.7 L288.9,576.4 L289.2,576.4 L289.5,576.5 L289.8,577.2 L290.1,577.4 L290.4,576.9 L290.7,576.2 L291.0,576.5 L291.3,576.6 L291.6,576.5 L291.9,576.4 L292.2,576.7 L292.5,575.8 L292.8,576.2 L293.1,576.4 L293.4,576.5 L293.7,576.3 L294.0,576.2 L294.3,576.1 L294.6,575.8 L294.9,576.0 L295.2,575.9 L295.5,575.6 L295.8,576.3 L296.1,576.2 L296.4,575.6 L296.7,575.9 L297.0,576.0 L297.3,575.6 L297.6,575.5 L297.9,575.6 L298.2,574.8 L298.5,574.8 L298.8,575.4 L299.1,575.2 L299.4,575.5 L299.7,574.8 L300.0,575.3 L300.3,575.2 L300.6,575.4 L300.9,574.3 L301.2,574.4 L301.5,574.5 L301.8,574.4 L302.1,573.8 L302.4,573.8 L302.7,573.5 L303.0,574.6 L303.3,573.7 L303.6,573.6 L303.9,573.3 L304.2,573.4 L304.5,573.5 L304.8,573.0 L305.1,573.0 L305.4,573.7 L305.7,573.2 L306.0,572.8 L306.3,572.5 L306.6,572.5 L306.9,572.2 L307.2,572.5 L307.5,572.0 L307.8,571.9 L308.1,571.9 L308.4,571.6 L308.7,571.9 L309.0,572.6 L309.3,571.4 L309.6,570.9 L309.9,571.7 L310.2,571.3 L310.5,571.9 L310.8,571.2 L311.1,571.3 L311.4,570.7 L311.7,570.3 L312.0,570.7 L312.3,570.9 L312.6,570.3 L312.9,570.0 L313.2,570.3 L313.5,570.4 L313.8,570.4 L314.1,570.5 L314.4,571.3 L314.7,570.5 L315.0,570.3 L315.3,570.2 L315.6,570.8 L315.9,570.0 L316.2,571.1 L316.5,570.7 L316.8,570.2 L317.1,570.9 L317.4,570.8 L317.7,571.4 L318.0,570.5 L318.3,571.1 L318.6,571.1 L318.9,571.5 L319.2,570.9 L319.5,571.1 L319.8,572.2 L320.1,571.8 L320.4,571.1 L320.7,571.9 L321.0,571.6 L321.3,571.7 L321.6,571.6 L321.9,572.4 L322.2,572.0 L322.5,572.3 L322.8,572.4 L323.1,571.9 L323.4,572.2 L323.7,572.8 L324.0,572.1 L324.3,572.8 L324.6,572.8 L324.9,573.1 L325.2,573.2 L325.5,573.4 L325.8,573.2 L326.1,573.4 L326.4,573.1 L326.7,573.3 L327.0,573.9 L327.3,573.4 L327.6,574.1 L327.9,574.2 L328.2,573.7 L328.5,574.2 L328.8,573.8 L329.1,574.3 L329.4,574.0 L329.7,574.5 L330.0,574.5 L330.3,574.2 L330.6,575.4 L330.9,575.1 L331.2,574.3 L331.5,575.1 L331.8,574.9 L332.1,575.9 L332.4,575.3 L332.7,575.5 L333.0,575.4 L333.3,575.8 L333.6,575.5 L333.9,575.5 L334.2,575.7 L334.5,575.8 L334.8,576.3 L335.1,576.1 L335.4,576.0 L335.7,576.1 L336.0,575.9 L336.3,576.3 L336.6,575.6 L336.9,576.2 L337.2,576.7 L337.5,576.1 L337.8,576.0 L338.1,576.2 L338.4,575.8 L338.7,575.8 L339.0,576.2 L339.3,575.6 L339.6,576.5 L339.9,575.9 L340.2,575.5 L340.5,575.2 L340.8,575.3 L341.1,574.4 L341.4,575.2 L341.7,575.3 L342.0,575.0 L342.3,574.5 L342.6,574.7 L342.9,574.4 L343.2,573.9 L343.5,573.8 L343.8,573.7 L344.1,573.2 L344.4,572.5 L344.7,572.3 L345.0,572.0 L345.3,571.1 L345.6,571.3 L345.9,570.9 L346.2,569.8 L346.5,569.6 L346.8,570.5 L347.1,569.6 L347.4,569.7 L347.7,568.8 L348.0,569.1 L348.3,568.4 L348.6,567.6 L348.9,567.6 L349.2,567.7 L349.5,567.6 L349.8,566.6 L350.1,565.9 L350.4,565.4 L350.7,565.6 L351.0,565.4 L351.3,564.7 L351.6,564.2 L351.9,564.1 L352.2,563.6 L352.5,563.2 L352.8,562.1 L353.1,562.2 L353.4,562.5 L353.7,561.5 L354.0,562.0 L354.3,560.9 L354.6,560.3 L354.9,560.2 L355.2,560.0 L355.5,559.2 L355.8,559.2 L356.1,558.7 L356.4,559.0 L356.7,558.0 L357.0,557.8 L357.3,556.9 L357.6,556.7 L357.9,556.9 L358.2,556.3 L358.5,556.3 L358.8,556.3 L359.1,556.2 L359.4,555.4 L359.7,555.8 L360.0,556.0 L360.3,555.6 L360.6,555.6 L360.9,556.2 L361.2,557.4 L361.5,557.3 L361.8,558.4 L362.1,558.2 L362.4,559.3 L362.7,558.8 L363.0,559.8 L363.3,560.5 L363.6,561.7 L363.9,561.9 L364.2,562.7 L364.5,562.8 L364.8,563.5 L365.1,564.6 L365.4,565.3 L365.7,565.8 L366.0,566.4 L366.3,566.3 L366.6,567.8 L366.9,567.7 L367.2,568.6 L367.5,569.0 L367.8,568.6 L368.1,569.0 L368.4,569.6 L368.7,570.6 L369.0,571.4 L369.3,571.3 L369.6,572.1 L369.9,571.8 L370.2,572.4 L370.5,572.7 L370.8,573.3 L371.1,573.3 L371.4,573.9 L371.7,574.5 L372.0,574.3 L372.3,574.4 L372.6,574.8 L372.9,574.8 L373.2,575.1 L373.5,575.9 L373.8,576.0 L374.1,575.5 L374.4,576.0 L374.7,576.4 L375.0,576.6 L375.3,576.6 L375.6,576.7 L375.9,576.4 L376.2,576.4 L376.5,576.4 L376.8,576.9 L377.1,576.8 L377.4,577.2 L377.7,577.0 L378.0,576.3 L378.3,576.1 L378.6,576.2 L378.9,576.4 L379.2,576.9 L379.5,576.2 L379.8,576.0 L380.1,576.7 L380.4,577.1 L380.7,577.1 L381.0,577.4 L381.3,576.8 L381.6,576.6 L381.9,576.7 L382.2,576.4 L382.5,576.6 L382.8,577.3 L383.1,577.6 L383.4,577.4 L383.7,577.0 L384.0,576.8 L384.3,577.0 L384.6,576.3 L384.9,577.2 L385.2,577.2 L385.5,576.9 L385.8,577.0 L386.1,576.4 L386.4,577.3 L386.7,577.3 L387.0,576.0 L387.3,576.8 L387.6,577.1 L387.9,577.6 L388.2,576.7 L388.5,577.0 L388.8,577.5 L389.1,577.2 L389.4,576.9 L389.7,576.8 L390.0,577.0 L390.3,576.7 L390.6,577.3 L390.9,576.7 L391.2,577.2 L391.5,577.3 L391.8,577.4 L392.1,577.0 L392.4,577.0 L392.7,577.1 L393.0,577.0 L393.3,577.3 L393.6,576.9 L393.9,577.6 L394.2,577.9 L394.5,576.7 L394.8,577.1 L395.1,576.5 L395.4,577.2 L395.7,577.0 L396.0,576.8 L396.3,576.5 L396.6,576.9 L396.9,577.6 L397.2,577.4 L397.5,577.0 L397.8,576.6 L398.1,576.8 L398.4,576.5 L398.7,576.3 L399.0,576.5 L399.3,577.0 L399.6,576.9 L399.9,576.8 L400.2,576.4 L400.5,576.3 L400.8,577.1 L401.1,576.6 L401.4,577.2 L401.7,576.5 L402.0,577.1 L402.3,576.8 L402.6,576.6 L402.9,576.6 L403.2,577.4 L403.5,577.0 L403.8,576.6 L404.1,576.8 L404.4,576.2 L404.7,577.3 L405.0,577.2 L405.3,576.6 L405.6,576.9 L405.9,575.7 L406.2,577.1 L406.5,576.9 L406.8,576.8 L407.1,577.0 L407.4,576.8 L407.7,576.4 L408.0,576.5 L408.3,576.7 L408.6,577.0 L408.9,576.7 L409.2,576.5 L409.5,576.9 L409.8,576.3 L410.1,577.5 L410.4,576.8 L410.7,576.4 L411.0,576.8 L411.3,577.1 L411.6,576.9 L411.9,577.5 L412.2,576.3 L412.5,577.3 L412.8,576.8 L413.1,577.1 L413.4,577.4 L413.7,576.4 L414.0,576.3 L414.3,576.7 L414.6,576.2 L414.9,576.1 L415.2,576.9 L415.5,577.2 L415.8,576.7 L416.1,577.0 L416.4,578.1 L416.7,577.0 L417.0,576.8 L417.3,576.8 L417.6,577.0 L417.9,576.8 L418.2,577.1 L418.5,577.0 L418.8,577.2 L419.1,577.0 L419.4,576.9 L419.7,576.6 L420.0,576.5 L420.3,576.9 L420.6,576.9 L420.9,577.1 L421.2,577.0 L421.5,576.9 L421.8,577.8 L422.1,577.2 L422.4,577.5 L422.7,576.7 L423.0,577.4 L423.3,577.5 L423.6,577.3 L423.9,576.8 L424.2,577.6 L424.5,576.9 L424.8,576.6 L425.1,576.6 L425.4,577.2 L425.7,577.0 L426.0,577.5 L426.3,577.5 L426.6,577.7 L426.9,577.4 L427.2,577.3 L427.5,577.3 L427.8,577.0 L428.1,577.0 L428.4,577.1 L428.7,577.4 L429.0,577.1 L429.3,577.4 L429.6,577.8 L429.9,576.6 L430.2,577.1 L430.5,577.1 L430.8,577.5 L431.1,577.0 L431.4,577.3 L431.7,578.3 L432.0,577.1 L432.3,577.5 L432.6,577.6 L432.9,577.5 L433.2,577.2 L433.5,578.0 L433.8,577.0 L434.1,577.3 L434.4,577.6" fill="none" stroke="#ee2cee" stroke-width="1.8" stroke-linejoin="round" clip-path="url(#cb)" />
<path d="M88.5,631.3 L88.8,630.0 L89.1,631.3 L89.4,631.1 L89.7,631.5 L90.0,631.3 L90.3,631.8 L90.6,631.4 L90.9,631.3 L91.2,631.7 L91.5,631.7 L91.8,631.5 L92.1,631.6 L92.4,632.0 L92.7,632.0 L93.0,631.7 L93.3,631.8 L93.6,631.4 L93.9,632.5 L94.2,631.9 L94.5,632.4 L94.8,632.1 L95.1,632.6 L95.4,632.5 L95.7,632.1 L96.0,632.4 L96.3,631.7 L96.6,632.3 L96.9,631.5 L97.2,632.0 L97.5,632.2 L97.8,632.0 L98.1,631.8 L98.4,631.6 L98.7,631.8 L99.0,632.2 L99.3,632.1 L99.6,631.7 L99.9,631.4 L100.2,632.0 L100.5,631.3 L100.8,631.6 L101.1,631.5 L101.4,631.9 L101.7,631.8 L102.0,631.8 L102.3,631.8 L102.6,631.5 L102.9,631.9 L103.2,632.1 L103.5,631.7 L103.8,631.9 L104.1,631.7 L104.4,632.0 L104.7,631.9 L105.0,632.0 L105.3,631.9 L105.6,632.3 L105.9,631.7 L106.2,631.7 L106.5,631.6 L106.8,632.0 L107.1,631.7 L107.4,631.7 L107.7,632.1 L108.0,632.2 L108.3,632.1 L108.6,631.1 L108.9,631.6 L109.2,631.6 L109.5,631.6 L109.8,631.8 L110.1,632.5 L110.4,631.9 L110.7,631.8 L111.0,632.2 L111.3,632.0 L111.6,632.0 L111.9,631.8 L112.2,632.0 L112.5,632.1 L112.8,631.4 L113.1,631.5 L113.4,632.3 L113.7,632.2 L114.0,631.8 L114.3,631.7 L114.6,631.9 L114.9,631.6 L115.2,631.8 L115.5,632.4 L115.8,632.0 L116.1,632.3 L116.4,631.8 L116.7,632.0 L117.0,632.3 L117.3,631.5 L117.6,631.8 L117.9,631.8 L118.2,631.9 L118.5,632.3 L118.8,632.0 L119.1,631.3 L119.4,631.7 L119.7,631.5 L120.0,631.5 L120.3,632.4 L120.6,631.4 L120.9,631.8 L121.2,631.5 L121.5,632.0 L121.8,631.8 L122.1,631.8 L122.4,631.7 L122.7,632.0 L123.0,631.4 L123.3,631.5 L123.6,631.4 L123.9,632.1 L124.2,631.7 L124.5,631.5 L124.8,631.8 L125.1,632.8 L125.4,632.1 L125.7,632.5 L126.0,632.5 L126.3,632.4 L126.6,632.3 L126.9,632.4 L127.2,632.4 L127.5,631.8 L127.8,633.1 L128.1,632.5 L128.4,632.1 L128.7,631.8 L129.0,631.3 L129.3,631.5 L129.6,630.5 L129.9,625.9 L130.2,618.4 L130.5,613.2 L130.8,612.7 L131.1,616.5 L131.4,623.7 L131.7,629.3 L132.0,631.5 L132.3,632.0 L132.6,632.0 L132.9,632.1 L133.2,632.5 L133.5,632.5 L133.8,632.3 L134.1,632.6 L134.4,632.6 L134.7,632.1 L135.0,632.3 L135.3,633.1 L135.6,632.4 L135.9,632.1 L136.2,631.7 L136.5,626.2 L136.8,619.3 L137.1,613.2 L137.4,607.8 L137.7,602.2 L138.0,597.7 L138.3,595.9 L138.6,600.2 L138.9,604.9 L139.2,610.7 L139.5,614.8 L139.8,618.9 L140.1,621.5 L140.4,621.8 L140.7,621.5 L141.0,622.0 L141.3,622.2 L141.6,622.4 L141.9,623.6 L142.2,624.3 L142.5,625.5 L142.8,626.9 L143.1,627.3 L143.4,627.5 L143.7,627.8 L144.0,629.4 L144.3,629.7 L144.6,630.2 L144.9,630.3 L145.2,630.9 L145.5,631.7 L145.8,631.6 L146.1,631.5 L146.4,632.1 L146.7,632.9 L147.0,632.4 L147.3,632.1 L147.6,632.3 L147.9,632.6 L148.2,633.2 L148.5,633.0 L148.8,632.7 L149.1,632.5 L149.4,632.8 L149.7,632.7 L150.0,632.5 L150.3,632.5 L150.6,632.3 L150.9,632.9 L151.2,631.6 L151.5,632.2 L151.8,631.8 L152.1,632.2 L152.4,631.7 L152.7,631.7 L153.0,631.6 L153.3,631.2 L153.6,631.2 L153.9,630.1 L154.2,630.5 L154.5,629.8 L154.8,629.6 L155.1,629.5 L155.4,629.0 L155.7,628.8 L156.0,627.1 L156.3,627.0 L156.6,627.1 L156.9,626.0 L157.2,625.8 L157.5,625.8 L157.8,625.1 L158.1,624.0 L158.4,623.9 L158.7,623.3 L159.0,622.4 L159.3,621.7 L159.6,621.0 L159.9,619.8 L160.2,619.5 L160.5,618.4 L160.8,618.0 L161.1,617.1 L161.4,615.8 L161.7,615.3 L162.0,614.2 L162.3,613.1 L162.6,612.3 L162.9,610.9 L163.2,609.7 L163.5,608.6 L163.8,607.3 L164.1,606.3 L164.4,603.8 L164.7,602.9 L165.0,600.7 L165.3,599.4 L165.6,597.7 L165.9,595.7 L166.2,593.8 L166.5,591.1 L166.8,587.7 L167.1,585.9 L167.4,584.9 L167.7,583.2 L168.0,581.2 L168.3,579.7 L168.6,580.7 L168.9,580.5 L169.2,583.2 L169.5,585.4 L169.8,587.8 L170.1,590.1 L170.4,593.3 L170.7,597.0 L171.0,599.8 L171.3,603.0 L171.6,607.2 L171.9,610.8 L172.2,614.0 L172.5,616.5 L172.8,619.5 L173.1,621.8 L173.4,623.6 L173.7,625.8 L174.0,627.0 L174.3,628.0 L174.6,628.3 L174.9,629.4 L175.2,630.5 L175.5,631.3 L175.8,631.7 L176.1,632.1 L176.4,632.6 L176.7,632.8 L177.0,633.0 L177.3,632.6 L177.6,632.1 L177.9,632.3 L178.2,631.4 L178.5,631.8 L178.8,631.4 L179.1,630.6 L179.4,629.0 L179.7,626.6 L180.0,623.8 L180.3,622.3 L180.6,621.1 L180.9,621.6 L181.2,623.1 L181.5,624.8 L181.8,627.6 L182.1,629.8 L182.4,630.7 L182.7,631.5 L183.0,631.2 L183.3,631.9 L183.6,632.6 L183.9,632.0 L184.2,632.6 L184.5,632.6 L184.8,633.3 L185.1,633.3 L185.4,632.8 L185.7,633.0 L186.0,632.2 L186.3,633.2 L186.6,633.1 L186.9,633.4 L187.2,632.3 L187.5,633.1 L187.8,632.9 L188.1,632.2 L188.4,632.7 L188.7,632.9 L189.0,633.2 L189.3,633.0 L189.6,632.7 L189.9,633.0 L190.2,632.8 L190.5,632.7 L190.8,632.5 L191.1,632.9 L191.4,632.9 L191.7,633.3 L192.0,632.6 L192.3,633.2 L192.6,632.8 L192.9,633.1 L193.2,632.4 L193.5,632.4 L193.8,632.5 L194.1,632.9 L194.4,632.6 L194.7,632.8 L195.0,632.6 L195.3,632.8 L195.6,632.4 L195.9,632.1 L196.2,632.2 L196.5,631.9 L196.8,632.2 L197.1,631.4 L197.4,631.1 L197.7,630.7 L198.0,630.8 L198.3,630.3 L198.6,629.2 L198.9,626.9 L199.2,624.6 L199.5,622.8 L199.8,621.0 L200.1,619.9 L200.4,618.7 L200.7,620.2 L201.0,621.5 L201.3,624.0 L201.6,626.5 L201.9,628.8 L202.2,629.6 L202.5,630.0 L202.8,630.5 L203.1,631.3 L203.4,631.9 L203.7,631.0 L204.0,631.5 L204.3,631.6 L204.6,632.2 L204.9,632.1 L205.2,632.5 L205.5,631.8 L205.8,632.2 L206.1,632.1 L206.4,632.0 L206.7,632.3 L207.0,632.0 L207.3,633.1 L207.6,632.6 L207.9,632.2 L208.2,632.4 L208.5,633.2 L208.8,632.5 L209.1,632.9 L209.4,632.9 L209.7,633.1 L210.0,633.0 L210.3,632.8 L210.6,632.7 L210.9,632.4 L211.2,633.0 L211.5,633.0 L211.8,632.9 L212.1,633.0 L212.4,632.7 L212.7,633.8 L213.0,633.0 L213.3,632.8 L213.6,633.0 L213.9,633.1 L214.2,633.4 L214.5,632.5 L214.8,633.4 L215.1,633.1 L215.4,633.2 L215.7,633.6 L216.0,633.5 L216.3,633.1 L216.6,633.3 L216.9,633.9 L217.2,633.7 L217.5,633.6 L217.8,633.3 L218.1,633.6 L218.4,633.4 L218.7,633.1 L219.0,633.0 L219.3,633.5 L219.6,633.4 L219.9,633.7 L220.2,633.2 L220.5,633.7 L220.8,633.2 L221.1,633.7 L221.4,633.5 L221.7,633.1 L222.0,633.0 L222.3,633.3 L222.6,633.2 L222.9,633.6 L223.2,633.1 L223.5,632.9 L223.8,633.3 L224.1,633.9 L224.4,633.8 L224.7,633.1 L225.0,633.2 L225.3,633.4 L225.6,633.1 L225.9,633.2 L226.2,633.2 L226.5,633.0 L226.8,633.1 L227.1,633.2 L227.4,633.4 L227.7,632.9 L228.0,633.3 L228.3,633.0 L228.6,633.0 L228.9,632.9 L229.2,634.4 L229.5,633.6 L229.8,633.6 L230.1,633.4 L230.4,633.1 L230.7,633.2 L231.0,633.2 L231.3,633.2 L231.6,633.2 L231.9,633.5 L232.2,632.1 L232.5,632.8 L232.8,633.1 L233.1,632.8 L233.4,632.8 L233.7,633.3 L234.0,632.9 L234.3,633.3 L234.6,632.7 L234.9,632.8 L235.2,632.4 L235.5,632.1 L235.8,632.5 L236.1,632.6 L236.4,632.5 L236.7,632.1 L237.0,632.7 L237.3,632.5 L237.6,632.4 L237.9,632.2 L238.2,632.9 L238.5,632.8 L238.8,632.4 L239.1,632.2 L239.4,632.3 L239.7,632.7 L240.0,633.0 L240.3,632.2 L240.6,632.0 L240.9,631.6 L241.2,632.9 L241.5,631.8 L241.8,632.3 L242.1,632.2 L242.4,632.4 L242.7,631.8 L243.0,631.5 L243.3,632.0 L243.6,632.1 L243.9,632.3 L244.2,631.5 L244.5,631.8 L244.8,631.9 L245.1,631.5 L245.4,631.9 L245.7,632.2 L246.0,631.9 L246.3,631.5 L246.6,632.0 L246.9,632.2 L247.2,632.1 L247.5,632.2 L247.8,631.4 L248.1,632.0 L248.4,632.1 L248.7,631.8 L249.0,631.9 L249.3,631.7 L249.6,632.3 L249.9,631.8 L250.2,631.6 L250.5,631.9 L250.8,631.9 L251.1,632.1 L251.4,631.6 L251.7,631.7 L252.0,632.0 L252.3,632.5 L252.6,632.0 L252.9,631.4 L253.2,631.9 L253.5,631.6 L253.8,631.3 L254.1,631.6 L254.4,631.7 L254.7,632.0 L255.0,632.2 L255.3,632.2 L255.6,632.1 L255.9,631.7 L256.2,631.9 L256.5,631.8 L256.8,632.2 L257.1,631.6 L257.4,631.6 L257.7,632.2 L258.0,631.9 L258.3,631.6 L258.6,631.8 L258.9,631.8 L259.2,631.8 L259.5,632.0 L259.8,631.8 L260.1,631.6 L260.4,631.5 L260.7,631.1 L261.0,631.5 L261.3,631.9 L261.6,631.5 L261.9,631.2 L262.2,631.2 L262.5,631.0 L262.8,631.2 L263.1,631.6 L263.4,631.4 L263.7,631.1 L264.0,630.9 L264.3,630.4 L264.6,630.0 L264.9,630.2 L265.2,629.9 L265.5,630.1 L265.8,629.8 L266.1,629.4 L266.4,629.5 L266.7,630.1 L267.0,628.8 L267.3,629.2 L267.6,628.9 L267.9,628.5 L268.2,628.1 L268.5,628.2 L268.8,628.0 L269.1,628.0 L269.4,627.7 L269.7,627.3 L270.0,626.7 L270.3,626.6 L270.6,626.0 L270.9,625.5 L271.2,625.7 L271.5,624.9 L271.8,624.4 L272.1,624.4 L272.4,623.5 L272.7,623.7 L273.0,623.6 L273.3,623.0 L273.6,623.0 L273.9,623.3 L274.2,622.9 L274.5,622.5 L274.8,622.3 L275.1,621.9 L275.4,622.0 L275.7,622.0 L276.0,622.3 L276.3,622.7 L276.6,622.9 L276.9,624.2 L277.2,624.0 L277.5,625.1 L277.8,626.0 L278.1,626.3 L278.4,626.6 L278.7,627.3 L279.0,628.4 L279.3,628.6 L279.6,628.8 L279.9,629.6 L280.2,629.9 L280.5,629.9 L280.8,631.0 L281.1,631.6 L281.4,631.9 L281.7,631.7 L282.0,631.4 L282.3,632.3 L282.6,632.0 L282.9,632.3 L283.2,632.6 L283.5,632.4 L283.8,632.4 L284.1,632.3 L284.4,632.4 L284.7,632.6 L285.0,632.5 L285.3,632.8 L285.6,632.2 L285.9,632.5 L286.2,632.9 L286.5,632.7 L286.8,632.8 L287.1,632.6 L287.4,633.2 L287.7,633.5 L288.0,632.7 L288.3,633.3 L288.6,632.6 L288.9,633.0 L289.2,632.4 L289.5,633.1 L289.8,632.9 L290.1,632.9 L290.4,633.1 L290.7,632.9 L291.0,632.6 L291.3,632.3 L291.6,632.5 L291.9,632.2 L292.2,632.2 L292.5,632.7 L292.8,632.4 L293.1,632.1 L293.4,632.1 L293.7,631.4 L294.0,631.7 L294.3,631.1 L294.6,631.3 L294.9,631.5 L295.2,631.3 L295.5,631.3 L295.8,631.0 L296.1,630.9 L296.4,630.7 L296.7,631.0 L297.0,630.9 L297.3,629.9 L297.6,630.3 L297.9,630.5 L298.2,629.9 L298.5,630.0 L298.8,629.6 L299.1,629.3 L299.4,629.6 L299.7,629.3 L300.0,629.2 L300.3,628.7 L300.6,628.6 L300.9,628.8 L301.2,628.5 L301.5,628.7 L301.8,628.0 L302.1,628.4 L302.4,628.2 L302.7,627.9 L303.0,627.9 L303.3,627.5 L303.6,627.3 L303.9,627.2 L304.2,626.7 L304.5,626.9 L304.8,626.9 L305.1,626.1 L305.4,626.6 L305.7,626.0 L306.0,626.0 L306.3,626.0 L306.6,625.9 L306.9,626.1 L307.2,625.5 L307.5,625.9 L307.8,625.2 L308.1,625.2 L308.4,625.0 L308.7,624.5 L309.0,624.2 L309.3,624.4 L309.6,624.4 L309.9,624.2 L310.2,623.7 L310.5,624.2 L310.8,623.5 L311.1,623.1 L311.4,623.5 L311.7,623.4 L312.0,622.7 L312.3,623.1 L312.6,622.4 L312.9,622.7 L313.2,623.3 L313.5,622.9 L313.8,622.7 L314.1,622.7 L314.4,622.3 L314.7,622.6 L315.0,622.7 L315.3,622.3 L315.6,622.7 L315.9,622.8 L316.2,622.8 L316.5,622.9 L316.8,622.8 L317.1,622.6 L317.4,623.0 L317.7,622.5 L318.0,622.9 L318.3,623.6 L318.6,623.9 L318.9,623.6 L319.2,622.8 L319.5,624.0 L319.8,623.9 L320.1,623.8 L320.4,624.2 L320.7,624.2 L321.0,623.8 L321.3,623.9 L321.6,624.7 L321.9,623.8 L322.2,624.8 L322.5,624.8 L322.8,625.1 L323.1,625.5 L323.4,625.5 L323.7,625.6 L324.0,625.5 L324.3,625.5 L324.6,625.8 L324.9,625.6 L325.2,625.4 L325.5,625.8 L325.8,625.4 L326.1,625.9 L326.4,626.8 L326.7,626.4 L327.0,626.3 L327.3,626.3 L327.6,626.1 L327.9,626.6 L328.2,626.6 L328.5,627.0 L328.8,627.2 L329.1,627.2 L329.4,626.8 L329.7,628.0 L330.0,627.8 L330.3,627.8 L330.6,627.8 L330.9,628.2 L331.2,628.6 L331.5,628.5 L331.8,628.1 L332.1,628.3 L332.4,628.1 L332.7,629.0 L333.0,629.3 L333.3,629.6 L333.6,629.4 L333.9,629.8 L334.2,629.5 L334.5,630.1 L334.8,630.1 L335.1,630.2 L335.4,630.1 L335.7,631.2 L336.0,630.4 L336.3,631.4 L336.6,631.2 L336.9,631.8 L337.2,631.6 L337.5,632.1 L337.8,631.9 L338.1,631.7 L338.4,631.8 L338.7,631.5 L339.0,632.0 L339.3,632.2 L339.6,631.9 L339.9,631.7 L340.2,632.0 L340.5,631.1 L340.8,631.5 L341.1,631.2 L341.4,630.9 L341.7,631.0 L342.0,630.3 L342.3,630.4 L342.6,630.3 L342.9,629.6 L343.2,629.7 L343.5,629.7 L343.8,629.6 L344.1,628.8 L344.4,629.1 L344.7,628.5 L345.0,628.3 L345.3,627.9 L345.6,628.0 L345.9,627.2 L346.2,627.1 L346.5,626.7 L346.8,626.4 L347.1,625.4 L347.4,625.5 L347.7,624.8 L348.0,624.7 L348.3,623.6 L348.6,622.9 L348.9,622.5 L349.2,621.8 L349.5,621.3 L349.8,620.3 L350.1,619.5 L350.4,619.0 L350.7,618.7 L351.0,618.3 L351.3,617.5 L351.6,616.6 L351.9,616.2 L352.2,615.6 L352.5,615.6 L352.8,614.3 L353.1,613.1 L353.4,611.7 L353.7,611.2 L354.0,610.3 L354.3,609.6 L354.6,609.2 L354.9,607.6 L355.2,606.2 L355.5,605.9 L355.8,604.7 L356.1,604.7 L356.4,604.2 L356.7,603.4 L357.0,602.3 L357.3,602.2 L357.6,602.1 L357.9,600.9 L358.2,600.5 L358.5,600.3 L358.8,600.0 L359.1,599.5 L359.4,599.2 L359.7,599.0 L360.0,598.6 L360.3,598.7 L360.6,598.9 L360.9,598.8 L361.2,599.6 L361.5,600.2 L361.8,600.9 L362.1,601.7 L362.4,602.1 L362.7,602.8 L363.0,604.1 L363.3,604.9 L363.6,606.1 L363.9,607.1 L364.2,608.3 L364.5,610.3 L364.8,611.7 L365.1,613.5 L365.4,615.1 L365.7,616.6 L366.0,617.9 L366.3,618.5 L366.6,619.1 L366.9,620.3 L367.2,620.9 L367.5,621.6 L367.8,623.0 L368.1,623.0 L368.4,624.4 L368.7,625.1 L369.0,626.2 L369.3,626.3 L369.6,627.2 L369.9,626.9 L370.2,627.3 L370.5,628.3 L370.8,627.9 L371.1,629.0 L371.4,628.9 L371.7,628.6 L372.0,630.0 L372.3,629.3 L372.6,630.5 L372.9,629.5 L373.2,629.9 L373.5,630.4 L373.8,630.5 L374.1,630.2 L374.4,630.9 L374.7,631.0 L375.0,631.3 L375.3,630.8 L375.6,631.2 L375.9,631.5 L376.2,631.9 L376.5,631.8 L376.8,631.7 L377.1,631.8 L377.4,632.5 L377.7,631.9 L378.0,632.3 L378.3,631.6 L378.6,632.8 L378.9,632.5 L379.2,631.9 L379.5,632.6 L379.8,632.9 L380.1,632.7 L380.4,632.5 L380.7,632.8 L381.0,632.3 L381.3,632.5 L381.6,632.5 L381.9,632.6 L382.2,632.3 L382.5,633.1 L382.8,632.6 L383.1,632.3 L383.4,632.6 L383.7,632.8 L384.0,632.7 L384.3,633.1 L384.6,632.6 L384.9,632.5 L385.2,632.9 L385.5,633.2 L385.8,632.5 L386.1,632.3 L386.4,632.6 L386.7,632.8 L387.0,632.5 L387.3,632.9 L387.6,632.6 L387.9,633.1 L388.2,632.5 L388.5,632.6 L388.8,632.9 L389.1,633.1 L389.4,633.2 L389.7,632.7 L390.0,632.9 L390.3,633.1 L390.6,633.4 L390.9,632.7 L391.2,632.6 L391.5,633.1 L391.8,632.9 L392.1,633.4 L392.4,633.0 L392.7,633.1 L393.0,632.7 L393.3,633.1 L393.6,633.3 L393.9,632.9 L394.2,632.6 L394.5,633.3 L394.8,632.9 L395.1,633.0 L395.4,632.8 L395.7,633.3 L396.0,632.8 L396.3,632.8 L396.6,633.0 L396.9,632.9 L397.2,632.3 L397.5,633.1 L397.8,632.6 L398.1,633.1 L398.4,632.9 L398.7,633.0 L399.0,632.8 L399.3,632.7 L399.6,633.0 L399.9,633.1 L400.2,633.3 L400.5,633.2 L400.8,632.8 L401.1,633.3 L401.4,633.7 L401.7,633.2 L402.0,632.9 L402.3,632.7 L402.6,633.0 L402.9,632.6 L403.2,633.2 L403.5,632.9 L403.8,632.8 L404.1,633.1 L404.4,632.6 L404.7,632.5 L405.0,632.9 L405.3,633.4 L405.6,632.7 L405.9,633.3 L406.2,632.4 L406.5,633.0 L406.8,633.1 L407.1,633.5 L407.4,632.5 L407.7,633.0 L408.0,632.7 L408.3,633.1 L408.6,632.8 L408.9,633.0 L409.2,632.8 L409.5,632.8 L409.8,633.1 L410.1,633.4 L410.4,633.1 L410.7,633.0 L411.0,632.9 L411.3,633.5 L411.6,632.4 L411.9,632.4 L412.2,632.8 L412.5,633.1 L412.8,633.3 L413.1,633.2 L413.4,633.2 L413.7,633.0 L414.0,632.8 L414.3,632.7 L414.6,633.1 L414.9,632.7 L415.2,633.1 L415.5,633.2 L415.8,632.8 L416.1,632.9 L416.4,632.8 L416.7,633.2 L417.0,633.0 L417.3,632.8 L417.6,633.1 L417.9,633.4 L418.2,633.1 L418.5,633.0 L418.8,632.9 L419.1,632.7 L419.4,633.0 L419.7,633.0 L420.0,632.9 L420.3,633.3 L420.6,632.9 L420.9,632.9 L421.2,633.0 L421.5,633.1 L421.8,632.5 L422.1,633.1 L422.4,633.4 L422.7,632.7 L423.0,633.1 L423.3,632.8 L423.6,632.7 L423.9,633.1 L424.2,633.0 L424.5,632.4 L424.8,632.8 L425.1,633.2 L425.4,632.8 L425.7,632.8 L426.0,632.9 L426.3,632.9 L426.6,633.2 L426.9,632.7 L427.2,632.6 L427.5,633.1 L427.8,633.3 L428.1,633.2 L428.4,633.2 L428.7,632.8 L429.0,632.6 L429.3,632.8 L429.6,633.0 L429.9,632.5 L430.2,632.9 L430.5,633.2 L430.8,632.8 L431.1,633.6 L431.4,633.2 L431.7,632.6 L432.0,632.7 L432.3,632.8 L432.6,633.2 L432.9,633.1 L433.2,632.8 L433.5,633.0 L433.8,633.2 L434.1,633.1 L434.4,632.5" fill="none" stroke="#ee1c1c" stroke-width="1.8" stroke-linejoin="round" clip-path="url(#cb)" />
<path d="M88.5,687.1 L88.8,686.1 L89.1,685.7 L89.4,684.9 L89.7,686.2 L90.0,687.0 L90.3,686.3 L90.6,686.5 L90.9,686.7 L91.2,685.6 L91.5,687.5 L91.8,685.5 L92.1,686.1 L92.4,687.4 L92.7,685.7 L93.0,685.8 L93.3,685.4 L93.6,685.9 L93.9,684.5 L94.2,685.2 L94.5,686.5 L94.8,685.6 L95.1,685.4 L95.4,685.7 L95.7,685.7 L96.0,685.5 L96.3,685.7 L96.6,684.4 L96.9,685.6 L97.2,684.9 L97.5,685.7 L97.8,685.2 L98.1,684.7 L98.4,685.2 L98.7,684.6 L99.0,685.7 L99.3,685.1 L99.6,685.6 L99.9,684.5 L100.2,686.0 L100.5,684.9 L100.8,685.8 L101.1,685.5 L101.4,684.4 L101.7,685.2 L102.0,684.7 L102.3,685.2 L102.6,685.8 L102.9,685.4 L103.2,685.6 L103.5,684.4 L103.8,685.2 L104.1,685.3 L104.4,685.8 L104.7,684.9 L105.0,685.6 L105.3,685.6 L105.6,684.6 L105.9,685.0 L106.2,685.9 L106.5,685.1 L106.8,685.1 L107.1,686.4 L107.4,686.2 L107.7,685.9 L108.0,686.2 L108.3,686.0 L108.6,686.0 L108.9,686.1 L109.2,686.6 L109.5,687.2 L109.8,686.2 L110.1,686.5 L110.4,686.4 L110.7,685.9 L111.0,686.7 L111.3,687.1 L111.6,686.1 L111.9,687.1 L112.2,686.3 L112.5,687.3 L112.8,687.3 L113.1,686.5 L113.4,685.6 L113.7,686.5 L114.0,685.9 L114.3,686.0 L114.6,686.6 L114.9,687.4 L115.2,686.6 L115.5,686.6 L115.8,685.6 L116.1,686.3 L116.4,685.8 L116.7,686.8 L117.0,686.2 L117.3,686.4 L117.6,686.4 L117.9,686.2 L118.2,686.8 L118.5,686.5 L118.8,685.9 L119.1,686.1 L119.4,686.3 L119.7,686.6 L120.0,685.9 L120.3,686.5 L120.6,685.4 L120.9,685.5 L121.2,684.7 L121.5,685.9 L121.8,684.9 L122.1,684.8 L122.4,685.8 L122.7,685.0 L123.0,684.9 L123.3,685.8 L123.6,685.2 L123.9,685.8 L124.2,685.2 L124.5,685.9 L124.8,686.3 L125.1,685.9 L125.4,687.0 L125.7,685.9 L126.0,686.1 L126.3,686.4 L126.6,687.0 L126.9,686.3 L127.2,686.3 L127.5,686.6 L127.8,687.1 L128.1,686.0 L128.4,685.4 L128.7,685.8 L129.0,685.9 L129.3,684.9 L129.6,684.5 L129.9,678.1 L130.2,671.3 L130.5,664.9 L130.8,664.1 L131.1,669.0 L131.4,677.1 L131.7,682.7 L132.0,685.5 L132.3,684.5 L132.6,685.2 L132.9,686.4 L133.2,686.3 L133.5,684.9 L133.8,686.3 L134.1,685.8 L134.4,685.6 L134.7,686.1 L135.0,685.9 L135.3,686.5 L135.6,684.9 L135.9,685.2 L136.2,685.2 L136.5,684.0 L136.8,679.5 L137.1,667.9 L137.4,656.8 L137.7,647.8 L138.0,639.9 L138.3,638.9 L138.6,644.1 L138.9,653.5 L139.2,659.4 L139.5,665.8 L139.8,669.2 L140.1,671.3 L140.4,669.1 L140.7,669.9 L141.0,669.3 L141.3,669.9 L141.6,670.7 L141.9,671.1 L142.2,672.3 L142.5,673.8 L142.8,676.4 L143.1,678.0 L143.4,678.8 L143.7,679.1 L144.0,679.4 L144.3,680.4 L144.6,680.5 L144.9,681.1 L145.2,683.1 L145.5,682.8 L145.8,683.6 L146.1,683.7 L146.4,685.0 L146.7,685.5 L147.0,684.6 L147.3,685.2 L147.6,685.4 L147.9,686.8 L148.2,687.0 L148.5,686.3 L148.8,687.9 L149.1,686.7 L149.4,686.0 L149.7,685.6 L150.0,686.5 L150.3,686.7 L150.6,686.1 L150.9,686.5 L151.2,686.8 L151.5,686.0 L151.8,686.3 L152.1,686.5 L152.4,685.7 L152.7,684.9 L153.0,685.2 L153.3,685.0 L153.6,685.6 L153.9,684.0 L154.2,683.1 L154.5,683.9 L154.8,683.6 L155.1,683.0 L155.4,683.3 L155.7,682.8 L156.0,683.0 L156.3,681.6 L156.6,681.3 L156.9,681.3 L157.2,680.7 L157.5,681.2 L157.8,680.4 L158.1,679.6 L158.4,680.0 L158.7,678.9 L159.0,678.6 L159.3,677.9 L159.6,676.7 L159.9,676.0 L160.2,675.3 L160.5,673.9 L160.8,673.5 L161.1,673.2 L161.4,672.0 L161.7,670.4 L162.0,671.3 L162.3,668.5 L162.6,668.3 L162.9,667.3 L163.2,666.4 L163.5,664.0 L163.8,663.2 L164.1,661.8 L164.4,661.1 L164.7,659.2 L165.0,657.6 L165.3,655.9 L165.6,654.9 L165.9,652.3 L166.2,650.5 L166.5,647.5 L166.8,646.1 L167.1,642.2 L167.4,640.6 L167.7,637.8 L168.0,635.7 L168.3,635.3 L168.6,637.1 L168.9,639.5 L169.2,641.9 L169.5,644.9 L169.8,647.9 L170.1,651.3 L170.4,655.4 L170.7,659.5 L171.0,663.8 L171.3,667.2 L171.6,670.6 L171.9,675.6 L172.2,678.6 L172.5,679.9 L172.8,681.9 L173.1,682.2 L173.4,683.0 L173.7,683.8 L174.0,685.8 L174.3,685.4 L174.6,685.8 L174.9,685.9 L175.2,685.9 L175.5,686.6 L175.8,686.9 L176.1,687.7 L176.4,686.3 L176.7,687.6 L177.0,687.1 L177.3,685.7 L177.6,687.1 L177.9,687.3 L178.2,686.8 L178.5,686.0 L178.8,685.7 L179.1,683.2 L179.4,681.8 L179.7,678.3 L180.0,674.1 L180.3,671.9 L180.6,669.8 L180.9,671.8 L181.2,672.3 L181.5,676.0 L181.8,679.1 L182.1,683.3 L182.4,685.4 L182.7,685.6 L183.0,685.4 L183.3,686.3 L183.6,686.0 L183.9,686.6 L184.2,685.9 L184.5,685.1 L184.8,686.0 L185.1,685.5 L185.4,686.5 L185.7,685.7 L186.0,685.9 L186.3,686.0 L186.6,685.2 L186.9,685.8 L187.2,686.5 L187.5,685.7 L187.8,685.9 L188.1,686.1 L188.4,685.6 L188.7,685.8 L189.0,686.2 L189.3,685.7 L189.6,685.9 L189.9,685.8 L190.2,685.3 L190.5,685.2 L190.8,686.9 L191.1,686.6 L191.4,685.8 L191.7,686.3 L192.0,686.4 L192.3,686.3 L192.6,685.5 L192.9,684.9 L193.2,685.0 L193.5,685.5 L193.8,686.4 L194.1,686.5 L194.4,685.4 L194.7,685.4 L195.0,686.2 L195.3,686.6 L195.6,684.9 L195.9,685.5 L196.2,685.2 L196.5,684.8 L196.8,684.5 L197.1,684.3 L197.4,684.1 L197.7,683.0 L198.0,683.4 L198.3,683.4 L198.6,682.2 L198.9,679.8 L199.2,676.5 L199.5,673.3 L199.8,671.5 L200.1,668.6 L200.4,668.5 L200.7,670.4 L201.0,672.2 L201.3,674.5 L201.6,678.0 L201.9,680.7 L202.2,682.6 L202.5,683.2 L202.8,684.5 L203.1,684.8 L203.4,685.1 L203.7,685.0 L204.0,686.1 L204.3,686.3 L204.6,687.1 L204.9,685.7 L205.2,686.0 L205.5,686.8 L205.8,685.5 L206.1,686.3 L206.4,686.3 L206.7,686.3 L207.0,685.7 L207.3,686.3 L207.6,685.5 L207.9,687.0 L208.2,686.1 L208.5,686.5 L208.8,686.4 L209.1,686.5 L209.4,686.5 L209.7,686.7 L210.0,686.3 L210.3,686.5 L210.6,685.9 L210.9,686.0 L211.2,686.1 L211.5,686.0 L211.8,685.8 L212.1,686.3 L212.4,687.0 L212.7,686.9 L213.0,686.4 L213.3,686.8 L213.6,686.9 L213.9,688.1 L214.2,685.8 L214.5,686.8 L214.8,686.0 L215.1,687.4 L215.4,686.6 L215.7,686.9 L216.0,686.8 L216.3,687.1 L216.6,685.1 L216.9,686.1 L217.2,686.8 L217.5,686.0 L217.8,687.0 L218.1,687.4 L218.4,686.0 L218.7,686.5 L219.0,687.1 L219.3,687.7 L219.6,687.2 L219.9,687.1 L220.2,686.2 L220.5,686.7 L220.8,686.7 L221.1,686.3 L221.4,686.9 L221.7,686.4 L222.0,686.4 L222.3,687.7 L222.6,686.5 L222.9,687.6 L223.2,686.3 L223.5,686.5 L223.8,685.8 L224.1,686.2 L224.4,687.3 L224.7,686.4 L225.0,685.3 L225.3,687.2 L225.6,685.9 L225.9,686.1 L226.2,686.3 L226.5,685.3 L226.8,687.1 L227.1,687.0 L227.4,686.1 L227.7,686.4 L228.0,686.1 L228.3,685.9 L228.6,686.0 L228.9,685.4 L229.2,685.9 L229.5,685.8 L229.8,687.1 L230.1,685.2 L230.4,686.7 L230.7,686.4 L231.0,686.0 L231.3,685.6 L231.6,686.9 L231.9,686.7 L232.2,685.8 L232.5,685.7 L232.8,685.9 L233.1,686.7 L233.4,685.2 L233.7,685.7 L234.0,686.3 L234.3,684.8 L234.6,685.5 L234.9,686.2 L235.2,685.3 L235.5,685.4 L235.8,684.6 L236.1,685.6 L236.4,684.7 L236.7,685.2 L237.0,685.5 L237.3,685.0 L237.6,685.8 L237.9,685.6 L238.2,685.5 L238.5,685.7 L238.8,685.1 L239.1,684.0 L239.4,685.6 L239.7,685.5 L240.0,684.8 L240.3,684.6 L240.6,685.7 L240.9,684.8 L241.2,684.8 L241.5,684.8 L241.8,686.3 L242.1,684.6 L242.4,683.6 L242.7,684.9 L243.0,684.4 L243.3,684.0 L243.6,685.0 L243.9,684.7 L244.2,685.4 L244.5,684.8 L244.8,685.6 L245.1,685.5 L245.4,685.0 L245.7,685.4 L246.0,685.9 L246.3,685.3 L246.6,684.2 L246.9,685.0 L247.2,685.1 L247.5,685.7 L247.8,684.9 L248.1,685.6 L248.4,684.9 L248.7,685.0 L249.0,684.9 L249.3,685.0 L249.6,685.0 L249.9,685.2 L250.2,684.6 L250.5,684.5 L250.8,685.0 L251.1,685.1 L251.4,684.8 L251.7,685.3 L252.0,685.3 L252.3,686.0 L252.6,684.3 L252.9,686.2 L253.2,683.8 L253.5,684.1 L253.8,685.3 L254.1,684.6 L254.4,685.0 L254.7,684.9 L255.0,684.4 L255.3,684.4 L255.6,684.9 L255.9,685.3 L256.2,685.5 L256.5,685.2 L256.8,685.0 L257.1,685.8 L257.4,684.0 L257.7,685.2 L258.0,685.9 L258.3,686.1 L258.6,685.8 L258.9,685.9 L259.2,685.7 L259.5,685.3 L259.8,684.0 L260.1,684.9 L260.4,685.0 L260.7,686.0 L261.0,684.9 L261.3,684.9 L261.6,685.4 L261.9,684.5 L262.2,684.9 L262.5,685.1 L262.8,684.6 L263.1,684.6 L263.4,683.6 L263.7,683.8 L264.0,684.2 L264.3,684.8 L264.6,683.8 L264.9,683.5 L265.2,683.4 L265.5,684.1 L265.8,682.8 L266.1,683.5 L266.4,683.1 L266.7,683.2 L267.0,682.6 L267.3,682.9 L267.6,683.5 L267.9,682.4 L268.2,682.2 L268.5,680.9 L268.8,682.4 L269.1,681.6 L269.4,681.9 L269.7,681.6 L270.0,680.8 L270.3,680.6 L270.6,680.0 L270.9,681.5 L271.2,680.7 L271.5,680.3 L271.8,680.2 L272.1,680.1 L272.4,679.5 L272.7,679.4 L273.0,679.9 L273.3,677.4 L273.6,678.2 L273.9,677.6 L274.2,677.8 L274.5,676.3 L274.8,677.0 L275.1,677.9 L275.4,676.8 L275.7,677.8 L276.0,677.3 L276.3,678.1 L276.6,677.9 L276.9,679.1 L277.2,679.3 L277.5,681.2 L277.8,680.7 L278.1,682.4 L278.4,682.5 L278.7,683.2 L279.0,684.5 L279.3,684.0 L279.6,684.2 L279.9,685.0 L280.2,685.8 L280.5,685.4 L280.8,687.0 L281.1,686.4 L281.4,686.3 L281.7,686.3 L282.0,686.7 L282.3,687.2 L282.6,687.6 L282.9,687.2 L283.2,686.9 L283.5,687.3 L283.8,686.2 L284.1,688.1 L284.4,688.0 L284.7,687.5 L285.0,688.1 L285.3,687.2 L285.6,688.8 L285.9,687.9 L286.2,687.8 L286.5,689.2 L286.8,687.6 L287.1,688.4 L287.4,687.8 L287.7,688.0 L288.0,688.2 L288.3,688.1 L288.6,689.2 L288.9,689.0 L289.2,688.1 L289.5,689.8 L289.8,688.4 L290.1,688.4 L290.4,688.7 L290.7,687.8 L291.0,689.1 L291.3,687.8 L291.6,687.6 L291.9,688.8 L292.2,687.6 L292.5,687.9 L292.8,687.2 L293.1,687.5 L293.4,687.7 L293.7,686.2 L294.0,687.4 L294.3,686.8 L294.6,687.9 L294.9,688.1 L295.2,687.1 L295.5,687.0 L295.8,687.1 L296.1,687.0 L296.4,685.5 L296.7,685.4 L297.0,685.7 L297.3,685.1 L297.6,685.5 L297.9,685.6 L298.2,685.0 L298.5,685.5 L298.8,685.9 L299.1,685.1 L299.4,685.2 L299.7,684.8 L300.0,684.7 L300.3,684.4 L300.6,683.9 L300.9,684.8 L301.2,685.0 L301.5,684.2 L301.8,684.2 L302.1,683.3 L302.4,683.8 L302.7,684.0 L303.0,683.7 L303.3,683.7 L303.6,683.0 L303.9,682.8 L304.2,683.2 L304.5,684.1 L304.8,683.0 L305.1,682.3 L305.4,682.6 L305.7,682.8 L306.0,683.5 L306.3,683.3 L306.6,682.2 L306.9,682.0 L307.2,682.3 L307.5,682.4 L307.8,681.7 L308.1,682.7 L308.4,681.9 L308.7,682.2 L309.0,681.9 L309.3,682.2 L309.6,681.8 L309.9,681.9 L310.2,682.4 L310.5,681.8 L310.8,682.4 L311.1,680.9 L311.4,681.4 L311.7,680.9 L312.0,680.6 L312.3,681.4 L312.6,682.4 L312.9,681.5 L313.2,681.8 L313.5,680.3 L313.8,681.4 L314.1,680.6 L314.4,681.4 L314.7,681.8 L315.0,681.0 L315.3,681.9 L315.6,680.9 L315.9,681.4 L316.2,681.0 L316.5,681.4 L316.8,681.3 L317.1,680.2 L317.4,681.2 L317.7,681.2 L318.0,682.4 L318.3,680.2 L318.6,681.6 L318.9,682.0 L319.2,682.7 L319.5,682.4 L319.8,681.7 L320.1,682.5 L320.4,681.7 L320.7,681.8 L321.0,681.7 L321.3,681.8 L321.6,682.8 L321.9,681.2 L322.2,681.3 L322.5,682.7 L322.8,682.5 L323.1,682.7 L323.4,682.2 L323.7,682.7 L324.0,682.3 L324.3,682.2 L324.6,682.3 L324.9,682.7 L325.2,682.7 L325.5,682.5 L325.8,683.6 L326.1,683.0 L326.4,682.7 L326.7,682.2 L327.0,682.9 L327.3,682.1 L327.6,682.6 L327.9,682.5 L328.2,682.7 L328.5,683.4 L328.8,681.6 L329.1,684.2 L329.4,683.7 L329.7,683.3 L330.0,683.3 L330.3,684.1 L330.6,683.7 L330.9,684.8 L331.2,683.9 L331.5,683.6 L331.8,683.4 L332.1,684.2 L332.4,684.9 L332.7,683.8 L333.0,685.2 L333.3,685.1 L333.6,684.5 L333.9,685.5 L334.2,683.9 L334.5,683.8 L334.8,685.2 L335.1,685.4 L335.4,685.4 L335.7,685.3 L336.0,684.6 L336.3,685.7 L336.6,685.3 L336.9,686.1 L337.2,685.8 L337.5,685.1 L337.8,686.1 L338.1,686.3 L338.4,686.3 L338.7,685.5 L339.0,685.4 L339.3,686.4 L339.6,686.0 L339.9,686.0 L340.2,686.6 L340.5,686.6 L340.8,686.3 L341.1,685.9 L341.4,686.7 L341.7,685.2 L342.0,685.5 L342.3,685.4 L342.6,684.1 L342.9,684.1 L343.2,684.6 L343.5,683.7 L343.8,682.7 L344.1,683.8 L344.4,682.7 L344.7,682.3 L345.0,682.9 L345.3,680.8 L345.6,681.0 L345.9,680.4 L346.2,681.4 L346.5,679.9 L346.8,681.3 L347.1,680.0 L347.4,679.6 L347.7,679.6 L348.0,678.6 L348.3,677.9 L348.6,677.8 L348.9,677.8 L349.2,676.9 L349.5,677.2 L349.8,676.4 L350.1,676.3 L350.4,676.1 L350.7,676.6 L351.0,676.6 L351.3,676.0 L351.6,674.5 L351.9,673.8 L352.2,674.4 L352.5,674.1 L352.8,673.5 L353.1,672.3 L353.4,672.4 L353.7,671.8 L354.0,672.2 L354.3,671.8 L354.6,671.2 L354.9,670.6 L355.2,671.6 L355.5,670.6 L355.8,670.8 L356.1,670.5 L356.4,670.4 L356.7,670.5 L357.0,669.5 L357.3,669.3 L357.6,669.7 L357.9,667.4 L358.2,669.0 L358.5,668.7 L358.8,669.2 L359.1,668.9 L359.4,668.5 L359.7,667.9 L360.0,668.4 L360.3,668.2 L360.6,668.4 L360.9,668.5 L361.2,667.9 L361.5,668.6 L361.8,668.2 L362.1,669.0 L362.4,669.4 L362.7,670.4 L363.0,670.2 L363.3,671.6 L363.6,671.1 L363.9,671.4 L364.2,672.7 L364.5,672.3 L364.8,673.8 L365.1,674.6 L365.4,675.2 L365.7,676.2 L366.0,676.8 L366.3,678.2 L366.6,678.3 L366.9,678.0 L367.2,679.6 L367.5,680.9 L367.8,681.5 L368.1,681.8 L368.4,681.9 L368.7,681.7 L369.0,683.4 L369.3,682.5 L369.6,682.6 L369.9,682.2 L370.2,684.9 L370.5,684.1 L370.8,683.4 L371.1,685.1 L371.4,685.3 L371.7,684.3 L372.0,685.8 L372.3,685.6 L372.6,686.2 L372.9,686.8 L373.2,686.0 L373.5,687.5 L373.8,686.4 L374.1,686.2 L374.4,687.3 L374.7,686.3 L375.0,686.5 L375.3,687.2 L375.6,686.2 L375.9,686.0 L376.2,686.9 L376.5,686.7 L376.8,686.4 L377.1,687.3 L377.4,686.1 L377.7,687.2 L378.0,686.2 L378.3,687.0 L378.6,686.1 L378.9,687.1 L379.2,686.8 L379.5,686.6 L379.8,686.8 L380.1,686.7 L380.4,687.3 L380.7,686.5 L381.0,687.1 L381.3,686.7 L381.6,686.5 L381.9,686.6 L382.2,686.2 L382.5,687.0 L382.8,686.9 L383.1,687.0 L383.4,686.0 L383.7,686.6 L384.0,687.7 L384.3,687.5 L384.6,686.8 L384.9,686.9 L385.2,687.0 L385.5,687.5 L385.8,687.7 L386.1,687.1 L386.4,687.0 L386.7,686.9 L387.0,687.1 L387.3,687.9 L387.6,686.6 L387.9,687.3 L388.2,686.3 L388.5,686.3 L388.8,686.0 L389.1,686.6 L389.4,687.7 L389.7,687.8 L390.0,687.4 L390.3,686.9 L390.6,687.5 L390.9,686.3 L391.2,686.1 L391.5,686.4 L391.8,686.8 L392.1,685.9 L392.4,686.5 L392.7,687.8 L393.0,686.8 L393.3,686.7 L393.6,686.6 L393.9,687.3 L394.2,687.3 L394.5,687.0 L394.8,686.8 L395.1,685.7 L395.4,686.1 L395.7,686.7 L396.0,686.6 L396.3,686.7 L396.6,686.6 L396.9,687.9 L397.2,687.5 L397.5,686.3 L397.8,687.3 L398.1,687.1 L398.4,686.9 L398.7,686.7 L399.0,687.1 L399.3,687.9 L399.6,686.6 L399.9,686.8 L400.2,686.8 L400.5,686.0 L400.8,686.9 L401.1,686.4 L401.4,687.0 L401.7,687.1 L402.0,687.9 L402.3,686.8 L402.6,686.7 L402.9,687.3 L403.2,688.0 L403.5,687.0 L403.8,687.2 L404.1,687.2 L404.4,687.2 L404.7,686.6 L405.0,686.5 L405.3,686.6 L405.6,686.7 L405.9,687.1 L406.2,686.5 L406.5,686.5 L406.8,686.9 L407.1,686.8 L407.4,687.0 L407.7,686.2 L408.0,687.9 L408.3,686.8 L408.6,686.8 L408.9,686.5 L409.2,687.2 L409.5,687.5 L409.8,686.9 L410.1,686.9 L410.4,686.8 L410.7,688.1 L411.0,687.2 L411.3,686.7 L411.6,687.0 L411.9,687.5 L412.2,687.0 L412.5,687.1 L412.8,687.0 L413.1,686.8 L413.4,687.2 L413.7,687.8 L414.0,687.2 L414.3,686.8 L414.6,686.5 L414.9,686.9 L415.2,686.6 L415.5,686.5 L415.8,687.3 L416.1,687.1 L416.4,687.5 L416.7,687.2 L417.0,686.7 L417.3,687.4 L417.6,687.2 L417.9,687.7 L418.2,686.4 L418.5,686.8 L418.8,687.0 L419.1,687.8 L419.4,687.2 L419.7,686.4 L420.0,686.5 L420.3,687.2 L420.6,686.1 L420.9,686.6 L421.2,686.9 L421.5,686.8 L421.8,687.1 L422.1,687.4 L422.4,687.1 L422.7,686.3 L423.0,687.7 L423.3,687.5 L423.6,686.5 L423.9,686.8 L424.2,686.2 L424.5,687.7 L424.8,686.7 L425.1,687.2 L425.4,687.2 L425.7,687.6 L426.0,687.0 L426.3,686.8 L426.6,687.3 L426.9,687.5 L427.2,686.7 L427.5,686.9 L427.8,686.2 L428.1,687.7 L428.4,686.6 L428.7,687.5 L429.0,687.4 L429.3,687.4 L429.6,687.5 L429.9,686.6 L430.2,687.1 L430.5,686.6 L430.8,686.9 L431.1,686.6 L431.4,688.2 L431.7,687.1 L432.0,687.5 L432.3,686.6 L432.6,687.9 L432.9,687.0 L433.2,686.9 L433.5,686.9 L433.8,686.2 L434.1,685.9 L434.4,687.1" fill="none" stroke="#1c621c" stroke-width="1.8" stroke-linejoin="round" clip-path="url(#cb)" />
<path d="M88.5,757.3 L88.8,757.4 L89.1,757.5 L89.4,757.4 L89.7,757.6 L90.0,757.6 L90.3,757.2 L90.6,757.6 L90.9,757.4 L91.2,757.8 L91.5,757.5 L91.8,757.3 L92.1,757.4 L92.4,757.4 L92.7,757.5 L93.0,757.6 L93.3,757.5 L93.6,757.6 L93.9,757.5 L94.2,757.3 L94.5,757.1 L94.8,757.1 L95.1,757.4 L95.4,757.4 L95.7,757.6 L96.0,757.2 L96.3,757.3 L96.6,757.2 L96.9,757.2 L97.2,757.0 L97.5,757.4 L97.8,757.2 L98.1,757.3 L98.4,757.3 L98.7,757.3 L99.0,757.1 L99.3,757.5 L99.6,757.4 L99.9,757.3 L100.2,757.1 L100.5,757.0 L100.8,757.0 L101.1,757.2 L101.4,757.2 L101.7,757.1 L102.0,757.5 L102.3,757.2 L102.6,757.3 L102.9,757.3 L103.2,757.0 L103.5,757.3 L103.8,757.2 L104.1,757.0 L104.4,757.2 L104.7,757.3 L105.0,757.3 L105.3,757.3 L105.6,756.9 L105.9,757.1 L106.2,757.0 L106.5,757.1 L106.8,757.1 L107.1,757.3 L107.4,757.2 L107.7,756.9 L108.0,757.2 L108.3,757.3 L108.6,757.1 L108.9,756.8 L109.2,756.9 L109.5,757.0 L109.8,756.8 L110.1,757.0 L110.4,756.8 L110.7,757.1 L111.0,757.1 L111.3,757.0 L111.6,756.8 L111.9,757.0 L112.2,756.9 L112.5,756.9 L112.8,757.1 L113.1,756.8 L113.4,756.8 L113.7,757.1 L114.0,757.2 L114.3,757.2 L114.6,757.1 L114.9,757.3 L115.2,756.9 L115.5,757.3 L115.8,757.2 L116.1,756.9 L116.4,757.0 L116.7,756.7 L117.0,756.8 L117.3,757.0 L117.6,756.7 L117.9,756.9 L118.2,757.0 L118.5,756.9 L118.8,757.0 L119.1,757.2 L119.4,756.9 L119.7,757.0 L120.0,757.1 L120.3,756.8 L120.6,756.8 L120.9,756.5 L121.2,756.9 L121.5,757.0 L121.8,756.9 L122.1,757.2 L122.4,757.1 L122.7,756.9 L123.0,756.8 L123.3,756.7 L123.6,756.8 L123.9,756.9 L124.2,756.8 L124.5,756.7 L124.8,756.7 L125.1,756.8 L125.4,756.5 L125.7,756.7 L126.0,756.7 L126.3,756.8 L126.6,756.8 L126.9,756.6 L127.2,756.5 L127.5,756.3 L127.8,756.5 L128.1,756.3 L128.4,756.1 L128.7,755.2 L129.0,752.4 L129.3,749.0 L129.6,745.0 L129.9,740.5 L130.2,735.3 L130.5,730.7 L130.8,730.1 L131.1,733.6 L131.4,738.8 L131.7,743.6 L132.0,747.3 L132.3,750.9 L132.6,754.0 L132.9,755.9 L133.2,756.0 L133.5,756.2 L133.8,756.1 L134.1,756.2 L134.4,755.9 L134.7,756.1 L135.0,755.8 L135.3,755.3 L135.6,754.1 L135.9,752.4 L136.2,749.7 L136.5,746.2 L136.8,742.9 L137.1,738.1 L137.4,727.3 L137.7,718.0 L138.0,712.9 L138.3,709.0 L138.6,709.0 L138.9,712.2 L139.2,718.0 L139.5,725.0 L139.8,734.9 L140.1,742.3 L140.4,743.8 L140.7,744.0 L141.0,744.3 L141.3,744.9 L141.6,746.5 L141.9,748.4 L142.2,750.5 L142.5,752.0 L142.8,752.3 L143.1,752.8 L143.4,753.3 L143.7,753.7 L144.0,754.2 L144.3,754.9 L144.6,755.1 L144.9,755.4 L145.2,755.7 L145.5,756.3 L145.8,756.5 L146.1,756.4 L146.4,756.8 L146.7,756.7 L147.0,756.6 L147.3,756.3 L147.6,756.5 L147.9,756.6 L148.2,756.2 L148.5,756.5 L148.8,756.5 L149.1,756.2 L149.4,756.6 L149.7,756.8 L150.0,756.6 L150.3,756.4 L150.6,756.5 L150.9,756.7 L151.2,756.4 L151.5,756.6 L151.8,756.5 L152.1,756.5 L152.4,756.7 L152.7,756.3 L153.0,756.7 L153.3,756.5 L153.6,756.5 L153.9,756.2 L154.2,756.5 L154.5,756.4 L154.8,756.1 L155.1,756.3 L155.4,756.3 L155.7,756.3 L156.0,756.4 L156.3,756.4 L156.6,756.7 L156.9,756.7 L157.2,756.5 L157.5,756.7 L157.8,756.8 L158.1,756.6 L158.4,756.3 L158.7,756.6 L159.0,756.7 L159.3,756.3 L159.6,756.5 L159.9,756.6 L160.2,756.7 L160.5,756.6 L160.8,756.6 L161.1,756.5 L161.4,756.4 L161.7,756.6 L162.0,756.6 L162.3,756.4 L162.6,756.3 L162.9,756.6 L163.2,756.5 L163.5,756.3 L163.8,756.1 L164.1,756.3 L164.4,756.4 L164.7,756.4 L165.0,756.3 L165.3,755.9 L165.6,756.1 L165.9,756.0 L166.2,755.6 L166.5,754.8 L166.8,752.8 L167.1,751.7 L167.4,750.5 L167.7,749.7 L168.0,749.4 L168.3,749.6 L168.6,750.5 L168.9,751.6 L169.2,752.7 L169.5,754.4 L169.8,755.7 L170.1,756.0 L170.4,756.0 L170.7,755.8 L171.0,756.1 L171.3,756.1 L171.6,756.3 L171.9,756.0 L172.2,755.9 L172.5,755.8 L172.8,756.0 L173.1,756.1 L173.4,756.2 L173.7,755.9 L174.0,756.1 L174.3,756.3 L174.6,756.2 L174.9,756.1 L175.2,756.1 L175.5,756.0 L175.8,756.0 L176.1,756.1 L176.4,756.4 L176.7,756.4 L177.0,756.2 L177.3,756.2 L177.6,755.9 L177.9,755.5 L178.2,754.6 L178.5,754.1 L178.8,753.4 L179.1,752.1 L179.4,751.0 L179.7,748.4 L180.0,745.4 L180.3,742.6 L180.6,741.0 L180.9,741.4 L181.2,743.5 L181.5,746.3 L181.8,749.6 L182.1,751.5 L182.4,752.7 L182.7,753.7 L183.0,754.4 L183.3,755.0 L183.6,755.5 L183.9,756.2 L184.2,755.9 L184.5,755.8 L184.8,756.3 L185.1,756.1 L185.4,756.0 L185.7,755.8 L186.0,756.0 L186.3,755.9 L186.6,756.0 L186.9,756.0 L187.2,755.9 L187.5,756.0 L187.8,755.8 L188.1,755.9 L188.4,755.8 L188.7,756.0 L189.0,756.0 L189.3,756.0 L189.6,755.6 L189.9,756.2 L190.2,755.9 L190.5,755.9 L190.8,755.9 L191.1,755.8 L191.4,756.0 L191.7,755.8 L192.0,755.9 L192.3,755.9 L192.6,756.0 L192.9,755.6 L193.2,755.6 L193.5,755.4 L193.8,755.4 L194.1,755.7 L194.4,755.7 L194.7,755.6 L195.0,755.6 L195.3,755.6 L195.6,755.7 L195.9,755.8 L196.2,755.3 L196.5,755.3 L196.8,754.5 L197.1,753.4 L197.4,752.5 L197.7,751.3 L198.0,749.9 L198.3,748.9 L198.6,747.3 L198.9,745.4 L199.2,742.6 L199.5,740.0 L199.8,737.8 L200.1,736.2 L200.4,735.8 L200.7,737.1 L201.0,739.3 L201.3,742.1 L201.6,744.5 L201.9,747.1 L202.2,748.4 L202.5,749.5 L202.8,750.8 L203.1,751.8 L203.4,752.7 L203.7,753.4 L204.0,753.7 L204.3,754.4 L204.6,754.6 L204.9,754.6 L205.2,755.0 L205.5,754.9 L205.8,755.2 L206.1,755.2 L206.4,755.0 L206.7,755.0 L207.0,755.1 L207.3,755.2 L207.6,755.4 L207.9,755.2 L208.2,755.2 L208.5,755.7 L208.8,755.4 L209.1,755.5 L209.4,755.7 L209.7,755.5 L210.0,755.2 L210.3,755.6 L210.6,755.5 L210.9,755.7 L211.2,755.3 L211.5,755.6 L211.8,755.7 L212.1,755.8 L212.4,755.8 L212.7,755.8 L213.0,755.7 L213.3,755.7 L213.6,755.5 L213.9,755.8 L214.2,755.9 L214.5,755.8 L214.8,755.6 L215.1,755.5 L215.4,755.7 L215.7,756.0 L216.0,755.8 L216.3,755.6 L216.6,755.7 L216.9,755.9 L217.2,755.7 L217.5,755.7 L217.8,755.7 L218.1,755.7 L218.4,756.1 L218.7,755.7 L219.0,755.9 L219.3,756.0 L219.6,755.8 L219.9,755.8 L220.2,755.8 L220.5,755.9 L220.8,755.9 L221.1,755.8 L221.4,755.8 L221.7,755.9 L222.0,756.2 L222.3,755.9 L222.6,756.0 L222.9,755.9 L223.2,755.8 L223.5,755.8 L223.8,756.0 L224.1,755.8 L224.4,756.0 L224.7,755.9 L225.0,756.2 L225.3,755.8 L225.6,756.2 L225.9,756.2 L226.2,756.1 L226.5,755.9 L226.8,756.1 L227.1,756.0 L227.4,756.0 L227.7,756.2 L228.0,756.0 L228.3,756.1 L228.6,756.2 L228.9,756.0 L229.2,756.0 L229.5,756.1 L229.8,756.0 L230.1,755.7 L230.4,756.0 L230.7,756.1 L231.0,755.9 L231.3,755.8 L231.6,756.2 L231.9,756.0 L232.2,756.2 L232.5,756.2 L232.8,756.4 L233.1,756.2 L233.4,756.3 L233.7,756.4 L234.0,756.1 L234.3,756.3 L234.6,756.3 L234.9,755.9 L235.2,756.0 L235.5,756.2 L235.8,756.4 L236.1,756.1 L236.4,756.0 L236.7,756.0 L237.0,756.2 L237.3,756.2 L237.6,756.1 L237.9,756.2 L238.2,756.2 L238.5,756.4 L238.8,756.0 L239.1,756.1 L239.4,756.4 L239.7,756.1 L240.0,756.1 L240.3,756.2 L240.6,756.5 L240.9,756.3 L241.2,756.4 L241.5,756.1 L241.8,756.2 L242.1,756.3 L242.4,756.3 L242.7,756.2 L243.0,755.9 L243.3,756.3 L243.6,756.4 L243.9,756.3 L244.2,756.0 L244.5,756.0 L244.8,756.2 L245.1,756.1 L245.4,756.4 L245.7,756.1 L246.0,756.2 L246.3,756.1 L246.6,756.0 L246.9,756.4 L247.2,756.3 L247.5,756.1 L247.8,756.3 L248.1,755.9 L248.4,756.5 L248.7,756.1 L249.0,756.0 L249.3,756.1 L249.6,756.3 L249.9,756.2 L250.2,756.3 L250.5,756.3 L250.8,756.2 L251.1,756.4 L251.4,756.0 L251.7,756.3 L252.0,756.3 L252.3,756.3 L252.6,756.2 L252.9,756.1 L253.2,756.1 L253.5,755.9 L253.8,756.1 L254.1,756.4 L254.4,756.4 L254.7,756.1 L255.0,756.1 L255.3,756.1 L255.6,756.1 L255.9,756.2 L256.2,756.2 L256.5,756.4 L256.8,755.8 L257.1,756.0 L257.4,756.1 L257.7,756.1 L258.0,756.2 L258.3,756.4 L258.6,756.0 L258.9,756.2 L259.2,756.1 L259.5,756.1 L259.8,756.1 L260.1,756.2 L260.4,756.1 L260.7,755.9 L261.0,756.1 L261.3,756.1 L261.6,755.8 L261.9,756.1 L262.2,756.0 L262.5,756.0 L262.8,756.0 L263.1,756.3 L263.4,755.7 L263.7,756.0 L264.0,755.7 L264.3,756.0 L264.6,756.1 L264.9,755.7 L265.2,756.1 L265.5,756.0 L265.8,755.9 L266.1,755.9 L266.4,755.9 L266.7,755.9 L267.0,755.9 L267.3,756.0 L267.6,756.0 L267.9,755.7 L268.2,756.0 L268.5,756.1 L268.8,756.1 L269.1,755.9 L269.4,755.6 L269.7,755.7 L270.0,755.8 L270.3,755.8 L270.6,755.6 L270.9,755.9 L271.2,755.9 L271.5,755.6 L271.8,755.6 L272.1,755.6 L272.4,755.7 L272.7,755.9 L273.0,755.4 L273.3,755.9 L273.6,755.9 L273.9,755.5 L274.2,755.9 L274.5,755.9 L274.8,755.8 L275.1,755.7 L275.4,755.5 L275.7,755.7 L276.0,755.5 L276.3,755.6 L276.6,755.8 L276.9,755.6 L277.2,755.5 L277.5,755.7 L277.8,755.7 L278.1,755.7 L278.4,755.5 L278.7,755.8 L279.0,755.8 L279.3,755.5 L279.6,755.6 L279.9,755.3 L280.2,755.5 L280.5,755.3 L280.8,755.5 L281.1,755.4 L281.4,755.1 L281.7,755.6 L282.0,755.3 L282.3,755.6 L282.6,755.7 L282.9,755.5 L283.2,755.4 L283.5,755.5 L283.8,755.2 L284.1,755.4 L284.4,755.5 L284.7,755.5 L285.0,755.2 L285.3,755.6 L285.6,755.4 L285.9,755.2 L286.2,755.4 L286.5,755.2 L286.8,755.2 L287.1,755.3 L287.4,755.6 L287.7,755.7 L288.0,755.1 L288.3,755.3 L288.6,755.2 L288.9,755.4 L289.2,755.3 L289.5,755.1 L289.8,755.3 L290.1,755.1 L290.4,755.1 L290.7,755.3 L291.0,755.2 L291.3,755.1 L291.6,755.3 L291.9,755.1 L292.2,755.0 L292.5,755.1 L292.8,755.2 L293.1,755.0 L293.4,755.3 L293.7,755.1 L294.0,755.1 L294.3,755.2 L294.6,755.1 L294.9,755.0 L295.2,755.0 L295.5,755.2 L295.8,755.2 L296.1,755.1 L296.4,754.9 L296.7,754.9 L297.0,754.9 L297.3,754.9 L297.6,755.0 L297.9,755.0 L298.2,754.8 L298.5,755.0 L298.8,754.8 L299.1,754.9 L299.4,754.8 L299.7,755.1 L300.0,754.9 L300.3,754.9 L300.6,755.0 L300.9,755.0 L301.2,754.7 L301.5,754.9 L301.8,754.7 L302.1,754.7 L302.4,754.7 L302.7,754.6 L303.0,754.6 L303.3,754.8 L303.6,754.8 L303.9,754.8 L304.2,754.7 L304.5,754.7 L304.8,754.7 L305.1,754.6 L305.4,754.6 L305.7,754.7 L306.0,754.5 L306.3,754.5 L306.6,754.4 L306.9,754.6 L307.2,754.5 L307.5,754.6 L307.8,754.6 L308.1,754.4 L308.4,754.6 L308.7,754.6 L309.0,754.5 L309.3,754.2 L309.6,754.7 L309.9,754.6 L310.2,754.6 L310.5,754.7 L310.8,754.3 L311.1,754.7 L311.4,754.4 L311.7,754.6 L312.0,754.6 L312.3,754.3 L312.6,754.4 L312.9,754.3 L313.2,754.4 L313.5,754.1 L313.8,754.6 L314.1,754.4 L314.4,754.3 L314.7,754.2 L315.0,754.5 L315.3,754.2 L315.6,754.4 L315.9,754.0 L316.2,754.3 L316.5,753.9 L316.8,754.2 L317.1,754.0 L317.4,754.0 L317.7,754.3 L318.0,754.2 L318.3,754.0 L318.6,754.0 L318.9,754.2 L319.2,753.8 L319.5,754.0 L319.8,753.9 L320.1,754.0 L320.4,754.0 L320.7,753.9 L321.0,753.7 L321.3,753.9 L321.6,754.0 L321.9,753.8 L322.2,754.1 L322.5,753.8 L322.8,753.8 L323.1,754.1 L323.4,753.7 L323.7,753.7 L324.0,753.5 L324.3,753.7 L324.6,753.6 L324.9,753.7 L325.2,753.5 L325.5,753.8 L325.8,753.7 L326.1,753.8 L326.4,753.6 L326.7,753.3 L327.0,753.6 L327.3,753.6 L327.6,753.5 L327.9,753.8 L328.2,753.5 L328.5,753.5 L328.8,753.5 L329.1,753.5 L329.4,753.5 L329.7,753.5 L330.0,753.4 L330.3,753.3 L330.6,753.3 L330.9,753.4 L331.2,753.4 L331.5,753.4 L331.8,753.2 L332.1,753.1 L332.4,753.1 L332.7,753.5 L333.0,753.3 L333.3,753.2 L333.6,753.2 L333.9,753.5 L334.2,753.3 L334.5,753.3 L334.8,753.1 L335.1,753.3 L335.4,753.1 L335.7,753.0 L336.0,753.3 L336.3,753.2 L336.6,753.2 L336.9,752.9 L337.2,753.0 L337.5,752.9 L337.8,753.1 L338.1,753.0 L338.4,753.0 L338.7,752.9 L339.0,753.2 L339.3,752.8 L339.6,753.1 L339.9,753.0 L340.2,753.1 L340.5,752.8 L340.8,753.1 L341.1,752.8 L341.4,753.0 L341.7,752.9 L342.0,753.3 L342.3,752.7 L342.6,752.8 L342.9,752.7 L343.2,752.8 L343.5,752.9 L343.8,752.8 L344.1,752.8 L344.4,752.8 L344.7,752.8 L345.0,752.9 L345.3,753.1 L345.6,752.9 L345.9,752.8 L346.2,752.8 L346.5,752.9 L346.8,753.0 L347.1,752.8 L347.4,753.0 L347.7,752.9 L348.0,752.5 L348.3,753.1 L348.6,752.9 L348.9,752.6 L349.2,752.5 L349.5,752.8 L349.8,752.7 L350.1,752.9 L350.4,752.7 L350.7,753.0 L351.0,752.7 L351.3,752.8 L351.6,752.9 L351.9,752.7 L352.2,752.9 L352.5,752.8 L352.8,752.8 L353.1,752.7 L353.4,752.4 L353.7,752.6 L354.0,753.0 L354.3,752.7 L354.6,752.6 L354.9,752.7 L355.2,752.7 L355.5,753.0 L355.8,752.6 L356.1,752.6 L356.4,752.8 L356.7,752.4 L357.0,752.5 L357.3,752.5 L357.6,752.6 L357.9,752.8 L358.2,752.9 L358.5,752.8 L358.8,753.0 L359.1,752.4 L359.4,752.8 L359.7,752.6 L360.0,752.7 L360.3,752.6 L360.6,752.4 L360.9,752.8 L361.2,752.9 L361.5,752.7 L361.8,752.5 L362.1,752.9 L362.4,752.3 L362.7,752.7 L363.0,752.5 L363.3,752.5 L363.6,752.8 L363.9,752.5 L364.2,752.8 L364.5,752.6 L364.8,752.8 L365.1,752.7 L365.4,752.7 L365.7,752.6 L366.0,752.6 L366.3,752.4 L366.6,752.6 L366.9,752.7 L367.2,752.5 L367.5,752.6 L367.8,752.4 L368.1,752.5 L368.4,752.4 L368.7,752.5 L369.0,752.7 L369.3,752.6 L369.6,752.3 L369.9,752.6 L370.2,752.4 L370.5,752.7 L370.8,752.6 L371.1,752.6 L371.4,752.4 L371.7,752.5 L372.0,752.3 L372.3,752.5 L372.6,752.6 L372.9,752.2 L373.2,752.4 L373.5,752.5 L373.8,752.3 L374.1,752.4 L374.4,752.5 L374.7,752.4 L375.0,752.5 L375.3,752.5 L375.6,752.5 L375.9,752.3 L376.2,752.4 L376.5,752.4 L376.8,752.1 L377.1,752.3 L377.4,752.4 L377.7,752.3 L378.0,752.4 L378.3,752.3 L378.6,752.3 L378.9,752.4 L379.2,752.0 L379.5,752.0 L379.8,752.2 L380.1,752.3 L380.4,752.3 L380.7,752.3 L381.0,752.2 L381.3,752.0 L381.6,752.2 L381.9,752.2 L382.2,752.0 L382.5,751.9 L382.8,752.1 L383.1,752.2 L383.4,752.1 L383.7,752.3 L384.0,752.0 L384.3,752.0 L384.6,752.0 L384.9,752.1 L385.2,752.1 L385.5,752.2 L385.8,752.0 L386.1,751.8 L386.4,751.9 L386.7,752.0 L387.0,752.0 L387.3,752.0 L387.6,751.9 L387.9,751.9 L388.2,751.9 L388.5,751.8 L388.8,751.9 L389.1,752.1 L389.4,751.9 L389.7,751.9 L390.0,751.6 L390.3,751.9 L390.6,751.8 L390.9,752.0 L391.2,751.9 L391.5,752.0 L391.8,751.7 L392.1,751.9 L392.4,751.9 L392.7,751.7 L393.0,751.9 L393.3,751.6 L393.6,751.8 L393.9,751.7 L394.2,751.8 L394.5,751.4 L394.8,751.8 L395.1,751.9 L395.4,751.5 L395.7,751.8 L396.0,751.5 L396.3,751.8 L396.6,751.8 L396.9,751.5 L397.2,751.9 L397.5,751.6 L397.8,751.6 L398.1,751.7 L398.4,751.7 L398.7,751.6 L399.0,751.6 L399.3,751.6 L399.6,751.4 L399.9,751.6 L400.2,751.5 L400.5,751.5 L400.8,751.6 L401.1,751.4 L401.4,751.2 L401.7,751.5 L402.0,751.5 L402.3,751.4 L402.6,751.3 L402.9,751.7 L403.2,751.4 L403.5,751.2 L403.8,751.4 L404.1,751.4 L404.4,751.1 L404.7,751.4 L405.0,751.0 L405.3,751.2 L405.6,751.4 L405.9,751.4 L406.2,751.3 L406.5,751.4 L406.8,751.1 L407.1,751.2 L407.4,751.3 L407.7,751.0 L408.0,751.2 L408.3,751.3 L408.6,751.3 L408.9,751.3 L409.2,751.3 L409.5,751.3 L409.8,751.0 L410.1,751.0 L410.4,751.0 L410.7,750.9 L411.0,751.2 L411.3,751.3 L411.6,751.2 L411.9,751.1 L412.2,751.2 L412.5,751.0 L412.8,751.1 L413.1,751.2 L413.4,750.8 L413.7,750.9 L414.0,751.0 L414.3,751.4 L414.6,751.0 L414.9,751.0 L415.2,751.1 L415.5,750.8 L415.8,750.6 L416.1,750.7 L416.4,750.7 L416.7,751.1 L417.0,750.8 L417.3,750.8 L417.6,750.8 L417.9,750.7 L418.2,750.7 L418.5,750.8 L418.8,750.9 L419.1,750.7 L419.4,750.5 L419.7,750.8 L420.0,750.7 L420.3,750.6 L420.6,750.7 L420.9,750.5 L421.2,750.9 L421.5,750.8 L421.8,750.6 L422.1,750.5 L422.4,750.7 L422.7,750.6 L423.0,750.5 L423.3,750.5 L423.6,750.8 L423.9,750.4 L424.2,750.6 L424.5,750.7 L424.8,750.3 L425.1,750.5 L425.4,750.6 L425.7,750.4 L426.0,750.2 L426.3,750.5 L426.6,750.7 L426.9,750.4 L427.2,750.4 L427.5,750.2 L427.8,750.3 L428.1,750.4 L428.4,750.1 L428.7,750.1 L429.0,750.3 L429.3,750.2 L429.6,750.3 L429.9,750.2 L430.2,750.4 L430.5,750.2 L430.8,750.2 L431.1,750.0 L431.4,750.0 L431.7,750.1 L432.0,750.5 L432.3,750.3 L432.6,749.9 L432.9,750.3 L433.2,750.1 L433.5,749.9 L433.8,750.1 L434.1,749.9 L434.4,749.9" fill="none" stroke="#111111" stroke-width="1.8" stroke-linejoin="round" clip-path="url(#cb)" />
<line x1="123.50" y1="457.50" x2="123.50" y2="685.50" stroke="#333" stroke-width="0.9" stroke-dasharray="2,2"/>
<line x1="141.50" y1="499.20" x2="141.50" y2="671.00" stroke="#333" stroke-width="0.9" stroke-dasharray="2,2"/>
<line x1="168.30" y1="473.30" x2="168.30" y2="636.00" stroke="#333" stroke-width="0.9" stroke-dasharray="2,2"/>
<line x1="243.80" y1="516.30" x2="243.80" y2="684.50" stroke="#333" stroke-width="0.9" stroke-dasharray="2,2"/>
<line x1="275.50" y1="459.00" x2="275.50" y2="677.50" stroke="#333" stroke-width="0.9" stroke-dasharray="2,2"/>
<line x1="314.20" y1="492.50" x2="314.20" y2="681.00" stroke="#333" stroke-width="0.9" stroke-dasharray="2,2"/>
<line x1="361.30" y1="480.00" x2="361.30" y2="668.00" stroke="#333" stroke-width="0.9" stroke-dasharray="2,2"/>
<rect x="88.75" y="434.25" width="345.50" height="329.65" fill="none" stroke="#222" stroke-width="1.3"/>
<line x1="107.43" y1="763.90" x2="107.43" y2="769.90" stroke="#222" stroke-width="1.2" />
<text x="107.43" y="784.50" font-size="13.2" text-anchor="middle" font-weight="normal" fill="#222" >250</text>
<line x1="154.12" y1="763.90" x2="154.12" y2="769.90" stroke="#222" stroke-width="1.2" />
<text x="154.12" y="784.50" font-size="13.2" text-anchor="middle" font-weight="normal" fill="#222" >500</text>
<line x1="200.81" y1="763.90" x2="200.81" y2="769.90" stroke="#222" stroke-width="1.2" />
<text x="200.81" y="784.50" font-size="13.2" text-anchor="middle" font-weight="normal" fill="#222" >750</text>
<line x1="247.50" y1="763.90" x2="247.50" y2="769.90" stroke="#222" stroke-width="1.2" />
<text x="247.50" y="784.50" font-size="13.2" text-anchor="middle" font-weight="normal" fill="#222" >1000</text>
<line x1="294.19" y1="763.90" x2="294.19" y2="769.90" stroke="#222" stroke-width="1.2" />
<text x="294.19" y="784.50" font-size="13.2" text-anchor="middle" font-weight="normal" fill="#222" >1250</text>
<line x1="340.88" y1="763.90" x2="340.88" y2="769.90" stroke="#222" stroke-width="1.2" />
<text x="340.88" y="784.50" font-size="13.2" text-anchor="middle" font-weight="normal" fill="#222" >1500</text>
<line x1="387.57" y1="763.90" x2="387.57" y2="769.90" stroke="#222" stroke-width="1.2" />
<text x="387.57" y="784.50" font-size="13.2" text-anchor="middle" font-weight="normal" fill="#222" >1750</text>
<line x1="434.26" y1="763.90" x2="434.26" y2="769.90" stroke="#222" stroke-width="1.2" />
<text x="434.26" y="784.50" font-size="13.2" text-anchor="middle" font-weight="normal" fill="#222" >2000</text>
<line x1="130.77" y1="763.90" x2="130.77" y2="766.90" stroke="#222" stroke-width="1.2" />
<line x1="177.46" y1="763.90" x2="177.46" y2="766.90" stroke="#222" stroke-width="1.2" />
<line x1="224.15" y1="763.90" x2="224.15" y2="766.90" stroke="#222" stroke-width="1.2" />
<line x1="270.84" y1="763.90" x2="270.84" y2="766.90" stroke="#222" stroke-width="1.2" />
<line x1="317.53" y1="763.90" x2="317.53" y2="766.90" stroke="#222" stroke-width="1.2" />
<line x1="364.22" y1="763.90" x2="364.22" y2="766.90" stroke="#222" stroke-width="1.2" />
<line x1="410.91" y1="763.90" x2="410.91" y2="766.90" stroke="#222" stroke-width="1.2" />
<text x="95" y="451" font-size="10.1" fill="#333">[E<tspan font-size="7" dy="2">2</tspan><tspan font-size="7" dy="-6">high</tspan><tspan dy="4">- E</tspan><tspan font-size="7" dy="2">2</tspan><tspan font-size="7" dy="-6">low</tspan><tspan dy="4">]</tspan></text>
<text x="163.8" y="466.4" font-size="10.1" fill="#333">A<tspan font-size="7" dy="2">1</tspan><tspan dy="-2"> (LO)</tspan></text>
<text x="133.4" y="490.4" font-size="10.3" fill="#333">E<tspan font-size="7" dy="2.5">2</tspan><tspan font-size="7" dy="-6.5">high</tspan></text>
<text x="243.80" y="511.20" font-size="10.8" text-anchor="middle" font-weight="normal" fill="#333" >2TO</text>
<text x="215" y="454" font-size="10" fill="#333">[2A<tspan font-size="7" dy="2">1</tspan><tspan dy="-2"> (LO), E</tspan><tspan font-size="7" dy="2">1</tspan><tspan dy="-2">(LO), 2LO]</tspan></text>
<text x="315.20" y="487.60" font-size="10.8" text-anchor="middle" font-weight="normal" fill="#333" >D</text>
<text x="360.90" y="476.70" font-size="10.8" text-anchor="middle" font-weight="normal" fill="#333" >G</text>
<text x="396.40" y="516.70" font-size="14.3" text-anchor="start" font-weight="normal" fill="#222" >Z3Fe</text>
<text x="395.60" y="563.70" font-size="14.3" text-anchor="start" font-weight="normal" fill="#222" >Z2Fe</text>
<text x="395.60" y="620.80" font-size="14.3" text-anchor="start" font-weight="normal" fill="#222" >Z1Fe</text>
<text x="418.50" y="673.30" font-size="14.3" text-anchor="start" font-weight="normal" fill="#222" >Z</text>
<text x="358.2" y="735" font-size="14.5" fill="#222">Sub.<tspan dx="6.0">Al</tspan><tspan font-size="10.6" dy="3.6">2</tspan><tspan dy="-3.6">O</tspan><tspan font-size="10.6" dy="3.6">3</tspan></text>
<text x="119.8" y="720.40" font-size="10.8" fill="#222">E<tspan font-size="8.6" dy="3">g</tspan></text>
<text x="130.9" y="701.20" font-size="10.8" fill="#222">A<tspan font-size="8.6" dy="3">1g</tspan></text>
<text x="152.3" y="709.50" font-size="10.8" fill="#222">E<tspan font-size="8.6" dy="3">g</tspan></text>
<text x="160.6" y="726.20" font-size="10.8" fill="#222">E<tspan font-size="8.6" dy="3">g</tspan></text>
<text x="161.4" y="744.50" font-size="10.8" fill="#222">E<tspan font-size="8.6" dy="3">g</tspan></text>
<text x="176.9" y="731.20" font-size="10.8" fill="#222">A<tspan font-size="8.6" dy="3">1g</tspan></text>
<text x="200.3" y="729.70" font-size="10.8" fill="#222">E<tspan font-size="8.6" dy="3">g</tspan></text>
<line x1="152.70" y1="715.80" x2="144.13" y2="736.17" stroke="#222" stroke-width="0.9"/>
<path d="M141.80,741.70 L141.92,735.24 L143.66,737.28 L146.34,737.10 Z" fill="#222"/>
<line x1="160.20" y1="728.70" x2="148.05" y2="746.72" stroke="#222" stroke-width="0.9"/>
<path d="M144.70,751.70 L146.06,745.38 L147.38,747.72 L150.04,748.07 Z" fill="#222"/>
<text x="27.75" y="465.00" font-size="36.3" text-anchor="start" font-weight="normal" fill="#222" >(b)</text>
<text transform="translate(68.2,598.7) rotate(-90)" font-size="19" font-weight="bold" text-anchor="middle" fill="#111">Intensity (a.u.)</text>
<text x="261.35" y="815.2" font-size="19.6" font-weight="bold" text-anchor="middle" fill="#111">Raman Shift (cm<tspan font-size="12" dy="-7">-1</tspan><tspan dy="7">)</tspan></text>
<defs><clipPath id="cc"><rect x="523.8" y="44.2" width="212.80000000000007" height="319.6"/></clipPath></defs>
<path d="M524.0,289.1 L524.3,287.7 L524.6,287.8 L524.9,287.1 L525.2,285.5 L525.5,285.5 L525.8,283.9 L526.1,283.6 L526.4,284.1 L526.7,284.5 L527.0,285.1 L527.3,284.4 L527.6,283.3 L527.9,283.7 L528.2,283.9 L528.5,285.8 L528.8,287.1 L529.1,286.1 L529.4,286.3 L529.7,285.8 L530.0,285.5 L530.3,285.7 L530.6,285.3 L530.9,285.1 L531.2,285.6 L531.5,286.1 L531.8,286.9 L532.1,286.8 L532.4,286.8 L532.7,287.1 L533.0,286.1 L533.3,286.1 L533.6,286.5 L533.9,286.7 L534.2,287.2 L534.5,288.0 L534.8,287.4 L535.1,287.3 L535.4,287.2 L535.7,287.1 L536.0,287.8 L536.3,287.1 L536.6,287.1 L536.9,285.8 L537.2,284.2 L537.5,282.8 L537.8,281.4 L538.1,281.0 L538.4,280.1 L538.7,279.6 L539.0,279.2 L539.3,278.8 L539.6,277.2 L539.9,276.6 L540.2,274.0 L540.5,271.6 L540.8,270.5 L541.1,268.4 L541.4,267.2 L541.7,265.6 L542.0,264.3 L542.3,262.5 L542.6,261.1 L542.9,260.1 L543.2,259.0 L543.5,258.0 L543.8,257.3 L544.1,256.3 L544.4,255.4 L544.7,255.0 L545.0,254.3 L545.3,254.5 L545.6,254.6 L545.9,254.7 L546.2,255.5 L546.5,255.9 L546.8,257.1 L547.1,257.8 L547.4,258.2 L547.7,258.8 L548.0,258.4 L548.3,259.8 L548.6,261.2 L548.9,262.3 L549.2,263.4 L549.5,263.8 L549.8,264.3 L550.1,264.3 L550.4,264.1 L550.7,262.7 L551.0,262.4 L551.3,261.7 L551.6,261.3 L551.9,262.3 L552.2,262.1 L552.5,262.2 L552.8,263.3 L553.1,263.7 L553.4,264.9 L553.7,265.5 L554.0,265.9 L554.3,266.0 L554.6,266.0 L554.9,265.9 L555.2,264.1 L555.5,262.8 L555.8,261.5 L556.1,261.5 L556.4,262.9 L556.7,263.0 L557.0,261.8 L557.3,261.2 L557.6,259.7 L557.9,258.7 L558.2,258.3 L558.5,257.7 L558.8,256.4 L559.1,255.1 L559.4,253.9 L559.7,251.9 L560.0,250.4 L560.3,248.8 L560.6,247.4 L560.9,246.5 L561.2,245.8 L561.5,245.1 L561.8,244.0 L562.1,241.2 L562.4,238.9 L562.7,237.1 L563.0,235.0 L563.3,234.7 L563.6,234.8 L563.9,234.0 L564.2,233.9 L564.5,233.0 L564.8,232.1 L565.1,232.9 L565.4,232.5 L565.7,233.3 L566.0,233.8 L566.3,232.8 L566.6,233.1 L566.9,232.9 L567.2,232.8 L567.5,232.6 L567.8,231.5 L568.1,230.8 L568.4,230.0 L568.7,230.0 L569.0,230.0 L569.3,229.5 L569.6,228.9 L569.9,228.2 L570.2,227.2 L570.5,227.1 L570.8,225.9 L571.1,224.4 L571.4,224.3 L571.7,223.2 L572.0,222.7 L572.3,222.3 L572.6,220.9 L572.9,220.4 L573.2,220.5 L573.5,219.6 L573.8,219.5 L574.1,218.4 L574.4,217.5 L574.7,217.3 L575.0,216.3 L575.3,216.1 L575.6,215.8 L575.9,215.5 L576.2,215.8 L576.5,215.0 L576.8,213.7 L577.1,212.8 L577.4,212.0 L577.7,211.7 L578.0,212.3 L578.3,212.4 L578.6,211.9 L578.9,211.4 L579.2,210.3 L579.5,210.0 L579.8,209.6 L580.1,208.7 L580.4,208.3 L580.7,207.2 L581.0,207.5 L581.3,207.9 L581.6,207.2 L581.9,206.9 L582.2,205.9 L582.5,205.3 L582.8,205.7 L583.1,204.9 L583.4,204.3 L583.7,203.0 L584.0,201.0 L584.3,199.9 L584.6,198.0 L584.9,196.6 L585.2,195.3 L585.5,191.5 L585.8,185.6 L586.1,172.4 L586.4,154.7 L586.7,137.0 L587.0,117.3 L587.3,92.2 L587.6,58.8 L587.9,-27.6 L588.2,-154.9 L588.5,-244.3 L588.8,-224.1 L589.1,-113.3 L589.4,8.6 L589.7,72.4 L590.0,105.3 L590.3,129.6 L590.6,150.1 L590.9,168.5 L591.2,181.7 L591.5,187.8 L591.8,192.0 L592.1,194.8 L592.4,197.7 L592.7,199.4 L593.0,199.6 L593.3,200.4 L593.6,200.3 L593.9,198.1 L594.2,196.3 L594.5,193.8 L594.8,189.6 L595.1,182.9 L595.4,172.6 L595.7,158.4 L596.0,142.3 L596.3,117.2 L596.6,83.4 L596.9,45.2 L597.2,-12.5 L597.5,-85.0 L597.8,-157.0 L598.1,-215.9 L598.4,-248.5 L598.7,-242.2 L599.0,-202.0 L599.3,-140.5 L599.6,-69.5 L599.9,-1.3 L600.2,51.0 L600.5,91.8 L600.8,126.4 L601.1,143.4 L601.4,153.1 L601.7,159.6 L602.0,157.2 L602.3,147.5 L602.6,139.9 L602.9,136.8 L603.2,135.9 L603.5,137.3 L603.8,144.3 L604.1,153.7 L604.4,171.7 L604.7,193.8 L605.0,213.1 L605.3,232.1 L605.6,242.3 L605.9,246.8 L606.2,245.8 L606.5,244.0 L606.8,241.5 L607.1,238.8 L607.4,236.3 L607.7,232.7 L608.0,229.7 L608.3,227.7 L608.6,229.3 L608.9,234.5 L609.2,239.0 L609.5,244.3 L609.8,249.1 L610.1,253.3 L610.4,257.5 L610.7,260.6 L611.0,259.7 L611.3,260.1 L611.6,260.2 L611.9,258.8 L612.2,258.9 L612.5,257.8 L612.8,258.0 L613.1,258.5 L613.4,258.6 L613.7,259.6 L614.0,260.1 L614.3,260.4 L614.6,260.9 L614.9,260.4 L615.2,260.0 L615.5,259.6 L615.8,258.8 L616.1,257.7 L616.4,257.0 L616.7,255.4 L617.0,254.6 L617.3,254.3 L617.6,252.7 L617.9,252.1 L618.2,252.1 L618.5,250.8 L618.8,251.3 L619.1,250.5 L619.4,249.5 L619.7,249.1 L620.0,248.0 L620.3,248.0 L620.6,247.3 L620.9,247.9 L621.2,248.1 L621.5,248.2 L621.8,248.1 L622.1,247.8 L622.4,247.4 L622.7,246.8 L623.0,246.0 L623.3,245.4 L623.6,245.3 L623.9,245.4 L624.2,246.5 L624.5,246.9 L624.8,247.0 L625.1,247.7 L625.4,248.1 L625.7,248.5 L626.0,249.1 L626.3,249.2 L626.6,249.7 L626.9,250.7 L627.2,252.6 L627.5,253.3 L627.8,253.5 L628.1,253.4 L628.4,252.7 L628.7,253.3 L629.0,254.5 L629.3,254.7 L629.6,255.8 L629.9,256.9 L630.2,257.9 L630.5,259.5 L630.8,260.1 L631.1,261.0 L631.4,260.3 L631.7,259.7 L632.0,259.3 L632.3,258.4 L632.6,259.1 L632.9,258.7 L633.2,259.4 L633.5,259.7 L633.8,259.4 L634.1,259.7 L634.4,258.6 L634.7,257.1 L635.0,257.1 L635.3,257.3 L635.6,258.1 L635.9,259.1 L636.2,259.2 L636.5,260.1 L636.8,260.5 L637.1,261.5 L637.4,261.7 L637.7,261.4 L638.0,261.8 L638.3,261.9 L638.6,261.8 L638.9,261.3 L639.2,259.8 L639.5,258.8 L639.8,258.6 L640.1,257.6 L640.4,257.1 L640.7,257.0 L641.0,255.6 L641.3,254.9 L641.6,253.3 L641.9,250.3 L642.2,247.7 L642.5,242.2 L642.8,234.9 L643.1,227.7 L643.4,220.4 L643.7,214.2 L644.0,206.1 L644.3,198.6 L644.6,194.4 L644.9,195.2 L645.2,202.5 L645.5,212.9 L645.8,221.4 L646.1,226.6 L646.4,233.8 L646.7,239.5 L647.0,244.7 L647.3,249.7 L647.6,251.6 L647.9,253.6 L648.2,255.1 L648.5,256.8 L648.8,257.6 L649.1,257.5 L649.4,256.9 L649.7,254.7 L650.0,253.8 L650.3,251.8 L650.6,249.8 L650.9,248.8 L651.2,246.8 L651.5,244.5 L651.8,243.4 L652.1,241.7 L652.4,240.1 L652.7,239.5 L653.0,238.0 L653.3,238.2 L653.6,237.9 L653.9,238.2 L654.2,238.3 L654.5,237.0 L654.8,236.2 L655.1,235.0 L655.4,234.1 L655.7,232.7 L656.0,231.8 L656.3,231.7 L656.6,231.3 L656.9,231.6 L657.2,230.9 L657.5,228.8 L657.8,227.6 L658.1,226.3 L658.4,225.2 L658.7,224.1 L659.0,222.7 L659.3,221.7 L659.6,220.2 L659.9,218.5 L660.2,215.3 L660.5,208.3 L660.8,199.8 L661.1,191.3 L661.4,183.0 L661.7,176.0 L662.0,168.6 L662.3,158.3 L662.6,144.4 L662.9,123.7 L663.2,90.1 L663.5,24.6 L663.8,-178.0 L664.1,-229.8 L664.4,-36.0 L664.7,77.0 L665.0,115.6 L665.3,139.0 L665.6,153.1 L665.9,161.3 L666.2,169.2 L666.5,174.9 L666.8,178.3 L667.1,181.9 L667.4,184.4 L667.7,186.8 L668.0,189.2 L668.3,190.1 L668.6,191.0 L668.9,191.6 L669.2,191.9 L669.5,192.1 L669.8,192.6 L670.1,193.1 L670.4,193.3 L670.7,194.5 L671.0,194.9 L671.3,195.2 L671.6,195.6 L671.9,194.5 L672.2,195.0 L672.5,195.4 L672.8,195.3 L673.1,196.2 L673.4,196.9 L673.7,197.9 L674.0,198.5 L674.3,199.4 L674.6,199.7 L674.9,200.6 L675.2,202.0 L675.5,203.0 L675.8,203.3 L676.1,202.8 L676.4,202.9 L676.7,203.5 L677.0,204.9 L677.3,205.8 L677.6,206.6 L677.9,207.6 L678.2,207.2 L678.5,209.0 L678.8,209.5 L679.1,209.8 L679.4,210.1 L679.7,208.8 L680.0,209.1 L680.3,209.5 L680.6,209.1 L680.9,210.3 L681.2,210.4 L681.5,210.5 L681.8,211.4 L682.1,211.3 L682.4,211.0 L682.7,211.2 L683.0,212.6 L683.3,212.9 L683.6,213.2 L683.9,211.9 L684.2,209.3 L684.5,207.7 L684.8,206.5 L685.1,206.5 L685.4,206.5 L685.7,206.2 L686.0,205.2 L686.3,203.3 L686.6,202.8 L686.9,201.9 L687.2,200.4 L687.5,199.0 L687.8,195.8 L688.1,193.1 L688.4,190.8 L688.7,187.0 L689.0,184.0 L689.3,180.0 L689.6,175.2 L689.9,172.0 L690.2,168.6 L690.5,167.0 L690.8,164.5 L691.1,160.5 L691.4,155.9 L691.7,149.7 L692.0,141.6 L692.3,129.3 L692.6,110.2 L692.9,82.5 L693.2,30.2 L693.5,-155.9 L693.8,-245.7 L694.1,-86.8 L694.4,61.4 L694.7,90.8 L695.0,112.5 L695.3,125.6 L695.6,137.0 L695.9,149.2 L696.2,161.4 L696.5,173.7 L696.8,184.3 L697.1,193.9 L697.4,204.4 L697.7,215.0 L698.0,226.4 L698.3,236.6 L698.6,244.2 L698.9,249.6 L699.2,251.9 L699.5,254.9 L699.8,256.7 L700.1,257.8 L700.4,259.5 L700.7,260.7 L701.0,262.2 L701.3,263.1 L701.6,265.0 L701.9,265.8 L702.2,266.8 L702.5,267.8 L702.8,266.8 L703.1,268.4 L703.4,269.1 L703.7,269.3 L704.0,270.7 L704.3,270.1 L704.6,270.6 L704.9,272.3 L705.2,273.5 L705.5,273.9 L705.8,273.2 L706.1,272.9 L706.4,273.3 L706.7,274.0 L707.0,275.4 L707.3,274.7 L707.6,274.1 L707.9,274.5 L708.2,274.1 L708.5,275.0 L708.8,275.9 L709.1,276.0 L709.4,276.5 L709.7,277.7 L710.0,278.2 L710.3,278.8 L710.6,280.2 L710.9,280.4 L711.2,281.2 L711.5,282.2 L711.8,282.3 L712.1,282.5 L712.4,282.7 L712.7,282.9 L713.0,284.2 L713.3,284.7 L713.6,284.3 L713.9,285.5 L714.2,284.0 L714.5,285.0 L714.8,285.6 L715.1,285.7 L715.4,287.0 L715.7,287.1 L716.0,288.2 L716.3,288.4 L716.6,289.6 L716.9,290.0 L717.2,291.2 L717.5,291.7 L717.8,292.1 L718.1,292.9 L718.4,293.4 L718.7,295.1 L719.0,295.5 L719.3,295.9 L719.6,295.9 L719.9,295.6 L720.2,296.6 L720.5,297.0 L720.8,297.8 L721.1,298.1 L721.4,298.2 L721.7,298.0 L722.0,298.7 L722.3,299.7 L722.6,299.7 L722.9,300.8 L723.2,300.4 L723.5,300.7 L723.8,301.7 L724.1,303.3 L724.4,303.8 L724.7,303.3 L725.0,303.0 L725.3,301.4 L725.6,301.9 L725.9,302.7 L726.2,303.7 L726.5,304.8 L726.8,304.9 L727.1,305.9 L727.4,306.4 L727.7,307.3 L728.0,307.8 L728.3,307.7 L728.6,307.8 L728.9,307.7 L729.2,307.4 L729.5,308.3 L729.8,308.5 L730.1,309.0 L730.4,310.3 L730.7,310.3 L731.0,310.6 L731.3,310.2 L731.6,309.4 L731.9,308.7 L732.2,309.1 L732.5,308.0 L732.8,307.8 L733.1,307.6 L733.4,307.1 L733.7,306.9 L734.0,306.6 L734.3,306.3 L734.6,306.9 L734.9,307.2 L735.2,307.9 L735.5,308.9 L735.8,308.2 L736.1,310.0 L736.4,311.4" fill="none" stroke="#1f3fe6" stroke-width="1.75" stroke-linejoin="round" clip-path="url(#cc)" />
<path d="M524.0,297.4 L524.3,296.6 L524.6,296.0 L524.9,296.7 L525.2,296.3 L525.5,296.9 L525.8,297.3 L526.1,296.5 L526.4,296.7 L526.7,296.4 L527.0,296.3 L527.3,297.1 L527.6,297.5 L527.9,297.9 L528.2,297.3 L528.5,296.2 L528.8,295.4 L529.1,294.6 L529.4,294.8 L529.7,295.4 L530.0,295.8 L530.3,296.8 L530.6,297.2 L530.9,297.2 L531.2,297.7 L531.5,298.3 L531.8,298.6 L532.1,298.8 L532.4,298.9 L532.7,299.1 L533.0,299.1 L533.3,300.1 L533.6,301.1 L533.9,299.9 L534.2,300.8 L534.5,300.5 L534.8,299.8 L535.1,300.5 L535.4,300.3 L535.7,300.6 L536.0,301.1 L536.3,300.9 L536.6,300.9 L536.9,301.0 L537.2,301.1 L537.5,301.3 L537.8,301.1 L538.1,300.8 L538.4,300.0 L538.7,299.4 L539.0,298.5 L539.3,297.6 L539.6,297.2 L539.9,296.0 L540.2,295.4 L540.5,295.1 L540.8,293.8 L541.1,293.6 L541.4,294.0 L541.7,293.1 L542.0,293.4 L542.3,293.8 L542.6,292.8 L542.9,292.6 L543.2,292.3 L543.5,291.8 L543.8,291.6 L544.1,291.8 L544.4,292.3 L544.7,292.5 L545.0,293.1 L545.3,293.3 L545.6,293.0 L545.9,293.0 L546.2,292.4 L546.5,292.4 L546.8,292.3 L547.1,291.9 L547.4,292.4 L547.7,292.7 L548.0,292.9 L548.3,293.3 L548.6,292.4 L548.9,292.9 L549.2,293.0 L549.5,292.6 L549.8,293.9 L550.1,293.3 L550.4,293.6 L550.7,294.4 L551.0,294.6 L551.3,294.9 L551.6,294.7 L551.9,294.8 L552.2,294.9 L552.5,294.3 L552.8,294.6 L553.1,294.8 L553.4,294.2 L553.7,294.7 L554.0,294.1 L554.3,293.9 L554.6,294.4 L554.9,294.2 L555.2,294.6 L555.5,294.8 L555.8,294.6 L556.1,295.2 L556.4,294.7 L556.7,294.4 L557.0,294.8 L557.3,294.0 L557.6,293.8 L557.9,293.3 L558.2,292.5 L558.5,292.1 L558.8,292.0 L559.1,291.3 L559.4,290.7 L559.7,290.7 L560.0,290.6 L560.3,291.3 L560.6,292.3 L560.9,292.9 L561.2,293.2 L561.5,293.9 L561.8,294.2 L562.1,294.3 L562.4,295.2 L562.7,295.2 L563.0,295.3 L563.3,295.9 L563.6,296.5 L563.9,296.9 L564.2,297.3 L564.5,297.9 L564.8,298.3 L565.1,299.3 L565.4,299.3 L565.7,300.0 L566.0,300.0 L566.3,300.3 L566.6,301.3 L566.9,301.0 L567.2,301.2 L567.5,301.0 L567.8,301.1 L568.1,302.1 L568.4,302.4 L568.7,302.6 L569.0,303.7 L569.3,303.1 L569.6,303.4 L569.9,303.9 L570.2,303.0 L570.5,303.9 L570.8,304.6 L571.1,304.9 L571.4,305.7 L571.7,305.7 L572.0,305.0 L572.3,305.3 L572.6,305.1 L572.9,305.1 L573.2,306.1 L573.5,306.5 L573.8,306.9 L574.1,307.8 L574.4,308.4 L574.7,308.3 L575.0,308.8 L575.3,308.6 L575.6,308.0 L575.9,307.8 L576.2,308.2 L576.5,308.5 L576.8,308.6 L577.1,308.9 L577.4,308.6 L577.7,308.2 L578.0,308.2 L578.3,307.9 L578.6,308.5 L578.9,308.7 L579.2,309.2 L579.5,310.4 L579.8,310.0 L580.1,310.4 L580.4,310.0 L580.7,309.2 L581.0,309.7 L581.3,309.4 L581.6,309.4 L581.9,309.0 L582.2,308.6 L582.5,307.8 L582.8,307.8 L583.1,307.5 L583.4,306.2 L583.7,305.4 L584.0,304.0 L584.3,302.1 L584.6,299.3 L584.9,296.2 L585.2,291.7 L585.5,281.9 L585.8,264.7 L586.1,240.4 L586.4,198.2 L586.7,159.7 L587.0,132.5 L587.3,107.0 L587.6,74.0 L587.9,7.8 L588.2,-114.5 L588.5,-223.2 L588.8,-243.8 L589.1,-157.2 L589.4,-30.6 L589.7,60.4 L590.0,100.7 L590.3,130.2 L590.6,158.5 L590.9,197.3 L591.2,239.7 L591.5,270.1 L591.8,293.2 L592.1,298.8 L592.4,300.3 L592.7,301.0 L593.0,299.7 L593.3,297.5 L593.6,295.8 L593.9,293.1 L594.2,289.3 L594.5,281.9 L594.8,271.6 L595.1,259.1 L595.4,245.0 L595.7,224.6 L596.0,199.6 L596.3,171.1 L596.6,135.0 L596.9,97.6 L597.2,59.8 L597.5,16.7 L597.8,-48.7 L598.1,-147.1 L598.4,-229.5 L598.7,-246.8 L599.0,-202.0 L599.3,-126.1 L599.6,-45.1 L599.9,16.5 L600.2,67.1 L600.5,117.6 L600.8,170.4 L601.1,191.1 L601.4,198.8 L601.7,189.2 L602.0,174.4 L602.3,163.4 L602.6,155.8 L602.9,156.4 L603.2,162.4 L603.5,176.6 L603.8,202.3 L604.1,223.8 L604.4,244.3 L604.7,266.6 L605.0,284.7 L605.3,288.2 L605.6,290.5 L605.9,291.3 L606.2,290.0 L606.5,286.5 L606.8,281.2 L607.1,272.0 L607.4,262.0 L607.7,263.0 L608.0,271.2 L608.3,279.3 L608.6,285.3 L608.9,291.8 L609.2,296.4 L609.5,298.9 L609.8,301.4 L610.1,302.3 L610.4,303.0 L610.7,303.3 L611.0,303.7 L611.3,303.5 L611.6,303.8 L611.9,304.7 L612.2,304.6 L612.5,305.2 L612.8,305.3 L613.1,305.0 L613.4,305.2 L613.7,305.1 L614.0,304.9 L614.3,305.4 L614.6,305.3 L614.9,305.1 L615.2,305.2 L615.5,305.6 L615.8,306.0 L616.1,306.6 L616.4,307.3 L616.7,307.1 L617.0,307.3 L617.3,307.1 L617.6,306.6 L617.9,306.8 L618.2,307.1 L618.5,307.2 L618.8,307.2 L619.1,307.3 L619.4,307.2 L619.7,307.8 L620.0,307.1 L620.3,307.3 L620.6,307.3 L620.9,307.2 L621.2,308.5 L621.5,308.3 L621.8,308.3 L622.1,308.1 L622.4,308.1 L622.7,308.7 L623.0,309.0 L623.3,309.4 L623.6,309.7 L623.9,309.6 L624.2,309.2 L624.5,308.9 L624.8,308.4 L625.1,308.5 L625.4,309.1 L625.7,310.0 L626.0,310.2 L626.3,310.8 L626.6,310.9 L626.9,311.1 L627.2,311.4 L627.5,311.5 L627.8,312.5 L628.1,312.6 L628.4,312.9 L628.7,312.2 L629.0,311.1 L629.3,309.3 L629.6,309.2 L629.9,309.7 L630.2,310.1 L630.5,310.5 L630.8,310.6 L631.1,309.5 L631.4,309.1 L631.7,308.5 L632.0,306.9 L632.3,307.2 L632.6,306.8 L632.9,306.5 L633.2,306.3 L633.5,305.8 L633.8,304.3 L634.1,304.6 L634.4,303.6 L634.7,303.1 L635.0,303.2 L635.3,303.0 L635.6,303.0 L635.9,302.3 L636.2,301.9 L636.5,301.0 L636.8,300.7 L637.1,300.2 L637.4,299.8 L637.7,300.0 L638.0,299.6 L638.3,299.9 L638.6,299.9 L638.9,299.5 L639.2,298.8 L639.5,298.0 L639.8,297.7 L640.1,297.0 L640.4,297.1 L640.7,296.6 L641.0,294.5 L641.3,293.0 L641.6,291.1 L641.9,287.9 L642.2,283.5 L642.5,277.1 L642.8,269.5 L643.1,259.1 L643.4,245.7 L643.7,230.2 L644.0,213.4 L644.3,208.9 L644.6,219.2 L644.9,234.5 L645.2,249.5 L645.5,264.5 L645.8,275.0 L646.1,281.0 L646.4,284.8 L646.7,286.6 L647.0,286.5 L647.3,286.3 L647.6,286.1 L647.9,286.0 L648.2,285.6 L648.5,285.3 L648.8,285.4 L649.1,284.8 L649.4,284.7 L649.7,284.8 L650.0,283.2 L650.3,283.7 L650.6,283.5 L650.9,282.5 L651.2,282.8 L651.5,282.3 L651.8,281.2 L652.1,280.7 L652.4,279.4 L652.7,278.0 L653.0,277.5 L653.3,276.7 L653.6,277.0 L653.9,276.4 L654.2,275.3 L654.5,275.0 L654.8,274.0 L655.1,273.5 L655.4,273.2 L655.7,272.0 L656.0,270.8 L656.3,270.5 L656.6,270.1 L656.9,269.6 L657.2,269.1 L657.5,267.5 L657.8,265.7 L658.1,264.2 L658.4,262.1 L658.7,259.2 L659.0,256.0 L659.3,252.3 L659.6,248.1 L659.9,244.1 L660.2,238.6 L660.5,232.7 L660.8,225.6 L661.1,217.5 L661.4,208.4 L661.7,197.6 L662.0,184.9 L662.3,169.8 L662.6,150.0 L662.9,126.3 L663.2,93.1 L663.5,23.7 L663.8,-177.8 L664.1,-229.1 L664.4,-37.3 L664.7,77.7 L665.0,116.7 L665.3,142.8 L665.6,165.1 L665.9,182.3 L666.2,197.1 L666.5,209.8 L666.8,222.8 L667.1,234.0 L667.4,241.6 L667.7,245.9 L668.0,249.0 L668.3,252.2 L668.6,255.3 L668.9,258.3 L669.2,260.2 L669.5,261.6 L669.8,263.0 L670.1,263.3 L670.4,264.6 L670.7,265.9 L671.0,266.6 L671.3,267.2 L671.6,268.2 L671.9,269.2 L672.2,268.8 L672.5,269.6 L672.8,269.7 L673.1,270.1 L673.4,271.3 L673.7,271.5 L674.0,271.9 L674.3,272.3 L674.6,272.6 L674.9,273.0 L675.2,274.0 L675.5,274.2 L675.8,273.8 L676.1,273.9 L676.4,273.1 L676.7,272.5 L677.0,272.7 L677.3,272.1 L677.6,271.0 L677.9,271.2 L678.2,271.1 L678.5,271.3 L678.8,271.8 L679.1,271.2 L679.4,270.9 L679.7,270.6 L680.0,270.8 L680.3,271.4 L680.6,271.5 L680.9,271.1 L681.2,270.7 L681.5,269.7 L681.8,269.6 L682.1,269.9 L682.4,270.3 L682.7,270.9 L683.0,271.1 L683.3,270.6 L683.6,270.2 L683.9,269.8 L684.2,269.0 L684.5,268.1 L684.8,266.9 L685.1,265.2 L685.4,263.9 L685.7,263.0 L686.0,262.0 L686.3,260.7 L686.6,259.1 L686.9,257.4 L687.2,254.2 L687.5,252.0 L687.8,248.5 L688.1,244.3 L688.4,242.1 L688.7,239.2 L689.0,236.0 L689.3,234.1 L689.6,230.8 L689.9,226.9 L690.2,221.1 L690.5,208.7 L690.8,194.2 L691.1,179.5 L691.4,165.1 L691.7,149.6 L692.0,135.0 L692.3,122.9 L692.6,107.1 L692.9,83.0 L693.2,32.4 L693.5,-154.2 L693.8,-245.0 L694.1,-86.6 L694.4,60.9 L694.7,90.4 L695.0,110.5 L695.3,124.2 L695.6,135.9 L695.9,150.0 L696.2,166.9 L696.5,183.3 L696.8,199.4 L697.1,217.3 L697.4,232.3 L697.7,236.9 L698.0,239.7 L698.3,241.9 L698.6,242.8 L698.9,243.7 L699.2,245.1 L699.5,246.9 L699.8,248.5 L700.1,250.7 L700.4,251.8 L700.7,252.2 L701.0,253.3 L701.3,253.3 L701.6,254.2 L701.9,255.4 L702.2,255.3 L702.5,255.6 L702.8,256.2 L703.1,255.7 L703.4,256.7 L703.7,256.9 L704.0,257.3 L704.3,258.6 L704.6,258.5 L704.9,259.4 L705.2,259.2 L705.5,258.7 L705.8,258.9 L706.1,258.8 L706.4,258.9 L706.7,259.4 L707.0,259.1 L707.3,259.4 L707.6,259.6 L707.9,259.8 L708.2,259.5 L708.5,259.1 L708.8,258.7 L709.1,259.4 L709.4,260.5 L709.7,261.4 L710.0,262.3 L710.3,262.2 L710.6,262.9 L710.9,263.0 L711.2,263.3 L711.5,264.3 L711.8,264.5 L712.1,265.1 L712.4,265.3 L712.7,264.8 L713.0,265.1 L713.3,265.4 L713.6,266.6 L713.9,267.0 L714.2,266.9 L714.5,266.7 L714.8,266.9 L715.1,266.7 L715.4,267.2 L715.7,268.3 L716.0,267.7 L716.3,268.1 L716.6,267.9 L716.9,267.2 L717.2,268.1 L717.5,269.1 L717.8,269.6 L718.1,270.6 L718.4,271.5 L718.7,272.0 L719.0,272.7 L719.3,274.0 L719.6,273.7 L719.9,274.1 L720.2,275.2 L720.5,274.9 L720.8,275.0 L721.1,275.2 L721.4,274.3 L721.7,274.5 L722.0,275.7 L722.3,275.8 L722.6,277.5 L722.9,278.5 L723.2,279.1 L723.5,279.8 L723.8,279.7 L724.1,280.0 L724.4,280.5 L724.7,281.7 L725.0,281.5 L725.3,281.5 L725.6,281.2 L725.9,281.0 L726.2,282.2 L726.5,283.5 L726.8,284.1 L727.1,284.6 L727.4,284.6 L727.7,283.9 L728.0,284.6 L728.3,283.9 L728.6,284.1 L728.9,284.9 L729.2,285.5 L729.5,285.8 L729.8,285.3 L730.1,284.2 L730.4,282.9 L730.7,283.1 L731.0,283.6 L731.3,284.5 L731.6,284.7 L731.9,284.9 L732.2,284.4 L732.5,283.9 L732.8,284.0 L733.1,283.1 L733.4,283.7 L733.7,284.2 L734.0,284.3 L734.3,285.2 L734.6,285.1 L734.9,284.4 L735.2,284.4 L735.5,284.1 L735.8,284.0 L736.1,284.4 L736.4,284.4" fill="none" stroke="#e8393b" stroke-width="1.75" stroke-linejoin="round" clip-path="url(#cc)" />
<rect x="523.80" y="44.20" width="212.80" height="319.60" fill="none" stroke="#222" stroke-width="1.4"/>
<line x1="523.80" y1="363.80" x2="523.80" y2="369.80" stroke="#222" stroke-width="1.3" />
<text x="523.80" y="384.90" font-size="13.3" text-anchor="middle" font-weight="normal" fill="#222" >150</text>
<line x1="566.47" y1="363.80" x2="566.47" y2="369.80" stroke="#222" stroke-width="1.3" />
<text x="566.47" y="384.90" font-size="13.3" text-anchor="middle" font-weight="normal" fill="#222" >300</text>
<line x1="609.13" y1="363.80" x2="609.13" y2="369.80" stroke="#222" stroke-width="1.3" />
<text x="609.13" y="384.90" font-size="13.3" text-anchor="middle" font-weight="normal" fill="#222" >450</text>
<line x1="651.80" y1="363.80" x2="651.80" y2="369.80" stroke="#222" stroke-width="1.3" />
<text x="651.80" y="384.90" font-size="13.3" text-anchor="middle" font-weight="normal" fill="#222" >600</text>
<line x1="694.46" y1="363.80" x2="694.46" y2="369.80" stroke="#222" stroke-width="1.3" />
<text x="694.46" y="384.90" font-size="13.3" text-anchor="middle" font-weight="normal" fill="#222" >750</text>
<line x1="737.13" y1="363.80" x2="737.13" y2="369.80" stroke="#222" stroke-width="1.3" />
<text x="737.13" y="384.90" font-size="13.3" text-anchor="middle" font-weight="normal" fill="#222" >900</text>
<line x1="545.13" y1="363.80" x2="545.13" y2="367.30" stroke="#222" stroke-width="1.3" />
<line x1="587.80" y1="363.80" x2="587.80" y2="367.30" stroke="#222" stroke-width="1.3" />
<line x1="630.46" y1="363.80" x2="630.46" y2="367.30" stroke="#222" stroke-width="1.3" />
<line x1="673.13" y1="363.80" x2="673.13" y2="367.30" stroke="#222" stroke-width="1.3" />
<line x1="715.80" y1="363.80" x2="715.80" y2="367.30" stroke="#222" stroke-width="1.3" />
<line x1="635.00" y1="326.50" x2="663.30" y2="326.50" stroke="#1f3fe6" stroke-width="1.6" />
<line x1="635.00" y1="347.20" x2="663.30" y2="347.20" stroke="#e8393b" stroke-width="1.6" />
<text x="666.5" y="331" font-size="13.3" fill="#222">Fe<tspan font-size="9.5" dy="3">2</tspan><tspan dy="-3">O</tspan><tspan font-size="9.5" dy="3">3</tspan><tspan dy="-3"> film</tspan></text>
<text x="666.5" y="351.7" font-size="13.3" fill="#222">Sub. Al<tspan font-size="9.5" dy="3">2</tspan><tspan dy="-3">O</tspan><tspan font-size="9.5" dy="3">3</tspan></text>
<text x="531.6" y="183.3" font-size="12.5" font-weight="bold" fill="#111">A<tspan font-size="9.8" dy="3.4">1g</tspan></text>
<text x="541.50" y="201.70" font-size="10.6" text-anchor="middle" font-weight="normal" fill="#333" >(226)</text>
<text x="556.2" y="146.7" font-size="12.5" font-weight="bold" fill="#111">E<tspan font-size="9.8" dy="3.4">g</tspan></text>
<text x="563.20" y="165.20" font-size="10.6" text-anchor="middle" font-weight="normal" fill="#333" >(296)</text>
<text x="614.4" y="173.3" font-size="12.5" font-weight="bold" fill="#111">A<tspan font-size="9.8" dy="3.4">1g</tspan></text>
<text x="624.30" y="192.20" font-size="10.6" text-anchor="middle" font-weight="normal" fill="#333" >(501)</text>
<text x="637.0" y="143.3" font-size="12.5" font-weight="bold" fill="#111">E<tspan font-size="9.8" dy="3.4">g</tspan></text>
<text x="643.50" y="162.40" font-size="10.6" text-anchor="middle" font-weight="normal" fill="#333" >(611)</text>
<line x1="543.70" y1="217.50" x2="543.70" y2="244.00" stroke="#777" stroke-width="0.8" />
<path d="M541.40,243.00 L546.00,243.00 L543.70,250.00 Z" fill="#222"/>
<line x1="564.70" y1="174.20" x2="564.70" y2="218.20" stroke="#777" stroke-width="0.8" />
<path d="M562.40,217.20 L567.00,217.20 L564.70,224.20 Z" fill="#222"/>
<line x1="623.30" y1="202.50" x2="623.30" y2="232.30" stroke="#777" stroke-width="0.8" />
<path d="M621.00,231.30 L625.60,231.30 L623.30,238.30 Z" fill="#222"/>
<line x1="653.70" y1="170.00" x2="653.70" y2="224.00" stroke="#777" stroke-width="0.8" />
<path d="M651.40,223.00 L656.00,223.00 L653.70,230.00 Z" fill="#222"/>
<text x="466.35" y="71.60" font-size="36.3" text-anchor="start" font-weight="normal" fill="#222" >(c)</text>
<text transform="translate(504,204.5) rotate(-90)" font-size="16.2" font-weight="bold" text-anchor="middle" fill="#111">Intensity (a.u.)</text>
<text x="630.1" y="412.7" font-size="16.2" font-weight="bold" text-anchor="middle" fill="#111">Raman Shift (cm<tspan font-size="10" dy="-6">-1</tspan><tspan dy="6">)</tspan></text>
<defs><clipPath id="cd"><rect x="526.2" y="434.2" width="209.5999999999999" height="335.00000000000006"/></clipPath></defs>
<path d="M526.3,730.0 L526.5,728.4 L526.8,726.4 L527.0,725.4 L527.3,724.2 L527.5,723.3 L527.8,722.8 L528.0,722.2 L528.3,721.3 L528.5,721.4 L528.8,721.6 L529.0,720.8 L529.3,721.3 L529.5,720.7 L529.8,719.5 L530.0,719.8 L530.3,719.3 L530.5,718.9 L530.8,719.3 L531.0,718.8 L531.3,718.9 L531.5,718.8 L531.8,718.3 L532.0,718.2 L532.3,717.5 L532.5,716.9 L532.8,717.2 L533.0,717.5 L533.3,718.3 L533.5,718.5 L533.8,718.5 L534.0,718.0 L534.3,718.0 L534.5,718.8 L534.8,719.4 L535.0,720.2 L535.3,720.5 L535.5,721.0 L535.8,720.5 L536.0,719.7 L536.3,719.7 L536.5,719.6 L536.8,720.5 L537.0,721.7 L537.3,721.5 L537.5,721.0 L537.8,721.1 L538.0,721.5 L538.3,722.3 L538.5,722.7 L538.8,723.1 L539.0,722.7 L539.3,722.6 L539.5,722.5 L539.8,722.5 L540.0,722.6 L540.3,722.6 L540.5,722.9 L540.8,722.7 L541.0,723.1 L541.3,723.1 L541.5,723.4 L541.8,723.7 L542.0,724.0 L542.3,723.9 L542.5,724.3 L542.8,725.1 L543.0,724.9 L543.3,725.9 L543.5,726.5 L543.8,726.3 L544.0,725.9 L544.3,724.7 L544.5,723.9 L544.8,724.5 L545.0,725.2 L545.3,726.1 L545.5,725.9 L545.8,724.9 L546.0,724.7 L546.3,723.8 L546.5,723.7 L546.8,724.0 L547.0,723.7 L547.3,724.2 L547.5,724.0 L547.8,724.0 L548.0,724.1 L548.3,723.2 L548.5,723.0 L548.8,722.4 L549.0,722.5 L549.3,723.2 L549.5,723.6 L549.8,723.9 L550.0,723.8 L550.3,723.9 L550.5,723.4 L550.8,722.5 L551.0,722.2 L551.3,721.4 L551.5,721.3 L551.8,721.4 L552.0,720.3 L552.3,719.5 L552.5,719.4 L552.8,719.5 L553.0,720.0 L553.3,720.3 L553.5,719.8 L553.8,718.9 L554.0,718.2 L554.3,717.7 L554.5,717.1 L554.8,717.0 L555.0,717.3 L555.3,716.4 L555.5,716.6 L555.8,716.5 L556.0,715.1 L556.3,715.6 L556.5,715.1 L556.8,714.4 L557.0,714.4 L557.3,713.5 L557.5,713.8 L557.8,714.6 L558.0,715.1 L558.3,715.2 L558.5,714.4 L558.8,713.4 L559.0,712.2 L559.3,712.0 L559.5,711.8 L559.8,711.3 L560.0,710.7 L560.3,710.0 L560.5,709.7 L560.8,709.5 L561.0,709.8 L561.3,710.6 L561.5,710.3 L561.8,709.9 L562.0,709.7 L562.3,709.8 L562.5,709.1 L562.8,709.8 L563.0,710.1 L563.3,709.0 L563.5,709.1 L563.8,708.8 L564.0,708.2 L564.3,708.0 L564.5,708.7 L564.8,708.2 L565.0,708.2 L565.3,708.4 L565.5,707.6 L565.8,707.7 L566.0,707.5 L566.3,707.8 L566.5,708.4 L566.8,708.8 L567.0,709.5 L567.3,710.0 L567.5,710.0 L567.8,709.5 L568.0,709.5 L568.3,708.4 L568.5,708.0 L568.8,708.3 L569.0,707.4 L569.3,708.6 L569.5,708.5 L569.8,707.9 L570.0,708.3 L570.3,707.5 L570.5,707.9 L570.8,708.4 L571.0,709.1 L571.3,709.3 L571.5,709.4 L571.8,709.2 L572.0,709.0 L572.3,708.8 L572.5,708.0 L572.8,708.8 L573.0,708.3 L573.3,708.2 L573.5,708.5 L573.8,708.2 L574.0,708.0 L574.3,708.1 L574.5,708.5 L574.8,708.8 L575.0,709.1 L575.3,709.1 L575.5,708.4 L575.8,708.2 L576.0,708.1 L576.3,707.8 L576.5,708.0 L576.8,706.8 L577.0,706.7 L577.3,706.1 L577.5,706.4 L577.8,706.6 L578.0,706.4 L578.3,707.1 L578.5,706.0 L578.8,706.4 L579.0,706.9 L579.3,706.0 L579.5,706.6 L579.8,705.9 L580.0,705.5 L580.3,705.7 L580.5,704.9 L580.8,705.0 L581.0,704.5 L581.3,704.4 L581.5,704.9 L581.8,704.9 L582.0,705.1 L582.3,704.3 L582.5,704.0 L582.8,703.2 L583.0,703.2 L583.3,703.4 L583.5,703.5 L583.8,703.6 L584.0,702.9 L584.3,702.9 L584.5,701.5 L584.8,701.3 L585.0,701.1 L585.3,700.3 L585.5,700.9 L585.8,700.6 L586.0,700.4 L586.3,700.6 L586.5,700.5 L586.8,700.4 L587.0,700.1 L587.3,699.9 L587.5,699.1 L587.8,698.4 L588.0,698.3 L588.3,697.9 L588.5,697.3 L588.8,697.3 L589.0,697.3 L589.3,697.2 L589.5,697.8 L589.8,697.7 L590.0,696.7 L590.3,696.7 L590.5,696.2 L590.8,696.0 L591.0,695.2 L591.3,695.2 L591.5,695.4 L591.8,694.6 L592.0,695.9 L592.3,695.3 L592.5,695.0 L592.8,695.5 L593.0,695.4 L593.3,695.4 L593.5,695.4 L593.8,695.1 L594.0,694.2 L594.3,694.6 L594.5,694.5 L594.8,694.2 L595.0,694.8 L595.3,694.3 L595.5,693.6 L595.8,693.8 L596.0,693.3 L596.3,693.2 L596.5,693.7 L596.8,693.5 L597.0,694.1 L597.3,693.8 L597.5,693.2 L597.8,692.5 L598.0,691.4 L598.3,691.4 L598.5,691.5 L598.8,691.3 L599.0,691.1 L599.3,690.5 L599.5,690.7 L599.8,690.5 L600.0,690.7 L600.3,690.1 L600.5,689.2 L600.8,689.9 L601.0,689.1 L601.3,689.9 L601.5,689.1 L601.8,688.4 L602.0,688.3 L602.3,687.6 L602.5,688.0 L602.8,688.1 L603.0,688.4 L603.3,688.3 L603.5,688.0 L603.8,687.6 L604.0,687.0 L604.3,686.5 L604.5,686.3 L604.8,686.1 L605.0,687.0 L605.3,687.0 L605.5,687.8 L605.8,687.0 L606.0,685.7 L606.3,685.7 L606.5,685.0 L606.8,685.5 L607.0,686.1 L607.3,685.6 L607.5,685.6 L607.8,685.2 L608.0,683.3 L608.3,682.8 L608.5,682.0 L608.8,681.8 L609.0,682.8 L609.3,682.9 L609.5,683.4 L609.8,682.8 L610.0,682.4 L610.3,682.6 L610.5,681.5 L610.8,682.1 L611.0,682.3 L611.3,681.7 L611.5,681.8 L611.8,681.1 L612.0,680.5 L612.3,680.7 L612.5,680.7 L612.8,679.9 L613.0,679.1 L613.3,678.6 L613.5,677.2 L613.8,676.9 L614.0,677.1 L614.3,676.7 L614.5,678.1 L614.8,678.7 L615.0,680.2 L615.3,680.3 L615.5,680.2 L615.8,680.5 L616.0,679.2 L616.3,679.5 L616.5,679.5 L616.8,679.2 L617.0,679.1 L617.3,678.7 L617.5,678.8 L617.8,678.8 L618.0,679.2 L618.3,679.6 L618.5,679.5 L618.8,679.5 L619.0,679.6 L619.3,679.8 L619.5,680.3 L619.8,680.5 L620.0,680.0 L620.3,679.5 L620.5,679.1 L620.8,678.3 L621.0,678.2 L621.3,678.7 L621.5,678.1 L621.8,678.3 L622.0,678.7 L622.3,677.1 L622.5,677.0 L622.8,676.9 L623.0,676.0 L623.3,677.2 L623.5,677.6 L623.8,678.0 L624.0,678.2 L624.3,677.9 L624.5,677.1 L624.8,676.5 L625.0,675.5 L625.3,675.0 L625.5,675.1 L625.8,674.8 L626.0,675.4 L626.3,674.7 L626.5,674.0 L626.8,673.2 L627.0,672.6 L627.3,672.0 L627.5,670.8 L627.8,669.1 L628.0,666.8 L628.3,664.2 L628.5,661.1 L628.8,658.8 L629.0,654.4 L629.3,650.1 L629.5,644.1 L629.8,636.3 L630.0,628.1 L630.3,620.0 L630.5,613.8 L630.8,607.7 L631.0,602.2 L631.3,597.1 L631.5,592.1 L631.8,587.5 L632.0,585.1 L632.3,583.6 L632.5,584.1 L632.8,586.0 L633.0,587.3 L633.3,589.9 L633.5,592.7 L633.8,596.1 L634.0,602.9 L634.3,610.4 L634.5,616.7 L634.8,622.9 L635.0,627.8 L635.3,632.7 L635.5,637.7 L635.8,640.1 L636.0,642.8 L636.3,645.3 L636.5,647.2 L636.8,649.3 L637.0,650.4 L637.3,650.4 L637.5,651.2 L637.8,651.8 L638.0,652.8 L638.3,653.7 L638.5,654.2 L638.8,655.0 L639.0,654.7 L639.3,654.5 L639.5,653.8 L639.8,652.5 L640.0,652.0 L640.3,651.1 L640.5,649.7 L640.8,650.8 L641.0,650.2 L641.3,649.6 L641.5,650.2 L641.8,649.4 L642.0,649.1 L642.3,649.8 L642.5,648.8 L642.8,648.4 L643.0,647.4 L643.3,646.5 L643.5,646.5 L643.8,645.3 L644.0,645.9 L644.3,644.2 L644.5,642.5 L644.8,641.5 L645.0,639.0 L645.3,638.8 L645.5,637.7 L645.8,636.8 L646.0,635.2 L646.3,632.5 L646.5,629.6 L646.8,625.0 L647.0,620.6 L647.3,615.2 L647.5,610.1 L647.8,603.9 L648.0,595.0 L648.3,585.9 L648.5,576.5 L648.8,567.4 L649.0,559.6 L649.3,551.7 L649.5,542.7 L649.8,535.8 L650.0,529.9 L650.3,523.9 L650.5,520.9 L650.8,520.7 L651.0,523.5 L651.3,529.1 L651.5,534.3 L651.8,539.4 L652.0,545.5 L652.3,550.6 L652.5,555.3 L652.8,558.5 L653.0,560.3 L653.3,561.7 L653.5,563.1 L653.8,564.4 L654.0,566.0 L654.3,567.6 L654.5,568.7 L654.8,569.1 L655.0,569.3 L655.3,569.0 L655.5,569.6 L655.8,569.7 L656.0,569.5 L656.3,570.8 L656.5,571.2 L656.8,573.3 L657.0,575.0 L657.3,576.0 L657.5,576.7 L657.8,577.3 L658.0,578.9 L658.3,579.8 L658.5,581.8 L658.8,582.4 L659.0,584.0 L659.3,585.7 L659.5,587.3 L659.8,588.8 L660.0,589.6 L660.3,590.8 L660.5,592.1 L660.8,593.5 L661.0,593.9 L661.3,595.1 L661.5,595.7 L661.8,596.8 L662.0,599.1 L662.3,600.1 L662.5,600.7 L662.8,601.3 L663.0,601.9 L663.3,602.8 L663.5,603.7 L663.8,604.4 L664.0,604.6 L664.3,605.2 L664.5,606.0 L664.8,607.9 L665.0,609.4 L665.3,610.4 L665.5,611.6 L665.8,611.2 L666.0,610.6 L666.3,611.4 L666.5,612.1 L666.8,612.3 L667.0,615.0 L667.3,615.4 L667.5,616.4 L667.8,617.6 L668.0,616.2 L668.3,616.0 L668.5,616.0 L668.8,615.6 L669.0,616.3 L669.3,617.3 L669.5,617.7 L669.8,618.7 L670.0,618.1 L670.3,617.6 L670.5,617.8 L670.8,618.2 L671.0,619.1 L671.3,619.4 L671.5,619.1 L671.8,618.7 L672.0,618.6 L672.3,618.3 L672.5,617.8 L672.8,617.9 L673.0,618.2 L673.3,618.7 L673.5,619.2 L673.8,619.2 L674.0,618.4 L674.3,618.3 L674.5,617.8 L674.8,618.4 L675.0,619.1 L675.3,619.7 L675.5,620.2 L675.8,620.1 L676.0,620.3 L676.3,619.6 L676.5,619.1 L676.8,618.2 L677.0,617.9 L677.3,617.9 L677.5,617.5 L677.8,617.9 L678.0,617.9 L678.3,617.7 L678.5,617.6 L678.8,617.0 L679.0,616.3 L679.3,615.7 L679.5,615.8 L679.8,615.3 L680.0,615.7 L680.3,615.9 L680.5,615.9 L680.8,615.4 L681.0,615.2 L681.3,615.0 L681.5,614.5 L681.8,614.8 L682.0,615.6 L682.3,615.8 L682.5,616.4 L682.8,617.1 L683.0,615.9 L683.3,615.4 L683.5,614.2 L683.8,613.7 L684.0,613.1 L684.3,612.8 L684.5,613.6 L684.8,613.5 L685.0,613.7 L685.3,613.5 L685.5,613.5 L685.8,613.3 L686.0,613.3 L686.3,613.5 L686.5,612.9 L686.8,612.1 L687.0,612.0 L687.3,611.0 L687.5,610.8 L687.8,611.1 L688.0,611.6 L688.3,612.6 L688.5,612.2 L688.8,612.6 L689.0,611.8 L689.3,611.6 L689.5,611.4 L689.8,610.4 L690.0,610.1 L690.3,609.5 L690.5,610.3 L690.8,610.4 L691.0,610.8 L691.3,610.5 L691.5,609.5 L691.8,609.4 L692.0,609.1 L692.3,609.4 L692.5,608.8 L692.8,608.4 L693.0,608.4 L693.3,607.7 L693.5,607.0 L693.8,607.0 L694.0,606.2 L694.3,605.3 L694.5,604.9 L694.8,603.8 L695.0,603.5 L695.3,603.5 L695.5,603.8 L695.8,604.5 L696.0,604.4 L696.3,603.9 L696.5,602.9 L696.8,602.1 L697.0,600.8 L697.3,600.0 L697.5,599.8 L697.8,598.9 L698.0,598.6 L698.3,598.6 L698.5,597.1 L698.8,596.4 L699.0,596.0 L699.3,595.7 L699.5,596.3 L699.8,595.8 L700.0,596.2 L700.3,595.7 L700.5,595.1 L700.8,594.7 L701.0,593.3 L701.3,591.9 L701.5,590.5 L701.8,589.7 L702.0,588.2 L702.3,588.0 L702.5,587.4 L702.8,586.8 L703.0,586.6 L703.3,585.2 L703.5,584.3 L703.8,583.0 L704.0,582.6 L704.3,582.6 L704.5,581.9 L704.8,581.3 L705.0,579.6 L705.3,578.7 L705.5,578.0 L705.8,576.8 L706.0,575.6 L706.3,574.3 L706.5,574.0 L706.8,573.3 L707.0,572.5 L707.3,570.9 L707.5,569.0 L707.8,567.1 L708.0,566.7 L708.3,565.8 L708.5,564.2 L708.8,562.9 L709.0,561.5 L709.3,560.7 L709.5,560.7 L709.8,561.0 L710.0,559.5 L710.3,557.6 L710.5,555.9 L710.8,554.1 L711.0,553.0 L711.3,551.8 L711.5,550.4 L711.8,549.2 L712.0,547.5 L712.3,546.2 L712.5,544.2 L712.8,543.2 L713.0,542.9 L713.3,542.3 L713.5,540.9 L713.8,539.6 L714.0,537.2 L714.3,535.9 L714.5,536.1 L714.8,534.8 L715.0,532.9 L715.3,531.5 L715.5,529.1 L715.8,527.7 L716.0,526.8 L716.3,524.6 L716.5,521.6 L716.8,519.3 L717.0,516.5 L717.3,513.3 L717.5,512.1 L717.8,509.8 L718.0,508.9 L718.3,508.3 L718.5,506.4 L718.8,504.3 L719.0,502.1 L719.3,499.6 L719.5,497.3 L719.8,493.8 L720.0,490.6 L720.3,486.9 L720.5,482.9 L720.8,478.9 L721.0,474.4 L721.3,469.7 L721.5,463.8 L721.8,458.3 L722.0,451.9 L722.3,444.4 L722.5,437.1 L722.8,429.9 L723.0,421.1 L723.3,411.7 L723.5,403.1 L723.8,394.2 L724.0,387.2 L724.3,382.2 L724.5,381.1 L724.8,380.9 L725.0,380.5 L725.3,380.0 L725.5,379.1 L725.8,379.6 L726.0,379.5 L726.3,380.2 L726.5,380.1 L726.8,381.3 L727.0,384.1 L727.3,389.2 L727.5,395.6 L727.8,401.7 L728.0,408.7 L728.3,415.2 L728.5,422.1 L728.8,429.0 L729.0,434.5 L729.3,440.5 L729.5,445.6 L729.8,451.9 L730.0,457.5 L730.3,463.3 L730.5,468.8 L730.8,473.6 L731.0,480.1 L731.3,485.1 L731.5,490.2 L731.8,494.7 L732.0,500.0 L732.3,504.9 L732.5,511.1 L732.8,517.8 L733.0,522.5 L733.3,529.5 L733.5,535.1 L733.8,540.4 L734.0,546.4 L734.3,551.5 L734.5,557.5 L734.8,563.3 L735.0,568.6 L735.3,572.8 L735.5,576.1 L735.8,578.7" fill="none" stroke="#1f8c1f" stroke-width="1.8" stroke-linejoin="round" clip-path="url(#cd)" />
<path d="M526.3,697.2 L526.5,696.1 L526.8,695.2 L527.0,693.7 L527.3,692.1 L527.5,691.8 L527.8,691.0 L528.0,689.9 L528.3,689.4 L528.5,688.1 L528.8,687.6 L529.0,688.4 L529.3,688.7 L529.5,688.7 L529.8,688.7 L530.0,688.2 L530.3,688.1 L530.5,688.0 L530.8,687.5 L531.0,687.9 L531.3,687.7 L531.5,688.0 L531.8,688.1 L532.0,687.6 L532.3,687.6 L532.5,687.8 L532.8,688.3 L533.0,688.7 L533.3,688.6 L533.5,689.3 L533.8,689.2 L534.0,689.4 L534.3,689.4 L534.5,688.5 L534.8,688.5 L535.0,687.7 L535.3,687.7 L535.5,688.1 L535.8,688.7 L536.0,689.6 L536.3,689.7 L536.5,689.4 L536.8,689.2 L537.0,689.1 L537.3,689.5 L537.5,690.7 L537.8,690.6 L538.0,690.9 L538.3,691.0 L538.5,691.0 L538.8,691.5 L539.0,691.6 L539.3,691.6 L539.5,691.4 L539.8,691.6 L540.0,692.1 L540.3,692.3 L540.5,692.6 L540.8,692.5 L541.0,692.5 L541.3,693.0 L541.5,693.0 L541.8,692.7 L542.0,692.6 L542.3,692.2 L542.5,692.0 L542.8,691.7 L543.0,692.1 L543.3,692.7 L543.5,693.2 L543.8,693.9 L544.0,693.8 L544.3,693.5 L544.5,693.6 L544.8,693.4 L545.0,693.4 L545.3,693.1 L545.5,692.9 L545.8,693.2 L546.0,693.2 L546.3,693.6 L546.5,693.4 L546.8,693.1 L547.0,693.6 L547.3,693.7 L547.5,694.5 L547.8,694.5 L548.0,694.3 L548.3,694.2 L548.5,693.8 L548.8,693.9 L549.0,693.5 L549.3,693.1 L549.5,692.6 L549.8,691.8 L550.0,691.3 L550.3,691.2 L550.5,691.0 L550.8,691.1 L551.0,690.6 L551.3,690.3 L551.5,689.9 L551.8,689.5 L552.0,689.3 L552.3,689.5 L552.5,689.1 L552.8,689.5 L553.0,689.5 L553.3,689.5 L553.5,689.3 L553.8,688.5 L554.0,688.3 L554.3,688.2 L554.5,688.4 L554.8,688.7 L555.0,688.3 L555.3,688.0 L555.5,687.6 L555.8,686.4 L556.0,685.8 L556.3,685.2 L556.5,685.1 L556.8,685.6 L557.0,685.9 L557.3,685.8 L557.5,686.2 L557.8,685.9 L558.0,685.8 L558.3,685.4 L558.5,684.2 L558.8,684.0 L559.0,684.2 L559.3,684.0 L559.5,685.0 L559.8,685.1 L560.0,684.7 L560.3,685.1 L560.5,684.2 L560.8,683.9 L561.0,684.1 L561.3,683.4 L561.5,683.3 L561.8,682.8 L562.0,682.3 L562.3,683.4 L562.5,683.7 L562.8,683.7 L563.0,683.1 L563.3,682.3 L563.5,682.1 L563.8,682.2 L564.0,683.1 L564.3,683.1 L564.5,683.1 L564.8,683.5 L565.0,683.4 L565.3,683.1 L565.5,682.7 L565.8,682.9 L566.0,682.5 L566.3,682.2 L566.5,682.5 L566.8,682.0 L567.0,682.1 L567.3,683.4 L567.5,683.9 L567.8,683.9 L568.0,683.4 L568.3,682.5 L568.5,681.6 L568.8,681.9 L569.0,682.3 L569.3,682.5 L569.5,682.8 L569.8,682.4 L570.0,682.2 L570.3,682.1 L570.5,682.2 L570.8,682.9 L571.0,682.7 L571.3,682.6 L571.5,682.4 L571.8,681.8 L572.0,682.3 L572.3,682.2 L572.5,682.9 L572.8,682.4 L573.0,682.7 L573.3,682.8 L573.5,681.9 L573.8,682.6 L574.0,682.2 L574.3,682.6 L574.5,683.3 L574.8,683.0 L575.0,682.9 L575.3,682.7 L575.5,682.4 L575.8,682.5 L576.0,682.9 L576.3,682.8 L576.5,682.3 L576.8,682.5 L577.0,682.0 L577.3,681.8 L577.5,682.4 L577.8,682.5 L578.0,682.6 L578.3,682.8 L578.5,682.7 L578.8,682.3 L579.0,682.2 L579.3,682.4 L579.5,681.9 L579.8,681.9 L580.0,681.6 L580.3,681.5 L580.5,681.4 L580.8,681.8 L581.0,681.7 L581.3,681.3 L581.5,681.4 L581.8,680.8 L582.0,680.5 L582.3,680.5 L582.5,680.2 L582.8,680.3 L583.0,680.7 L583.3,679.8 L583.5,680.1 L583.8,679.8 L584.0,679.4 L584.3,679.5 L584.5,678.9 L584.8,678.8 L585.0,679.3 L585.3,679.2 L585.5,678.9 L585.8,678.6 L586.0,678.4 L586.3,678.3 L586.5,679.1 L586.8,678.8 L587.0,677.7 L587.3,677.2 L587.5,676.2 L587.8,676.2 L588.0,676.3 L588.3,675.9 L588.5,675.7 L588.8,675.3 L589.0,675.0 L589.3,675.8 L589.5,676.4 L589.8,676.5 L590.0,676.7 L590.3,675.9 L590.5,675.3 L590.8,674.5 L591.0,674.1 L591.3,674.2 L591.5,674.2 L591.8,674.5 L592.0,674.3 L592.3,673.7 L592.5,672.6 L592.8,672.3 L593.0,671.6 L593.3,671.6 L593.5,672.0 L593.8,671.6 L594.0,671.4 L594.3,671.3 L594.5,671.0 L594.8,671.4 L595.0,672.1 L595.3,672.4 L595.5,672.7 L595.8,672.2 L596.0,671.7 L596.3,671.7 L596.5,671.0 L596.8,671.0 L597.0,671.3 L597.3,670.7 L597.5,670.6 L597.8,670.6 L598.0,669.9 L598.3,669.9 L598.5,669.9 L598.8,669.6 L599.0,669.7 L599.3,668.7 L599.5,668.6 L599.8,668.5 L600.0,668.4 L600.3,668.7 L600.5,668.6 L600.8,668.8 L601.0,668.8 L601.3,668.6 L601.5,668.9 L601.8,668.4 L602.0,667.9 L602.3,667.4 L602.5,667.2 L602.8,666.6 L603.0,666.8 L603.3,667.5 L603.5,667.5 L603.8,667.3 L604.0,666.8 L604.3,666.6 L604.5,666.6 L604.8,666.9 L605.0,667.0 L605.3,667.2 L605.5,667.3 L605.8,667.3 L606.0,667.1 L606.3,666.7 L606.5,665.7 L606.8,665.5 L607.0,665.6 L607.3,665.6 L607.5,666.0 L607.8,665.3 L608.0,665.6 L608.3,665.3 L608.5,664.4 L608.8,664.3 L609.0,663.8 L609.3,663.1 L609.5,663.8 L609.8,663.8 L610.0,662.9 L610.3,663.7 L610.5,663.8 L610.8,663.9 L611.0,664.7 L611.3,664.2 L611.5,663.6 L611.8,663.5 L612.0,663.0 L612.3,663.1 L612.5,663.2 L612.8,663.7 L613.0,663.9 L613.3,663.5 L613.5,662.7 L613.8,662.2 L614.0,661.7 L614.3,661.3 L614.5,661.1 L614.8,660.5 L615.0,659.8 L615.3,659.7 L615.5,660.2 L615.8,660.9 L616.0,661.6 L616.3,661.8 L616.5,661.8 L616.8,661.6 L617.0,662.1 L617.3,662.5 L617.5,662.2 L617.8,662.5 L618.0,661.7 L618.3,661.6 L618.5,662.3 L618.8,662.3 L619.0,662.9 L619.3,663.7 L619.5,663.6 L619.8,664.4 L620.0,664.8 L620.3,664.8 L620.5,664.8 L620.8,664.9 L621.0,664.7 L621.3,664.6 L621.5,664.8 L621.8,664.7 L622.0,664.0 L622.3,663.7 L622.5,663.7 L622.8,664.0 L623.0,663.7 L623.3,663.0 L623.5,662.4 L623.8,661.5 L624.0,661.5 L624.3,661.9 L624.5,661.8 L624.8,661.6 L625.0,661.3 L625.3,661.0 L625.5,661.0 L625.8,661.2 L626.0,661.7 L626.3,661.7 L626.5,661.5 L626.8,660.4 L627.0,659.5 L627.3,657.3 L627.5,655.0 L627.8,653.0 L628.0,650.7 L628.3,648.3 L628.5,643.9 L628.8,638.9 L629.0,633.5 L629.3,627.2 L629.5,620.2 L629.8,612.5 L630.0,604.5 L630.3,596.5 L630.5,588.5 L630.8,580.5 L631.0,572.3 L631.3,565.3 L631.5,559.4 L631.8,552.7 L632.0,546.6 L632.3,542.7 L632.5,540.7 L632.8,541.3 L633.0,545.3 L633.3,550.8 L633.5,557.1 L633.8,564.1 L634.0,570.6 L634.3,579.2 L634.5,588.8 L634.8,597.9 L635.0,605.3 L635.3,611.8 L635.5,618.2 L635.8,624.0 L636.0,628.9 L636.3,632.6 L636.5,635.5 L636.8,637.9 L637.0,639.8 L637.3,641.1 L637.5,642.1 L637.8,643.0 L638.0,644.2 L638.3,644.8 L638.5,645.4 L638.8,646.3 L639.0,646.5 L639.3,646.8 L639.5,646.8 L639.8,646.5 L640.0,646.0 L640.3,645.9 L640.5,645.9 L640.8,645.7 L641.0,645.1 L641.3,644.3 L641.5,643.9 L641.8,643.2 L642.0,642.5 L642.3,641.5 L642.5,640.0 L642.8,639.1 L643.0,638.9 L643.3,638.3 L643.5,637.3 L643.8,636.4 L644.0,634.7 L644.3,634.0 L644.5,633.2 L644.8,631.7 L645.0,630.6 L645.3,628.9 L645.5,627.6 L645.8,626.3 L646.0,624.6 L646.3,622.0 L646.5,619.1 L646.8,615.4 L647.0,610.8 L647.3,605.7 L647.5,599.6 L647.8,591.4 L648.0,581.3 L648.3,568.9 L648.5,554.8 L648.8,539.8 L649.0,521.0 L649.3,497.4 L649.5,468.8 L649.8,434.5 L650.0,394.6 L650.3,341.1 L650.5,267.8 L650.8,106.7 L651.0,8.6 L651.3,191.9 L651.5,295.2 L651.8,354.0 L652.0,397.9 L652.3,433.3 L652.5,466.1 L652.8,495.2 L653.0,518.6 L653.3,535.8 L653.5,545.5 L653.8,553.4 L654.0,560.2 L654.3,564.8 L654.5,566.8 L654.8,566.9 L655.0,565.9 L655.3,565.0 L655.5,563.8 L655.8,562.5 L656.0,561.0 L656.3,559.6 L656.5,558.6 L656.8,558.6 L657.0,558.4 L657.3,560.2 L657.5,563.1 L657.8,565.5 L658.0,568.7 L658.3,571.3 L658.5,574.8 L658.8,578.2 L659.0,580.5 L659.3,582.1 L659.5,582.9 L659.8,584.0 L660.0,585.2 L660.3,586.2 L660.5,587.2 L660.8,588.2 L661.0,588.8 L661.3,589.9 L661.5,590.9 L661.8,591.6 L662.0,593.1 L662.3,594.4 L662.5,595.3 L662.8,596.0 L663.0,596.5 L663.3,597.0 L663.5,597.8 L663.8,598.9 L664.0,599.4 L664.3,600.9 L664.5,601.8 L664.8,602.3 L665.0,603.2 L665.3,603.0 L665.5,603.2 L665.8,603.6 L666.0,604.3 L666.3,605.5 L666.5,606.9 L666.8,608.2 L667.0,609.3 L667.3,609.8 L667.5,610.3 L667.8,611.7 L668.0,613.4 L668.3,615.8 L668.5,617.8 L668.8,618.8 L669.0,619.5 L669.3,619.9 L669.5,620.4 L669.8,621.3 L670.0,622.3 L670.3,622.6 L670.5,623.2 L670.8,624.0 L671.0,623.8 L671.3,624.1 L671.5,624.0 L671.8,623.7 L672.0,623.1 L672.3,623.3 L672.5,623.4 L672.8,622.8 L673.0,623.0 L673.3,622.5 L673.5,621.7 L673.8,621.8 L674.0,621.9 L674.3,621.4 L674.5,622.1 L674.8,622.4 L675.0,621.8 L675.3,621.9 L675.5,621.8 L675.8,622.0 L676.0,622.2 L676.3,622.3 L676.5,621.8 L676.8,621.0 L677.0,621.1 L677.3,620.7 L677.5,620.9 L677.8,621.6 L678.0,621.7 L678.3,621.6 L678.5,621.2 L678.8,619.6 L679.0,618.9 L679.3,618.5 L679.5,617.9 L679.8,617.5 L680.0,617.8 L680.3,617.9 L680.5,617.6 L680.8,618.2 L681.0,617.8 L681.3,617.0 L681.5,617.6 L681.8,616.5 L682.0,616.3 L682.3,616.1 L682.5,615.7 L682.8,615.6 L683.0,615.1 L683.3,615.6 L683.5,615.6 L683.8,616.0 L684.0,615.7 L684.3,614.9 L684.5,614.2 L684.8,613.9 L685.0,613.3 L685.3,613.3 L685.5,613.1 L685.8,613.0 L686.0,613.4 L686.3,613.0 L686.5,612.5 L686.8,612.3 L687.0,611.6 L687.3,611.4 L687.5,611.4 L687.8,610.7 L688.0,610.8 L688.3,610.2 L688.5,609.9 L688.8,610.1 L689.0,609.8 L689.3,610.0 L689.5,610.2 L689.8,609.7 L690.0,609.3 L690.3,609.2 L690.5,607.9 L690.8,607.4 L691.0,607.3 L691.3,606.7 L691.5,606.7 L691.8,606.6 L692.0,606.1 L692.3,605.5 L692.5,605.6 L692.8,604.7 L693.0,604.3 L693.3,603.7 L693.5,602.8 L693.8,602.1 L694.0,602.0 L694.3,600.7 L694.5,600.1 L694.8,599.9 L695.0,599.1 L695.3,598.9 L695.5,598.0 L695.8,597.3 L696.0,596.2 L696.3,595.9 L696.5,595.3 L696.8,593.8 L697.0,592.5 L697.3,591.6 L697.5,590.8 L697.8,590.9 L698.0,590.0 L698.3,588.9 L698.5,587.8 L698.8,586.8 L699.0,586.4 L699.3,585.6 L699.5,584.9 L699.8,583.7 L700.0,582.6 L700.3,581.1 L700.5,579.3 L700.8,578.4 L701.0,576.9 L701.3,576.6 L701.5,576.1 L701.8,574.1 L702.0,572.9 L702.3,571.3 L702.5,569.6 L702.8,568.2 L703.0,567.2 L703.3,566.0 L703.5,564.6 L703.8,564.0 L704.0,562.8 L704.3,562.4 L704.5,561.9 L704.8,560.8 L705.0,559.9 L705.3,557.7 L705.5,556.8 L705.8,556.1 L706.0,555.6 L706.3,555.2 L706.5,554.5 L706.8,554.1 L707.0,552.6 L707.3,551.7 L707.5,550.5 L707.8,549.3 L708.0,548.7 L708.3,547.9 L708.5,547.1 L708.8,546.5 L709.0,545.8 L709.3,545.0 L709.5,544.4 L709.8,543.2 L710.0,541.9 L710.3,540.1 L710.5,538.2 L710.8,535.9 L711.0,534.2 L711.3,532.3 L711.5,529.6 L711.8,527.8 L712.0,525.2 L712.3,523.2 L712.5,521.7 L712.8,519.5 L713.0,517.2 L713.3,514.8 L713.5,512.7 L713.8,511.2 L714.0,509.8 L714.3,507.9 L714.5,506.1 L714.8,502.9 L715.0,500.0 L715.3,496.9 L715.5,493.7 L715.8,490.0 L716.0,486.2 L716.3,483.4 L716.5,480.2 L716.8,477.4 L717.0,474.3 L717.3,470.7 L717.5,467.0 L717.8,462.8 L718.0,459.1 L718.3,454.8 L718.5,450.2 L718.8,445.5 L719.0,440.6 L719.3,435.5 L719.5,430.2 L719.8,423.3 L720.0,415.0 L720.3,405.5 L720.5,395.9 L720.8,386.3 L721.0,377.4 L721.3,370.1 L721.5,364.4 L721.8,361.2 L722.0,360.7 L722.3,360.7 L722.5,360.1 L722.8,360.6 L723.0,360.2 L723.3,359.8 L723.5,360.0 L723.8,359.8 L724.0,360.1 L724.3,360.2 L724.5,359.7 L724.8,359.6 L725.0,359.6 L725.3,359.5 L725.5,359.8 L725.8,360.0 L726.0,360.2 L726.3,359.7 L726.5,359.7 L726.8,359.7 L727.0,359.3 L727.3,359.4 L727.5,359.2 L727.8,359.2 L728.0,359.1 L728.3,360.9 L728.5,363.1 L728.8,366.5 L729.0,371.1 L729.3,376.3 L729.5,382.7 L729.8,388.9 L730.0,395.3 L730.3,402.9 L730.5,410.8 L730.8,418.8 L731.0,427.6 L731.3,434.5 L731.5,442.2 L731.8,450.3 L732.0,458.9 L732.3,469.0 L732.5,478.3 L732.8,489.0 L733.0,499.6 L733.3,510.1 L733.5,521.1 L733.8,531.5 L734.0,541.9 L734.3,551.2 L734.5,560.6 L734.8,570.0 L735.0,578.9 L735.3,589.5 L735.5,600.1 L735.8,610.8 L736.0,622.6" fill="none" stroke="#e62222" stroke-width="1.8" stroke-linejoin="round" clip-path="url(#cd)" />
<path d="M526.3,675.0 L526.5,673.9 L526.8,672.7 L527.0,671.1 L527.3,670.6 L527.5,669.7 L527.8,669.2 L528.0,669.6 L528.3,668.9 L528.5,668.1 L528.8,667.3 L529.0,666.7 L529.3,665.9 L529.5,666.1 L529.8,666.2 L530.0,665.3 L530.3,665.6 L530.5,665.6 L530.8,665.2 L531.0,665.3 L531.3,665.5 L531.5,664.9 L531.8,664.9 L532.0,665.4 L532.3,665.3 L532.5,665.3 L532.8,665.6 L533.0,665.9 L533.3,665.5 L533.5,666.2 L533.8,666.6 L534.0,666.1 L534.3,666.9 L534.5,666.6 L534.8,667.0 L535.0,667.8 L535.3,667.5 L535.5,667.9 L535.8,667.7 L536.0,667.2 L536.3,667.7 L536.5,667.7 L536.8,668.0 L537.0,668.3 L537.3,668.3 L537.5,669.0 L537.8,669.2 L538.0,669.2 L538.3,669.7 L538.5,670.0 L538.8,669.8 L539.0,670.8 L539.3,670.5 L539.5,670.2 L539.8,670.5 L540.0,670.1 L540.3,670.9 L540.5,671.3 L540.8,671.8 L541.0,671.9 L541.3,671.3 L541.5,671.8 L541.8,671.2 L542.0,672.0 L542.3,672.2 L542.5,672.0 L542.8,672.8 L543.0,672.6 L543.3,672.7 L543.5,672.6 L543.8,672.7 L544.0,672.9 L544.3,673.6 L544.5,674.0 L544.8,673.9 L545.0,673.9 L545.3,673.6 L545.5,673.9 L545.8,674.0 L546.0,673.6 L546.3,674.0 L546.5,674.3 L546.8,674.9 L547.0,675.1 L547.3,675.2 L547.5,675.1 L547.8,674.7 L548.0,674.8 L548.3,674.8 L548.5,674.3 L548.8,673.9 L549.0,673.7 L549.3,673.4 L549.5,673.2 L549.8,673.0 L550.0,672.9 L550.3,672.8 L550.5,673.2 L550.8,672.9 L551.0,672.5 L551.3,672.0 L551.5,671.1 L551.8,670.5 L552.0,670.5 L552.3,670.3 L552.5,670.5 L552.8,670.8 L553.0,670.9 L553.3,671.1 L553.5,670.5 L553.8,670.3 L554.0,669.7 L554.3,669.1 L554.5,669.4 L554.8,669.1 L555.0,669.0 L555.3,668.7 L555.5,668.7 L555.8,668.6 L556.0,668.5 L556.3,668.3 L556.5,667.8 L556.8,667.5 L557.0,667.2 L557.3,666.7 L557.5,666.0 L557.8,666.1 L558.0,666.4 L558.3,666.3 L558.5,666.7 L558.8,666.5 L559.0,667.1 L559.3,667.1 L559.5,666.7 L559.8,666.2 L560.0,665.4 L560.3,665.8 L560.5,665.8 L560.8,666.4 L561.0,666.6 L561.3,666.0 L561.5,666.1 L561.8,665.4 L562.0,664.4 L562.3,664.2 L562.5,663.8 L562.8,663.4 L563.0,663.4 L563.3,663.6 L563.5,663.3 L563.8,663.4 L564.0,663.0 L564.3,662.8 L564.5,663.0 L564.8,663.4 L565.0,663.5 L565.3,663.0 L565.5,663.1 L565.8,662.8 L566.0,663.2 L566.3,663.8 L566.5,662.8 L566.8,662.3 L567.0,661.9 L567.3,661.5 L567.5,661.6 L567.8,662.0 L568.0,662.4 L568.3,662.8 L568.5,663.2 L568.8,663.4 L569.0,663.3 L569.3,663.1 L569.5,663.9 L569.8,663.6 L570.0,663.9 L570.3,664.4 L570.5,664.1 L570.8,664.4 L571.0,663.9 L571.3,663.2 L571.5,663.4 L571.8,663.8 L572.0,664.2 L572.3,664.6 L572.5,664.5 L572.8,663.9 L573.0,663.6 L573.3,663.2 L573.5,663.4 L573.8,663.5 L574.0,664.0 L574.3,664.3 L574.5,664.7 L574.8,665.4 L575.0,665.7 L575.3,666.2 L575.5,665.7 L575.8,665.1 L576.0,664.4 L576.3,664.2 L576.5,664.8 L576.8,664.5 L577.0,665.5 L577.3,665.2 L577.5,664.4 L577.8,664.8 L578.0,664.4 L578.3,664.5 L578.5,664.5 L578.8,664.9 L579.0,664.2 L579.3,664.6 L579.5,665.0 L579.8,664.3 L580.0,664.6 L580.3,664.0 L580.5,663.6 L580.8,663.8 L581.0,663.4 L581.3,663.5 L581.5,664.2 L581.8,664.6 L582.0,665.2 L582.3,665.6 L582.5,665.0 L582.8,664.3 L583.0,663.6 L583.3,662.3 L583.5,662.2 L583.8,662.0 L584.0,662.3 L584.3,662.5 L584.5,662.6 L584.8,662.1 L585.0,661.2 L585.3,661.3 L585.5,661.0 L585.8,661.0 L586.0,661.3 L586.3,660.9 L586.5,660.6 L586.8,660.7 L587.0,660.2 L587.3,660.4 L587.5,659.7 L587.8,659.3 L588.0,658.9 L588.3,658.8 L588.5,659.0 L588.8,658.4 L589.0,658.8 L589.3,658.2 L589.5,658.1 L589.8,658.0 L590.0,657.9 L590.3,657.8 L590.5,658.0 L590.8,658.3 L591.0,658.1 L591.3,657.7 L591.5,656.4 L591.8,655.9 L592.0,656.1 L592.3,656.0 L592.5,656.8 L592.8,657.3 L593.0,656.4 L593.3,656.4 L593.5,656.3 L593.8,655.7 L594.0,655.6 L594.3,655.3 L594.5,654.8 L594.8,654.8 L595.0,655.1 L595.3,655.2 L595.5,655.5 L595.8,655.3 L596.0,655.6 L596.3,655.4 L596.5,654.9 L596.8,654.5 L597.0,653.2 L597.3,652.8 L597.5,652.8 L597.8,652.6 L598.0,653.2 L598.3,652.8 L598.5,652.1 L598.8,652.3 L599.0,652.0 L599.3,652.0 L599.5,652.6 L599.8,652.7 L600.0,652.5 L600.3,652.3 L600.5,652.1 L600.8,651.4 L601.0,651.1 L601.3,651.4 L601.5,650.6 L601.8,650.9 L602.0,650.6 L602.3,650.5 L602.5,650.8 L602.8,650.7 L603.0,650.8 L603.3,650.6 L603.5,650.0 L603.8,649.2 L604.0,648.7 L604.3,648.5 L604.5,648.2 L604.8,648.5 L605.0,648.5 L605.3,647.7 L605.5,647.5 L605.8,647.2 L606.0,646.9 L606.3,647.2 L606.5,646.8 L606.8,646.4 L607.0,646.6 L607.3,646.3 L607.5,646.9 L607.8,646.2 L608.0,645.3 L608.3,644.6 L608.5,644.4 L608.8,644.7 L609.0,645.2 L609.3,645.3 L609.5,645.1 L609.8,644.3 L610.0,644.0 L610.3,643.7 L610.5,643.1 L610.8,643.6 L611.0,643.6 L611.3,643.7 L611.5,643.5 L611.8,643.5 L612.0,643.3 L612.3,642.9 L612.5,642.9 L612.8,642.2 L613.0,642.0 L613.3,642.1 L613.5,642.0 L613.8,641.9 L614.0,641.3 L614.3,641.4 L614.5,641.3 L614.8,640.5 L615.0,640.6 L615.3,640.4 L615.5,640.1 L615.8,640.6 L616.0,640.6 L616.3,640.7 L616.5,640.8 L616.8,641.3 L617.0,642.0 L617.3,642.3 L617.5,643.0 L617.8,643.0 L618.0,643.0 L618.3,642.8 L618.5,642.9 L618.8,642.8 L619.0,642.9 L619.3,642.8 L619.5,642.7 L619.8,643.5 L620.0,643.2 L620.3,643.3 L620.5,643.4 L620.8,643.4 L621.0,643.8 L621.3,644.2 L621.5,644.1 L621.8,643.6 L622.0,643.4 L622.3,643.3 L622.5,643.1 L622.8,642.7 L623.0,642.5 L623.3,642.3 L623.5,642.3 L623.8,642.0 L624.0,642.0 L624.3,641.6 L624.5,641.6 L624.8,641.2 L625.0,640.4 L625.3,640.2 L625.5,640.1 L625.8,640.3 L626.0,639.9 L626.3,639.3 L626.5,638.9 L626.8,638.9 L627.0,638.6 L627.3,637.2 L627.5,635.2 L627.8,633.0 L628.0,631.0 L628.3,629.2 L628.5,626.0 L628.8,621.4 L629.0,617.2 L629.3,613.2 L629.5,610.2 L629.8,607.9 L630.0,605.2 L630.3,602.8 L630.5,600.1 L630.8,596.9 L631.0,593.4 L631.3,589.9 L631.5,586.6 L631.8,584.1 L632.0,581.4 L632.3,579.2 L632.5,578.9 L632.8,579.4 L633.0,581.4 L633.3,582.9 L633.5,584.3 L633.8,587.1 L634.0,590.7 L634.3,596.4 L634.5,602.4 L634.8,606.8 L635.0,611.3 L635.3,615.5 L635.5,619.2 L635.8,622.4 L636.0,625.4 L636.3,627.9 L636.5,628.8 L636.8,629.2 L637.0,628.8 L637.3,628.1 L637.5,627.9 L637.8,628.1 L638.0,628.6 L638.3,628.9 L638.5,628.7 L638.8,628.7 L639.0,628.2 L639.3,628.6 L639.5,628.9 L639.8,628.2 L640.0,628.1 L640.3,627.4 L640.5,627.7 L640.8,627.2 L641.0,627.0 L641.3,626.9 L641.5,625.6 L641.8,626.2 L642.0,626.3 L642.3,626.3 L642.5,626.9 L642.8,626.4 L643.0,626.1 L643.3,625.4 L643.5,624.7 L643.8,624.3 L644.0,623.4 L644.3,623.0 L644.5,622.0 L644.8,621.0 L645.0,619.7 L645.3,618.5 L645.5,617.5 L645.8,615.9 L646.0,615.0 L646.3,613.5 L646.5,610.9 L646.8,607.9 L647.0,603.5 L647.3,598.6 L647.5,593.8 L647.8,587.9 L648.0,580.7 L648.3,572.8 L648.5,565.1 L648.8,557.4 L649.0,549.8 L649.3,542.0 L649.5,534.8 L649.8,529.0 L650.0,523.9 L650.3,518.4 L650.5,515.1 L650.8,514.6 L651.0,517.8 L651.3,524.1 L651.5,530.2 L651.8,536.7 L652.0,544.4 L652.3,552.4 L652.5,559.4 L652.8,565.1 L653.0,570.9 L653.3,576.0 L653.5,579.6 L653.8,582.7 L654.0,585.2 L654.3,586.3 L654.5,587.0 L654.8,585.6 L655.0,582.9 L655.3,580.2 L655.5,578.0 L655.8,575.8 L656.0,573.1 L656.3,570.2 L656.5,568.9 L656.8,568.2 L657.0,567.9 L657.3,568.4 L657.5,567.3 L657.8,567.9 L658.0,568.1 L658.3,568.1 L658.5,568.8 L658.8,568.6 L659.0,569.4 L659.3,569.5 L659.5,570.2 L659.8,571.3 L660.0,572.0 L660.3,573.3 L660.5,574.0 L660.8,574.9 L661.0,575.9 L661.3,577.0 L661.5,577.5 L661.8,578.2 L662.0,579.1 L662.3,579.8 L662.5,580.7 L662.8,581.5 L663.0,582.0 L663.3,582.4 L663.5,583.0 L663.8,584.5 L664.0,585.0 L664.3,585.8 L664.5,586.8 L664.8,586.7 L665.0,587.7 L665.3,588.9 L665.5,590.2 L665.8,591.8 L666.0,593.2 L666.3,593.9 L666.5,594.7 L666.8,594.8 L667.0,595.5 L667.3,596.8 L667.5,597.4 L667.8,598.7 L668.0,599.5 L668.3,599.7 L668.5,600.0 L668.8,600.7 L669.0,601.5 L669.3,602.3 L669.5,602.3 L669.8,602.9 L670.0,603.2 L670.3,603.7 L670.5,604.2 L670.8,603.0 L671.0,602.1 L671.3,601.0 L671.5,601.3 L671.8,601.3 L672.0,601.0 L672.3,601.1 L672.5,600.3 L672.8,600.4 L673.0,600.1 L673.3,600.2 L673.5,599.9 L673.8,599.2 L674.0,599.4 L674.3,598.3 L674.5,597.7 L674.8,597.7 L675.0,597.1 L675.3,597.3 L675.5,597.4 L675.8,597.4 L676.0,597.5 L676.3,597.9 L676.5,597.7 L676.8,597.7 L677.0,597.6 L677.3,597.0 L677.5,596.8 L677.8,597.5 L678.0,597.6 L678.3,597.9 L678.5,598.1 L678.8,596.9 L679.0,596.6 L679.3,596.0 L679.5,595.6 L679.8,595.8 L680.0,596.2 L680.3,596.3 L680.5,596.7 L680.8,596.8 L681.0,595.5 L681.3,595.8 L681.5,594.9 L681.8,594.8 L682.0,595.2 L682.3,594.6 L682.5,595.4 L682.8,595.0 L683.0,594.2 L683.3,593.3 L683.5,592.1 L683.8,591.9 L684.0,592.3 L684.3,592.9 L684.5,593.3 L684.8,593.2 L685.0,592.6 L685.3,591.6 L685.5,591.1 L685.8,590.8 L686.0,590.6 L686.3,590.2 L686.5,590.0 L686.8,589.7 L687.0,589.9 L687.3,590.2 L687.5,589.8 L687.8,588.6 L688.0,588.1 L688.3,588.3 L688.5,587.9 L688.8,588.5 L689.0,587.6 L689.3,586.4 L689.5,585.8 L689.8,584.7 L690.0,583.8 L690.3,583.6 L690.5,582.9 L690.8,581.5 L691.0,581.2 L691.3,579.5 L691.5,577.7 L691.8,576.5 L692.0,574.7 L692.3,573.0 L692.5,571.6 L692.8,569.7 L693.0,568.0 L693.3,567.0 L693.5,566.5 L693.8,565.9 L694.0,565.1 L694.3,564.2 L694.5,562.6 L694.8,561.1 L695.0,559.9 L695.3,558.8 L695.5,558.2 L695.8,557.9 L696.0,557.1 L696.3,556.2 L696.5,555.2 L696.8,554.1 L697.0,553.2 L697.3,552.1 L697.5,551.2 L697.8,550.7 L698.0,550.0 L698.3,549.6 L698.5,548.9 L698.8,547.8 L699.0,547.0 L699.3,546.0 L699.5,545.3 L699.8,544.4 L700.0,543.8 L700.3,542.6 L700.5,542.1 L700.8,541.8 L701.0,540.6 L701.3,540.3 L701.5,539.5 L701.8,538.4 L702.0,537.3 L702.3,536.4 L702.5,534.7 L702.8,533.9 L703.0,533.5 L703.3,532.0 L703.5,531.3 L703.8,530.5 L704.0,529.9 L704.3,529.5 L704.5,529.0 L704.8,528.1 L705.0,526.9 L705.3,526.3 L705.5,523.9 L705.8,522.7 L706.0,521.8 L706.3,520.2 L706.5,520.0 L706.8,518.2 L707.0,516.4 L707.3,515.0 L707.5,513.0 L707.8,511.7 L708.0,509.7 L708.3,508.2 L708.5,507.5 L708.8,506.6 L709.0,505.5 L709.3,504.5 L709.5,502.6 L709.8,500.1 L710.0,498.3 L710.3,496.2 L710.5,494.4 L710.8,493.4 L711.0,491.6 L711.3,489.6 L711.5,488.0 L711.8,485.8 L712.0,484.0 L712.3,481.8 L712.5,479.4 L712.8,477.0 L713.0,474.1 L713.3,471.7 L713.5,468.4 L713.8,465.2 L714.0,462.1 L714.3,458.6 L714.5,455.2 L714.8,451.1 L715.0,446.9 L715.3,442.0 L715.5,437.2 L715.8,432.0 L716.0,425.4 L716.3,417.8 L716.5,410.1 L716.8,402.7 L717.0,395.3 L717.3,389.4 L717.5,384.1 L717.8,380.6 L718.0,380.3 L718.3,380.2 L718.5,380.3 L718.8,379.7 L719.0,379.4 L719.3,379.3 L719.5,379.7 L719.8,380.1 L720.0,380.1 L720.3,380.2 L720.5,380.2 L720.8,380.0 L721.0,380.3 L721.3,380.2 L721.5,379.6 L721.8,379.6 L722.0,379.0 L722.3,379.3 L722.5,379.4 L722.8,379.5 L723.0,379.7 L723.3,379.8 L723.5,380.3 L723.8,380.8 L724.0,381.2 L724.3,381.0 L724.5,380.6 L724.8,380.1 L725.0,380.1 L725.3,379.9 L725.5,380.0 L725.8,380.2 L726.0,380.0 L726.3,380.4 L726.5,380.3 L726.8,380.5 L727.0,380.3 L727.3,380.1 L727.5,380.3 L727.8,380.2 L728.0,380.0 L728.3,380.5 L728.5,381.8 L728.8,384.2 L729.0,387.3 L729.3,391.4 L729.5,395.6 L729.8,399.7 L730.0,405.1 L730.3,410.2 L730.5,415.7 L730.8,422.7 L731.0,428.4 L731.3,434.7 L731.5,442.3 L731.8,451.0 L732.0,461.8 L732.3,472.0 L732.5,482.5 L732.8,492.7 L733.0,503.2 L733.3,514.1 L733.5,525.1 L733.8,535.9 L734.0,546.9 L734.3,558.3 L734.5,569.4 L734.8,579.8 L735.0,589.9 L735.3,600.4 L735.5,611.0 L735.8,621.8" fill="none" stroke="#ee30ee" stroke-width="1.8" stroke-linejoin="round" clip-path="url(#cd)" />
<path d="M526.3,666.2 L526.5,665.5 L526.8,664.0 L527.0,662.9 L527.3,662.1 L527.5,660.2 L527.8,659.5 L528.0,658.7 L528.3,658.0 L528.5,657.8 L528.8,657.5 L529.0,657.0 L529.3,656.7 L529.5,655.9 L529.8,655.0 L530.0,655.0 L530.3,655.0 L530.5,655.5 L530.8,655.5 L531.0,655.6 L531.3,655.9 L531.5,655.5 L531.8,656.5 L532.0,656.5 L532.3,657.1 L532.5,658.0 L532.8,657.9 L533.0,657.8 L533.3,657.6 L533.5,657.6 L533.8,657.2 L534.0,657.6 L534.3,657.5 L534.5,656.9 L534.8,657.0 L535.0,656.4 L535.3,656.4 L535.5,656.7 L535.8,656.2 L536.0,656.5 L536.3,656.7 L536.5,656.4 L536.8,657.6 L537.0,657.5 L537.3,657.8 L537.5,658.4 L537.8,658.3 L538.0,658.5 L538.3,659.0 L538.5,658.7 L538.8,658.9 L539.0,659.0 L539.3,658.1 L539.5,658.5 L539.8,657.8 L540.0,658.5 L540.3,659.5 L540.5,658.9 L540.8,659.4 L541.0,659.7 L541.3,658.9 L541.5,659.9 L541.8,660.1 L542.0,659.2 L542.3,658.3 L542.5,658.0 L542.8,658.3 L543.0,658.6 L543.3,660.2 L543.5,659.7 L543.8,659.6 L544.0,659.8 L544.3,659.3 L544.5,659.8 L544.8,659.3 L545.0,659.4 L545.3,659.0 L545.5,659.5 L545.8,659.3 L546.0,659.6 L546.3,659.7 L546.5,658.9 L546.8,659.7 L547.0,659.8 L547.3,660.3 L547.5,661.7 L547.8,661.2 L548.0,661.5 L548.3,661.7 L548.5,661.6 L548.8,661.2 L549.0,660.4 L549.3,659.6 L549.5,658.1 L549.8,657.4 L550.0,657.0 L550.3,656.6 L550.5,656.2 L550.8,656.4 L551.0,655.4 L551.3,655.7 L551.5,655.9 L551.8,655.7 L552.0,656.3 L552.3,655.3 L552.5,654.4 L552.8,653.7 L553.0,652.8 L553.3,652.3 L553.5,652.5 L553.8,652.1 L554.0,652.4 L554.3,652.3 L554.5,652.1 L554.8,651.5 L555.0,650.2 L555.3,649.3 L555.5,647.3 L555.8,647.4 L556.0,647.5 L556.3,647.4 L556.5,648.0 L556.8,647.7 L557.0,646.9 L557.3,646.6 L557.5,646.4 L557.8,646.0 L558.0,646.6 L558.3,646.2 L558.5,645.3 L558.8,644.7 L559.0,643.5 L559.3,642.8 L559.5,642.1 L559.8,641.3 L560.0,641.0 L560.3,640.5 L560.5,640.9 L560.8,641.6 L561.0,641.5 L561.3,641.1 L561.5,640.7 L561.8,640.3 L562.0,640.3 L562.3,640.9 L562.5,641.1 L562.8,641.0 L563.0,640.7 L563.3,640.9 L563.5,641.0 L563.8,641.0 L564.0,642.0 L564.3,641.0 L564.5,641.9 L564.8,643.0 L565.0,642.7 L565.3,643.6 L565.5,643.2 L565.8,642.6 L566.0,642.7 L566.3,642.5 L566.5,642.2 L566.8,641.3 L567.0,641.1 L567.3,641.3 L567.5,641.1 L567.8,641.9 L568.0,642.2 L568.3,642.9 L568.5,642.8 L568.8,643.1 L569.0,643.9 L569.3,643.6 L569.5,644.0 L569.8,643.0 L570.0,642.9 L570.3,643.1 L570.5,643.9 L570.8,644.7 L571.0,643.7 L571.3,643.5 L571.5,643.2 L571.8,642.9 L572.0,643.7 L572.3,643.5 L572.5,643.9 L572.8,643.4 L573.0,643.4 L573.3,643.7 L573.5,643.7 L573.8,645.1 L574.0,645.2 L574.3,645.4 L574.5,644.9 L574.8,644.9 L575.0,644.8 L575.3,644.9 L575.5,645.2 L575.8,644.9 L576.0,644.6 L576.3,645.5 L576.5,645.6 L576.8,645.3 L577.0,645.4 L577.3,644.4 L577.5,644.1 L577.8,644.5 L578.0,644.6 L578.3,644.4 L578.5,644.9 L578.8,644.5 L579.0,644.3 L579.3,644.0 L579.5,643.7 L579.8,643.1 L580.0,643.0 L580.3,642.6 L580.5,641.9 L580.8,641.0 L581.0,640.2 L581.3,639.0 L581.5,638.1 L581.8,638.1 L582.0,637.4 L582.3,637.0 L582.5,637.2 L582.8,636.9 L583.0,637.3 L583.3,637.5 L583.5,636.1 L583.8,636.5 L584.0,636.1 L584.3,636.6 L584.5,636.9 L584.8,635.3 L585.0,634.7 L585.3,633.3 L585.5,632.8 L585.8,632.9 L586.0,631.9 L586.3,632.3 L586.5,631.8 L586.8,630.9 L587.0,631.6 L587.3,630.5 L587.5,630.0 L587.8,630.9 L588.0,630.0 L588.3,629.3 L588.5,629.9 L588.8,629.5 L589.0,629.3 L589.3,629.0 L589.5,628.3 L589.8,626.9 L590.0,626.6 L590.3,627.3 L590.5,627.4 L590.8,627.6 L591.0,627.9 L591.3,627.4 L591.5,626.7 L591.8,626.6 L592.0,626.0 L592.3,626.2 L592.5,626.2 L592.8,626.0 L593.0,626.3 L593.3,626.0 L593.5,626.3 L593.8,626.7 L594.0,626.1 L594.3,625.6 L594.5,624.9 L594.8,624.4 L595.0,623.2 L595.3,623.1 L595.5,623.6 L595.8,623.6 L596.0,624.0 L596.3,624.3 L596.5,623.6 L596.8,623.9 L597.0,624.2 L597.3,623.6 L597.5,623.7 L597.8,623.0 L598.0,623.2 L598.3,623.2 L598.5,623.4 L598.8,623.3 L599.0,622.4 L599.3,622.2 L599.5,621.4 L599.8,621.6 L600.0,622.1 L600.3,622.2 L600.5,622.5 L600.8,622.1 L601.0,622.1 L601.3,621.8 L601.5,621.9 L601.8,620.8 L602.0,619.7 L602.3,619.7 L602.5,619.2 L602.8,620.4 L603.0,620.8 L603.3,620.7 L603.5,620.3 L603.8,619.7 L604.0,619.4 L604.3,618.6 L604.5,618.0 L604.8,617.6 L605.0,616.8 L605.3,617.1 L605.5,617.6 L605.8,617.2 L606.0,617.2 L606.3,616.4 L606.5,615.4 L606.8,615.4 L607.0,615.9 L607.3,616.2 L607.5,616.4 L607.8,616.3 L608.0,615.6 L608.3,615.1 L608.5,615.3 L608.8,615.0 L609.0,615.4 L609.3,615.2 L609.5,614.2 L609.8,613.8 L610.0,612.8 L610.3,612.1 L610.5,611.6 L610.8,610.6 L611.0,610.3 L611.3,609.5 L611.5,609.6 L611.8,610.0 L612.0,608.9 L612.3,609.2 L612.5,608.6 L612.8,607.5 L613.0,607.9 L613.3,607.9 L613.5,607.3 L613.8,607.8 L614.0,607.5 L614.3,606.6 L614.5,606.3 L614.8,606.3 L615.0,606.8 L615.3,607.5 L615.5,608.5 L615.8,607.7 L616.0,608.1 L616.3,609.0 L616.5,608.7 L616.8,609.5 L617.0,608.7 L617.3,609.4 L617.5,609.7 L617.8,609.7 L618.0,610.0 L618.3,608.8 L618.5,608.7 L618.8,609.3 L619.0,610.0 L619.3,610.0 L619.5,610.3 L619.8,609.7 L620.0,609.5 L620.3,608.6 L620.5,609.1 L620.8,609.4 L621.0,608.8 L621.3,610.0 L621.5,609.1 L621.8,608.5 L622.0,609.3 L622.3,608.9 L622.5,609.0 L622.8,609.5 L623.0,608.8 L623.3,608.6 L623.5,608.1 L623.8,607.1 L624.0,607.1 L624.3,606.3 L624.5,606.5 L624.8,607.2 L625.0,606.9 L625.3,607.5 L625.5,606.6 L625.8,606.0 L626.0,606.0 L626.3,605.9 L626.5,606.1 L626.8,605.2 L627.0,604.0 L627.3,603.3 L627.5,601.3 L627.8,600.3 L628.0,598.8 L628.3,596.7 L628.5,596.4 L628.8,595.4 L629.0,594.2 L629.3,592.5 L629.5,589.4 L629.8,585.9 L630.0,581.9 L630.3,578.7 L630.5,575.1 L630.8,571.8 L631.0,569.6 L631.3,566.0 L631.5,564.3 L631.8,562.4 L632.0,558.7 L632.3,557.6 L632.5,556.6 L632.8,556.5 L633.0,558.8 L633.3,560.8 L633.5,562.6 L633.8,566.6 L634.0,571.9 L634.3,578.2 L634.5,583.4 L634.8,588.2 L635.0,590.2 L635.3,589.9 L635.5,590.7 L635.8,591.1 L636.0,591.4 L636.3,591.1 L636.5,590.0 L636.8,590.2 L637.0,590.3 L637.3,591.1 L637.5,592.8 L637.8,592.2 L638.0,592.4 L638.3,593.1 L638.5,592.6 L638.8,593.7 L639.0,594.5 L639.3,593.9 L639.5,593.7 L639.8,593.5 L640.0,592.7 L640.3,592.1 L640.5,591.9 L640.8,591.0 L641.0,589.6 L641.3,589.9 L641.5,589.6 L641.8,588.6 L642.0,589.3 L642.3,588.0 L642.5,586.3 L642.8,586.6 L643.0,586.4 L643.3,587.2 L643.5,587.7 L643.8,587.9 L644.0,587.4 L644.3,586.9 L644.5,587.2 L644.8,586.8 L645.0,586.2 L645.3,586.0 L645.5,585.1 L645.8,584.4 L646.0,583.7 L646.3,582.5 L646.5,581.7 L646.8,579.8 L647.0,577.6 L647.3,574.7 L647.5,571.3 L647.8,567.5 L648.0,563.0 L648.3,557.7 L648.5,552.0 L648.8,544.2 L649.0,536.1 L649.3,527.7 L649.5,519.0 L649.8,512.3 L650.0,505.1 L650.3,496.4 L650.5,491.0 L650.8,490.4 L651.0,493.5 L651.3,502.0 L651.5,509.3 L651.8,517.1 L652.0,527.8 L652.3,536.5 L652.5,543.8 L652.8,548.1 L653.0,551.1 L653.3,553.8 L653.5,554.9 L653.8,556.5 L654.0,557.2 L654.3,557.0 L654.5,556.8 L654.8,554.7 L655.0,552.9 L655.3,551.6 L655.5,550.7 L655.8,549.5 L656.0,548.4 L656.3,547.5 L656.5,546.2 L656.8,545.3 L657.0,545.1 L657.3,544.4 L657.5,544.4 L657.8,544.8 L658.0,544.2 L658.3,543.3 L658.5,541.6 L658.8,540.2 L659.0,540.7 L659.3,541.4 L659.5,542.4 L659.8,543.2 L660.0,542.6 L660.3,542.9 L660.5,543.5 L660.8,542.8 L661.0,543.1 L661.3,543.5 L661.5,543.4 L661.8,544.2 L662.0,544.1 L662.3,544.5 L662.5,545.0 L662.8,544.6 L663.0,544.5 L663.3,544.7 L663.5,545.6 L663.8,546.7 L664.0,548.4 L664.3,549.2 L664.5,549.6 L664.8,550.4 L665.0,550.4 L665.3,550.1 L665.5,550.2 L665.8,551.1 L666.0,551.8 L666.3,553.3 L666.5,553.9 L666.8,554.7 L667.0,555.1 L667.3,555.2 L667.5,555.5 L667.8,555.2 L668.0,554.9 L668.3,555.5 L668.5,555.7 L668.8,557.0 L669.0,558.1 L669.3,557.6 L669.5,558.3 L669.8,558.1 L670.0,558.0 L670.3,559.2 L670.5,558.9 L670.8,558.8 L671.0,558.8 L671.3,557.6 L671.5,557.7 L671.8,557.6 L672.0,558.1 L672.3,558.9 L672.5,559.1 L672.8,559.4 L673.0,559.2 L673.3,559.3 L673.5,558.9 L673.8,558.1 L674.0,556.9 L674.3,556.5 L674.5,556.0 L674.8,556.3 L675.0,556.9 L675.3,557.6 L675.5,557.9 L675.8,557.3 L676.0,557.3 L676.3,556.2 L676.5,556.2 L676.8,556.7 L677.0,557.4 L677.3,556.8 L677.5,556.5 L677.8,556.0 L678.0,554.8 L678.3,555.4 L678.5,555.4 L678.8,555.7 L679.0,555.9 L679.3,556.0 L679.5,556.5 L679.8,556.0 L680.0,556.3 L680.3,556.3 L680.5,556.1 L680.8,555.1 L681.0,554.3 L681.3,553.4 L681.5,552.5 L681.8,553.3 L682.0,554.0 L682.3,554.7 L682.5,554.0 L682.8,553.8 L683.0,553.4 L683.3,552.6 L683.5,553.3 L683.8,553.1 L684.0,553.2 L684.3,552.7 L684.5,552.3 L684.8,551.9 L685.0,551.2 L685.3,551.3 L685.5,550.4 L685.8,549.6 L686.0,549.2 L686.3,548.3 L686.5,548.4 L686.8,548.1 L687.0,546.8 L687.3,547.0 L687.5,546.1 L687.8,545.6 L688.0,545.9 L688.3,544.6 L688.5,544.1 L688.8,544.1 L689.0,543.3 L689.3,543.8 L689.5,543.0 L689.8,541.8 L690.0,541.7 L690.3,539.8 L690.5,540.2 L690.8,540.8 L691.0,539.6 L691.3,540.9 L691.5,540.0 L691.8,539.4 L692.0,539.3 L692.3,538.0 L692.5,536.8 L692.8,535.6 L693.0,534.3 L693.3,533.8 L693.5,533.5 L693.8,532.5 L694.0,532.7 L694.3,531.3 L694.5,530.7 L694.8,530.3 L695.0,529.6 L695.3,529.6 L695.5,528.8 L695.8,527.8 L696.0,526.3 L696.3,525.4 L696.5,524.7 L696.8,523.8 L697.0,523.0 L697.3,522.0 L697.5,521.0 L697.8,520.1 L698.0,519.6 L698.3,518.8 L698.5,517.7 L698.8,517.5 L699.0,516.2 L699.3,515.0 L699.5,514.8 L699.8,513.5 L700.0,512.6 L700.3,512.3 L700.5,511.3 L700.8,510.6 L701.0,510.6 L701.3,509.8 L701.5,509.6 L701.8,509.1 L702.0,508.0 L702.3,507.0 L702.5,505.9 L702.8,505.2 L703.0,504.3 L703.3,503.7 L703.5,503.4 L703.8,503.2 L704.0,502.6 L704.3,502.3 L704.5,501.8 L704.8,500.5 L705.0,500.3 L705.3,499.3 L705.5,498.3 L705.8,498.6 L706.0,498.0 L706.3,497.7 L706.5,497.3 L706.8,496.5 L707.0,496.3 L707.3,496.6 L707.5,495.8 L707.8,494.9 L708.0,494.4 L708.3,493.0 L708.5,493.1 L708.8,492.6 L709.0,491.9 L709.3,491.0 L709.5,490.0 L709.8,489.1 L710.0,488.9 L710.3,488.5 L710.5,487.0 L710.8,486.2 L711.0,484.8 L711.3,483.4 L711.5,482.6 L711.8,480.9 L712.0,479.8 L712.3,477.7 L712.5,475.8 L712.8,474.5 L713.0,472.2 L713.3,470.9 L713.5,469.2 L713.8,466.1 L714.0,463.4 L714.3,459.9 L714.5,455.9 L714.8,453.3 L715.0,450.2 L715.3,448.1 L715.5,446.7 L715.8,444.8 L716.0,443.2 L716.3,442.1 L716.5,439.6 L716.8,437.7 L717.0,434.9 L717.3,431.6 L717.5,425.6 L717.8,416.7 L718.0,407.1 L718.3,396.2 L718.5,387.4 L718.8,381.5 L719.0,379.6 L719.3,379.7 L719.5,379.6 L719.8,379.4 L720.0,378.9 L720.3,379.2 L720.5,379.2 L720.8,379.3 L721.0,379.6 L721.3,379.6 L721.5,379.9 L721.8,379.7 L722.0,380.4 L722.3,380.6 L722.5,380.0 L722.8,380.0 L723.0,379.8 L723.3,380.1 L723.5,380.4 L723.8,380.3 L724.0,379.8 L724.3,379.2 L724.5,379.3 L724.8,379.4 L725.0,379.6 L725.3,379.4 L725.5,379.3 L725.8,379.4 L726.0,379.2 L726.3,380.2 L726.5,379.4 L726.8,379.7 L727.0,380.1 L727.3,379.6 L727.5,380.9 L727.8,380.3 L728.0,379.5 L728.3,379.1 L728.5,378.5 L728.8,379.2 L729.0,379.7 L729.3,380.0 L729.5,380.6 L729.8,381.3 L730.0,381.5 L730.3,382.0 L730.5,383.1 L730.8,384.4 L731.0,387.2 L731.3,390.4 L731.5,393.7 L731.8,398.1 L732.0,402.9 L732.3,408.8 L732.5,414.3 L732.8,420.5 L733.0,426.6 L733.3,432.6 L733.5,442.5 L733.8,455.3 L734.0,471.4 L734.3,486.0 L734.5,502.1 L734.8,518.9 L735.0,533.6 L735.3,548.6 L735.5,562.2 L735.8,575.3" fill="none" stroke="#2020dc" stroke-width="1.8" stroke-linejoin="round" clip-path="url(#cd)" />
<path d="M526.3,732.4 L526.5,732.1 L526.8,731.7 L527.0,731.8 L527.3,731.1 L527.5,730.1 L527.8,729.5 L528.0,729.1 L528.3,729.1 L528.5,729.2 L528.8,728.7 L529.0,729.1 L529.3,728.9 L529.5,729.2 L529.8,729.5 L530.0,728.8 L530.3,728.9 L530.5,729.0 L530.8,729.0 L531.0,729.0 L531.3,728.7 L531.5,728.2 L531.8,728.2 L532.0,728.3 L532.3,728.1 L532.5,728.9 L532.8,728.8 L533.0,728.7 L533.3,729.6 L533.5,729.0 L533.8,729.4 L534.0,729.6 L534.3,729.6 L534.5,729.5 L534.8,729.9 L535.0,729.5 L535.3,729.6 L535.5,730.2 L535.8,730.1 L536.0,730.5 L536.3,730.6 L536.5,730.8 L536.8,731.1 L537.0,731.1 L537.3,730.9 L537.5,730.9 L537.8,730.8 L538.0,730.9 L538.3,730.5 L538.5,730.6 L538.8,730.5 L539.0,731.0 L539.3,731.2 L539.5,731.1 L539.8,731.1 L540.0,730.8 L540.3,730.8 L540.5,730.9 L540.8,730.7 L541.0,730.6 L541.3,730.7 L541.5,730.7 L541.8,731.3 L542.0,731.9 L542.3,732.3 L542.5,732.0 L542.8,731.7 L543.0,731.9 L543.3,731.6 L543.5,731.7 L543.8,731.5 L544.0,731.2 L544.3,730.8 L544.5,730.6 L544.8,730.6 L545.0,730.4 L545.3,730.8 L545.5,731.0 L545.8,731.3 L546.0,731.3 L546.3,730.9 L546.5,730.6 L546.8,730.2 L547.0,729.9 L547.3,730.4 L547.5,730.0 L547.8,730.2 L548.0,730.2 L548.3,729.2 L548.5,729.9 L548.8,729.5 L549.0,729.3 L549.3,730.2 L549.5,729.5 L549.8,729.4 L550.0,730.0 L550.3,729.0 L550.5,728.7 L550.8,728.7 L551.0,728.3 L551.3,728.2 L551.5,727.9 L551.8,727.2 L552.0,727.1 L552.3,727.5 L552.5,728.0 L552.8,728.3 L553.0,728.2 L553.3,727.1 L553.5,726.6 L553.8,726.2 L554.0,726.3 L554.3,726.6 L554.5,726.5 L554.8,726.5 L555.0,726.1 L555.3,726.2 L555.5,726.5 L555.8,726.7 L556.0,726.5 L556.3,726.1 L556.5,725.8 L556.8,725.5 L557.0,725.3 L557.3,725.3 L557.5,724.4 L557.8,724.3 L558.0,724.5 L558.3,724.5 L558.5,724.6 L558.8,724.7 L559.0,724.5 L559.3,724.3 L559.5,724.1 L559.8,723.8 L560.0,723.8 L560.3,723.5 L560.5,723.0 L560.8,722.8 L561.0,722.7 L561.3,723.2 L561.5,723.9 L561.8,723.2 L562.0,723.3 L562.3,722.8 L562.5,723.0 L562.8,723.4 L563.0,723.0 L563.3,722.8 L563.5,722.2 L563.8,722.2 L564.0,722.2 L564.3,722.8 L564.5,722.9 L564.8,722.9 L565.0,722.7 L565.3,722.3 L565.5,722.2 L565.8,721.9 L566.0,722.4 L566.3,723.0 L566.5,723.1 L566.8,723.4 L567.0,723.5 L567.3,723.4 L567.5,723.8 L567.8,723.7 L568.0,724.0 L568.3,724.0 L568.5,723.9 L568.8,724.1 L569.0,723.6 L569.3,723.5 L569.5,723.4 L569.8,723.5 L570.0,723.7 L570.3,723.6 L570.5,723.6 L570.8,723.7 L571.0,723.7 L571.3,724.6 L571.5,724.4 L571.8,724.3 L572.0,724.1 L572.3,723.3 L572.5,723.5 L572.8,723.2 L573.0,723.5 L573.3,723.6 L573.5,723.8 L573.8,724.5 L574.0,724.5 L574.3,724.4 L574.5,724.4 L574.8,722.8 L575.0,722.8 L575.3,723.2 L575.5,722.8 L575.8,723.5 L576.0,723.0 L576.3,722.2 L576.5,722.2 L576.8,722.2 L577.0,722.0 L577.3,722.5 L577.5,721.9 L577.8,722.0 L578.0,722.2 L578.3,721.9 L578.5,722.2 L578.8,721.9 L579.0,721.3 L579.3,720.4 L579.5,720.2 L579.8,720.4 L580.0,720.6 L580.3,721.2 L580.5,721.2 L580.8,720.8 L581.0,720.8 L581.3,720.7 L581.5,720.0 L581.8,719.8 L582.0,719.3 L582.3,719.3 L582.5,719.3 L582.8,718.9 L583.0,719.4 L583.3,718.9 L583.5,719.3 L583.8,719.1 L584.0,719.5 L584.3,719.5 L584.5,719.0 L584.8,719.4 L585.0,718.5 L585.3,718.5 L585.5,718.7 L585.8,718.5 L586.0,718.6 L586.3,719.0 L586.5,719.2 L586.8,718.9 L587.0,719.1 L587.3,718.6 L587.5,718.2 L587.8,718.3 L588.0,717.7 L588.3,717.9 L588.5,717.8 L588.8,717.9 L589.0,718.5 L589.3,718.1 L589.5,718.2 L589.8,718.1 L590.0,717.7 L590.3,717.8 L590.5,717.7 L590.8,717.2 L591.0,717.3 L591.3,717.9 L591.5,717.9 L591.8,718.4 L592.0,718.5 L592.3,717.8 L592.5,718.0 L592.8,718.1 L593.0,718.1 L593.3,718.2 L593.5,718.6 L593.8,718.3 L594.0,718.1 L594.3,718.1 L594.5,717.8 L594.8,717.9 L595.0,718.8 L595.3,718.7 L595.5,718.7 L595.8,718.9 L596.0,718.6 L596.3,718.7 L596.5,718.9 L596.8,718.5 L597.0,718.5 L597.3,718.6 L597.5,718.8 L597.8,718.8 L598.0,718.7 L598.3,718.7 L598.5,718.7 L598.8,719.0 L599.0,718.5 L599.3,718.2 L599.5,718.7 L599.8,718.7 L600.0,719.4 L600.3,719.8 L600.5,719.3 L600.8,719.5 L601.0,719.3 L601.3,719.3 L601.5,719.6 L601.8,719.2 L602.0,719.5 L602.3,719.3 L602.5,718.7 L602.8,718.7 L603.0,718.4 L603.3,719.2 L603.5,719.6 L603.8,719.9 L604.0,719.8 L604.3,719.6 L604.5,719.9 L604.8,720.2 L605.0,720.5 L605.3,720.1 L605.5,720.0 L605.8,719.6 L606.0,719.6 L606.3,719.8 L606.5,719.6 L606.8,720.0 L607.0,719.9 L607.3,720.3 L607.5,720.6 L607.8,720.3 L608.0,720.7 L608.3,721.3 L608.5,721.4 L608.8,721.6 L609.0,721.8 L609.3,721.5 L609.5,721.3 L609.8,721.2 L610.0,720.7 L610.3,720.4 L610.5,720.2 L610.8,720.3 L611.0,720.6 L611.3,720.9 L611.5,721.0 L611.8,720.9 L612.0,720.9 L612.3,720.2 L612.5,719.8 L612.8,720.0 L613.0,720.0 L613.3,720.3 L613.5,720.4 L613.8,720.4 L614.0,720.0 L614.3,719.9 L614.5,719.8 L614.8,719.8 L615.0,720.2 L615.3,720.0 L615.5,720.5 L615.8,720.7 L616.0,720.9 L616.3,721.2 L616.5,721.3 L616.8,720.8 L617.0,720.8 L617.3,720.8 L617.5,720.3 L617.8,720.6 L618.0,720.0 L618.3,720.0 L618.5,720.4 L618.8,720.4 L619.0,720.3 L619.3,720.1 L619.5,720.3 L619.8,720.5 L620.0,720.6 L620.3,720.3 L620.5,719.9 L620.8,719.8 L621.0,719.9 L621.3,720.5 L621.5,720.7 L621.8,720.2 L622.0,720.1 L622.3,719.4 L622.5,719.2 L622.8,719.5 L623.0,719.5 L623.3,719.9 L623.5,719.9 L623.8,719.7 L624.0,719.5 L624.3,718.9 L624.5,718.6 L624.8,718.2 L625.0,717.8 L625.3,718.1 L625.5,717.8 L625.8,717.2 L626.0,716.6 L626.3,714.8 L626.5,713.4 L626.8,711.5 L627.0,709.6 L627.3,708.4 L627.5,705.9 L627.8,703.1 L628.0,698.9 L628.3,694.5 L628.5,689.7 L628.8,684.6 L629.0,678.6 L629.3,669.8 L629.5,660.1 L629.8,649.6 L630.0,637.5 L630.3,625.2 L630.5,610.2 L630.8,593.0 L631.0,575.8 L631.3,559.9 L631.5,543.7 L631.8,527.7 L632.0,513.4 L632.3,504.1 L632.5,498.1 L632.8,493.3 L633.0,492.2 L633.3,495.0 L633.5,500.8 L633.8,508.1 L634.0,519.6 L634.3,534.9 L634.5,551.0 L634.8,566.2 L635.0,583.4 L635.3,600.7 L635.5,616.1 L635.8,629.8 L636.0,640.9 L636.3,650.8 L636.5,660.5 L636.8,668.4 L637.0,675.6 L637.3,682.1 L637.5,688.1 L637.8,693.6 L638.0,698.1 L638.3,701.9 L638.5,704.6 L638.8,706.7 L639.0,708.9 L639.3,710.8 L639.5,712.8 L639.8,713.9 L640.0,714.3 L640.3,714.0 L640.5,713.6 L640.8,713.1 L641.0,712.8 L641.3,712.4 L641.5,711.8 L641.8,711.4 L642.0,710.7 L642.3,710.5 L642.5,710.0 L642.8,709.0 L643.0,708.6 L643.3,707.8 L643.5,706.7 L643.8,705.9 L644.0,704.6 L644.3,703.4 L644.5,702.8 L644.8,701.1 L645.0,699.0 L645.3,696.1 L645.5,692.9 L645.8,689.6 L646.0,684.9 L646.3,677.9 L646.5,669.1 L646.8,659.1 L647.0,647.4 L647.3,633.6 L647.5,616.1 L647.8,595.9 L648.0,574.0 L648.3,548.7 L648.5,518.0 L648.8,481.9 L649.0,441.8 L649.3,400.1 L649.5,357.6 L649.8,311.9 L650.0,260.8 L650.3,200.6 L650.5,101.1 L650.8,-10.7 L651.0,-47.4 L651.3,28.3 L651.5,144.6 L651.8,227.1 L652.0,288.3 L652.3,342.8 L652.5,391.9 L652.8,437.9 L653.0,481.5 L653.3,520.8 L653.5,554.4 L653.8,584.0 L654.0,612.9 L654.3,633.7 L654.5,640.2 L654.8,640.0 L655.0,640.4 L655.3,640.3 L655.5,638.1 L655.8,633.0 L656.0,627.1 L656.3,622.5 L656.5,617.1 L656.8,612.6 L657.0,610.1 L657.3,612.2 L657.5,617.7 L657.8,624.7 L658.0,632.3 L658.3,641.5 L658.5,652.7 L658.8,664.3 L659.0,674.5 L659.3,681.8 L659.5,688.2 L659.8,693.8 L660.0,698.5 L660.3,702.3 L660.5,704.6 L660.8,706.6 L661.0,708.5 L661.3,709.2 L661.5,709.7 L661.8,709.7 L662.0,709.5 L662.3,708.7 L662.5,707.8 L662.8,706.5 L663.0,704.6 L663.3,703.1 L663.5,700.6 L663.8,697.9 L664.0,695.9 L664.3,694.1 L664.5,692.6 L664.8,692.1 L665.0,691.6 L665.3,692.5 L665.5,693.3 L665.8,694.2 L666.0,696.4 L666.3,698.5 L666.5,701.5 L666.8,704.5 L667.0,706.7 L667.3,708.7 L667.5,710.3 L667.8,711.9 L668.0,713.5 L668.3,715.1 L668.5,717.0 L668.8,718.3 L669.0,718.9 L669.3,719.3 L669.5,719.8 L669.8,719.6 L670.0,720.3 L670.3,720.1 L670.5,720.0 L670.8,720.8 L671.0,721.1 L671.3,721.8 L671.5,722.4 L671.8,722.0 L672.0,721.8 L672.3,721.6 L672.5,721.3 L672.8,722.1 L673.0,722.8 L673.3,723.1 L673.5,723.6 L673.8,723.1 L674.0,722.4 L674.3,721.9 L674.5,721.9 L674.8,721.7 L675.0,721.9 L675.3,722.5 L675.5,722.3 L675.8,722.5 L676.0,722.7 L676.3,722.0 L676.5,722.2 L676.8,722.1 L677.0,722.2 L677.3,722.4 L677.5,722.0 L677.8,721.8 L678.0,721.4 L678.3,721.4 L678.5,721.3 L678.8,721.6 L679.0,721.9 L679.3,721.9 L679.5,722.4 L679.8,722.1 L680.0,722.3 L680.3,722.4 L680.5,721.8 L680.8,722.3 L681.0,722.3 L681.3,722.5 L681.5,722.7 L681.8,722.9 L682.0,722.8 L682.3,722.8 L682.5,722.7 L682.8,722.0 L683.0,721.4 L683.3,721.6 L683.5,721.4 L683.8,721.7 L684.0,722.1 L684.3,722.0 L684.5,722.4 L684.8,722.1 L685.0,722.4 L685.3,722.2 L685.5,722.2 L685.8,722.5 L686.0,722.1 L686.3,721.6 L686.5,721.3 L686.8,721.3 L687.0,721.3 L687.3,721.5 L687.5,721.6 L687.8,721.8 L688.0,722.3 L688.3,722.1 L688.5,722.2 L688.8,721.8 L689.0,721.2 L689.3,721.5 L689.5,721.2 L689.8,721.1 L690.0,721.5 L690.3,721.7 L690.5,721.9 L690.8,722.1 L691.0,721.6 L691.3,721.5 L691.5,721.0 L691.8,721.0 L692.0,720.9 L692.3,721.2 L692.5,721.3 L692.8,721.2 L693.0,721.5 L693.3,721.1 L693.5,721.4 L693.8,720.9 L694.0,720.6 L694.3,721.0 L694.5,720.9 L694.8,721.0 L695.0,721.4 L695.3,721.3 L695.5,721.2 L695.8,721.6 L696.0,721.6 L696.3,722.1 L696.5,722.4 L696.8,722.3 L697.0,722.2 L697.3,721.7 L697.5,721.2 L697.8,721.2 L698.0,720.8 L698.3,721.0 L698.5,721.6 L698.8,721.5 L699.0,721.7 L699.3,721.4 L699.5,720.8 L699.8,720.7 L700.0,720.8 L700.3,720.7 L700.5,720.6 L700.8,720.6 L701.0,720.5 L701.3,720.2 L701.5,720.4 L701.8,720.6 L702.0,720.3 L702.3,720.3 L702.5,720.5 L702.8,720.1 L703.0,720.5 L703.3,720.8 L703.5,720.8 L703.8,721.2 L704.0,721.0 L704.3,721.2 L704.5,721.5 L704.8,721.4 L705.0,721.6 L705.3,721.2 L705.5,721.1 L705.8,721.4 L706.0,721.1 L706.3,721.2 L706.5,721.2 L706.8,721.0 L707.0,721.1 L707.3,721.4 L707.5,721.3 L707.8,721.4 L708.0,720.8 L708.3,720.8 L708.5,721.0 L708.8,720.8 L709.0,721.8 L709.3,721.3 L709.5,721.2 L709.8,720.8 L710.0,720.3 L710.3,720.2 L710.5,720.2 L710.8,720.4 L711.0,720.6 L711.3,720.2 L711.5,719.9 L711.8,719.9 L712.0,720.1 L712.3,720.5 L712.5,720.2 L712.8,720.3 L713.0,719.7 L713.3,719.3 L713.5,720.1 L713.8,720.0 L714.0,720.6 L714.3,720.9 L714.5,720.4 L714.8,720.2 L715.0,719.7 L715.3,719.6 L715.5,719.9 L715.8,720.4 L716.0,720.2 L716.3,720.5 L716.5,720.6 L716.8,720.4 L717.0,720.3 L717.3,719.7 L717.5,718.7 L717.8,718.1 L718.0,717.5 L718.3,716.9 L718.5,716.4 L718.8,716.0 L719.0,715.6 L719.3,714.1 L719.5,712.9 L719.8,711.4 L720.0,709.6 L720.3,708.1 L720.5,705.7 L720.8,702.7 L721.0,699.9 L721.3,697.4 L721.5,694.4 L721.8,691.6 L722.0,687.5 L722.3,683.0 L722.5,679.5 L722.8,675.5 L723.0,671.6 L723.3,668.0 L723.5,664.4 L723.8,661.5 L724.0,659.7 L724.3,658.1 L724.5,657.0 L724.8,656.4 L725.0,656.3 L725.3,657.4 L725.5,658.2 L725.8,659.4 L726.0,660.6 L726.3,662.5 L726.5,665.3 L726.8,668.6 L727.0,672.5 L727.3,675.9 L727.5,680.7 L727.8,685.3 L728.0,689.2 L728.3,693.5 L728.5,696.5 L728.8,699.5 L729.0,702.7 L729.3,705.0 L729.5,706.9 L729.8,708.4 L730.0,709.7 L730.3,711.7 L730.5,712.9 L730.8,713.8 L731.0,715.2 L731.3,715.4 L731.5,715.9 L731.8,716.6 L732.0,716.9 L732.3,717.6 L732.5,718.3 L732.8,718.8 L733.0,718.8 L733.3,719.0 L733.5,718.8 L733.8,719.1 L734.0,719.3 L734.3,719.4 L734.5,719.9 L734.8,720.4 L735.0,720.6 L735.3,721.0 L735.5,721.1 L735.8,721.0" fill="none" stroke="#111111" stroke-width="1.8" stroke-linejoin="round" clip-path="url(#cd)" />
<rect x="526.20" y="434.20" width="209.60" height="335.00" fill="none" stroke="#333" stroke-width="1.3"/>
<line x1="549.58" y1="769.20" x2="549.58" y2="774.70" stroke="#333" stroke-width="1.3" />
<text x="549.58" y="792.80" font-size="16" text-anchor="middle" font-weight="normal" fill="#222" >200</text>
<line x1="596.14" y1="769.20" x2="596.14" y2="774.70" stroke="#333" stroke-width="1.3" />
<text x="596.14" y="792.80" font-size="16" text-anchor="middle" font-weight="normal" fill="#222" >300</text>
<line x1="642.70" y1="769.20" x2="642.70" y2="774.70" stroke="#333" stroke-width="1.3" />
<text x="642.70" y="792.80" font-size="16" text-anchor="middle" font-weight="normal" fill="#222" >400</text>
<line x1="689.26" y1="769.20" x2="689.26" y2="774.70" stroke="#333" stroke-width="1.3" />
<text x="689.26" y="792.80" font-size="16" text-anchor="middle" font-weight="normal" fill="#222" >500</text>
<line x1="735.82" y1="769.20" x2="735.82" y2="774.70" stroke="#333" stroke-width="1.3" />
<text x="735.82" y="792.80" font-size="16" text-anchor="middle" font-weight="normal" fill="#222" >600</text>
<line x1="526.30" y1="769.20" x2="526.30" y2="772.20" stroke="#333" stroke-width="1.3" />
<line x1="572.86" y1="769.20" x2="572.86" y2="772.20" stroke="#333" stroke-width="1.3" />
<line x1="619.42" y1="769.20" x2="619.42" y2="772.20" stroke="#333" stroke-width="1.3" />
<line x1="665.98" y1="769.20" x2="665.98" y2="772.20" stroke="#333" stroke-width="1.3" />
<line x1="712.54" y1="769.20" x2="712.54" y2="772.20" stroke="#333" stroke-width="1.3" />
<line x1="630.30" y1="730.70" x2="652.00" y2="730.70" stroke="#1f8c1f" stroke-width="1.5" />
<text x="654.80" y="734.10" font-size="9.7" text-anchor="start" font-weight="normal" fill="#333" >Z</text>
<line x1="682.50" y1="730.70" x2="704.20" y2="730.70" stroke="#e62222" stroke-width="1.5" />
<text x="707.00" y="734.10" font-size="9.7" text-anchor="start" font-weight="normal" fill="#333" >Z1Fe</text>
<line x1="630.30" y1="742.80" x2="652.00" y2="742.80" stroke="#ee30ee" stroke-width="1.5" />
<text x="654.80" y="746.20" font-size="9.7" text-anchor="start" font-weight="normal" fill="#333" >Z2Fe</text>
<line x1="682.50" y1="742.80" x2="704.20" y2="742.80" stroke="#2020dc" stroke-width="1.5" />
<text x="707.00" y="746.20" font-size="9.7" text-anchor="start" font-weight="normal" fill="#333" >Z3Fe</text>
<line x1="630.30" y1="757.50" x2="652.00" y2="757.50" stroke="#111" stroke-width="1.5" />
<text x="654.8" y="760.9" font-size="9.7" fill="#333">Sub. Al<tspan font-size="7" dy="2.2">2</tspan><tspan dy="-2.2">O</tspan><tspan font-size="7" dy="2.2">3</tspan></text>
<text x="681.2" y="454.2" font-size="12.3" font-weight="bold" fill="#111">A<tspan font-size="9.6" dy="3.4">1g</tspan></text>
<text x="691.00" y="474.00" font-size="10.6" text-anchor="middle" font-weight="normal" fill="#333" >(501)</text>
<text x="580.8" y="535.8" font-size="12.3" font-weight="bold" fill="#111">E<tspan font-size="9.6" dy="3.4">g</tspan></text>
<text x="587.70" y="555.20" font-size="10.6" text-anchor="middle" font-weight="normal" fill="#333" >(296)</text>
<text x="550.8" y="572.5" font-size="12.3" font-weight="bold" fill="#111">A<tspan font-size="9.6" dy="3.4">1g</tspan></text>
<text x="561.00" y="591.00" font-size="10.6" text-anchor="middle" font-weight="normal" fill="#333" >(226)</text>
<line x1="694.20" y1="480.00" x2="694.20" y2="513.20" stroke="#222" stroke-width="0.9" />
<path d="M691.90,512.20 L696.50,512.20 L694.20,519.20 Z" fill="#111"/>
<line x1="590.00" y1="564.20" x2="590.00" y2="612.30" stroke="#222" stroke-width="0.9" />
<path d="M587.70,611.30 L592.30,611.30 L590.00,618.30 Z" fill="#111"/>
<line x1="560.80" y1="598.30" x2="560.80" y2="629.00" stroke="#222" stroke-width="0.9" />
<path d="M558.50,628.00 L563.10,628.00 L560.80,635.00 Z" fill="#111"/>
<text x="463.05" y="461.90" font-size="36.3" text-anchor="start" font-weight="normal" fill="#222" >(d)</text>
<text transform="translate(505.3,601.4) rotate(-90)" font-size="19.5" font-weight="bold" text-anchor="middle" fill="#111">Intensity (a.u.)</text>
<text x="631.0" y="816.2" font-size="19.9" font-weight="bold" text-anchor="middle" fill="#111">Raman Shift (cm<tspan font-size="12" dy="-7">-1</tspan><tspan dy="7">)</tspan></text>
</svg></body></html>
